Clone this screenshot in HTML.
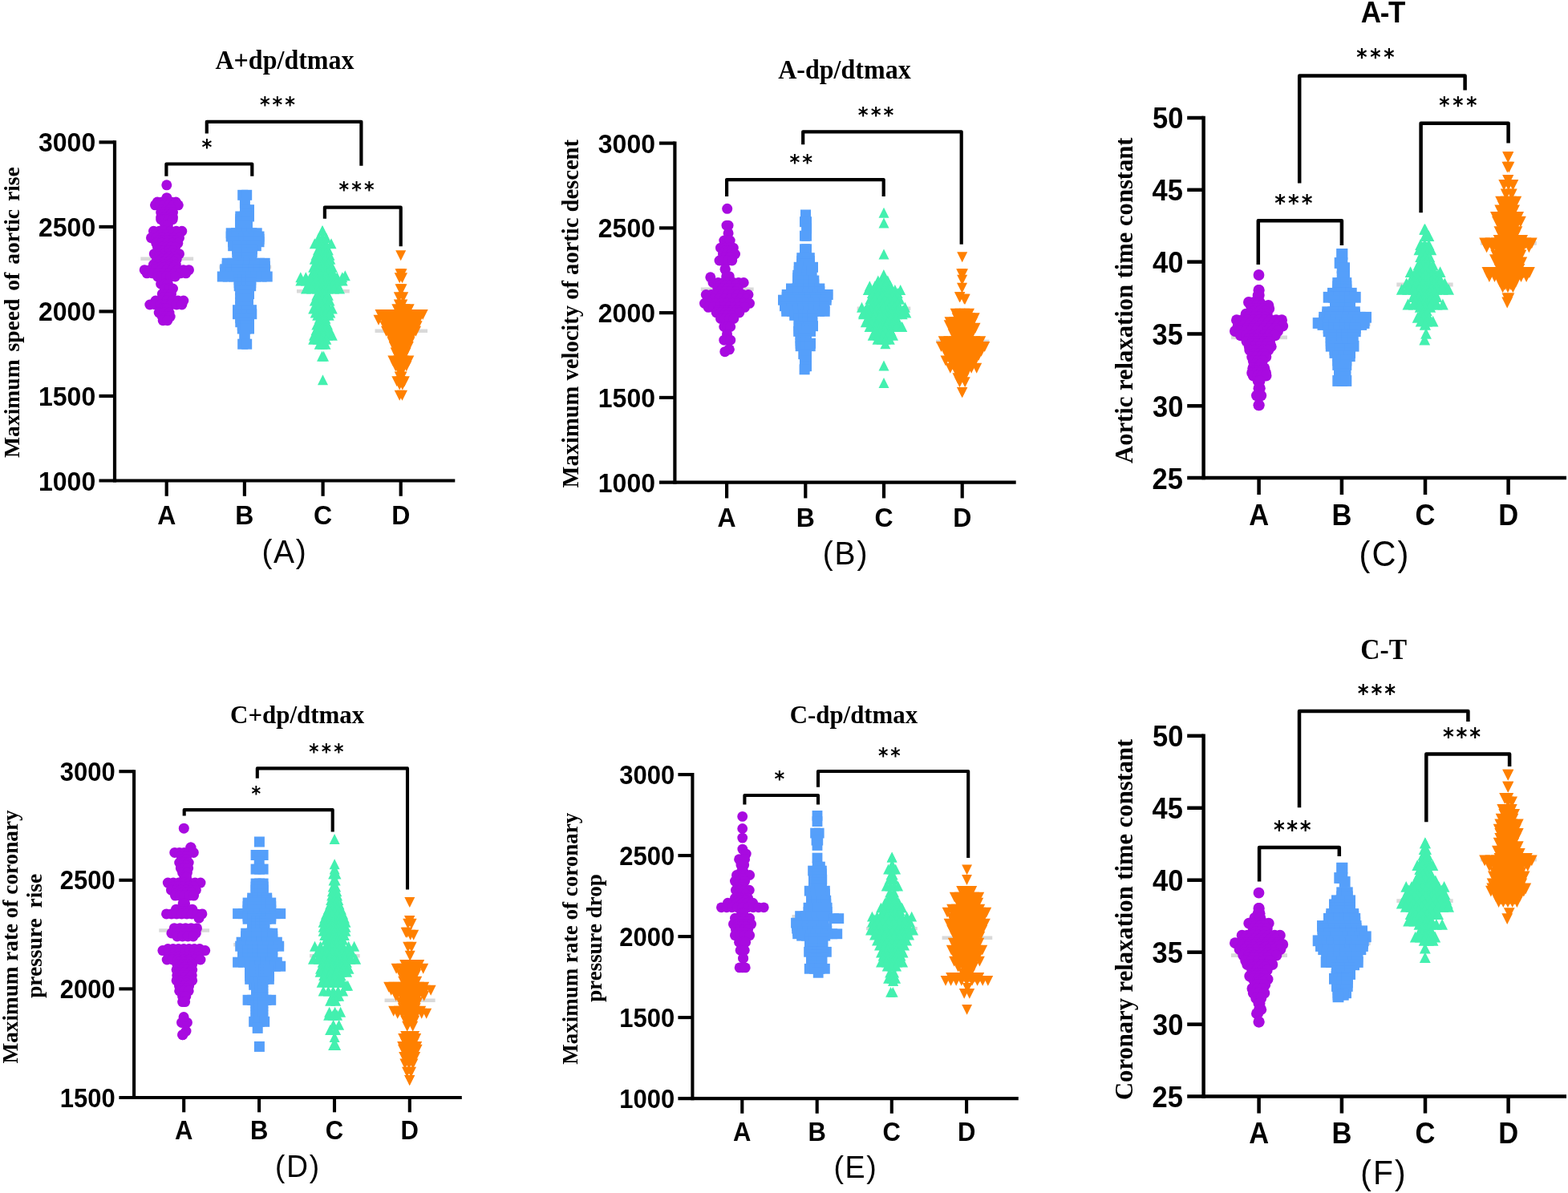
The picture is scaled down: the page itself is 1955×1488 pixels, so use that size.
<!DOCTYPE html>
<html lang="en"><head><meta charset="utf-8"><title>Figure</title>
<style>
html,body{margin:0;padding:0;background:#fff;}
body{width:1955px;height:1488px;overflow:hidden;}
svg{display:block;}
text{fill:#000;}
</style></head>
<body>
<svg width="1955" height="1488" viewBox="0 0 1955 1488">
<rect width="1955" height="1488" fill="#fff"/>
<!-- panel A -->
<line x1="175.33" y1="322.67" x2="241.17" y2="322.67" stroke="#D9D9D9" stroke-width="4.5" stroke-linecap="butt"/>
<g fill="#A80AE0"><circle cx="207.9" cy="246.7" r="6.50"/><circle cx="196.2" cy="252.0" r="6.50"/><circle cx="202.0" cy="252.0" r="6.50"/><circle cx="207.8" cy="252.0" r="6.50"/><circle cx="213.5" cy="252.0" r="6.50"/><circle cx="219.3" cy="252.0" r="6.50"/><circle cx="193.5" cy="255.8" r="6.50"/><circle cx="199.3" cy="255.8" r="6.50"/><circle cx="205.0" cy="255.8" r="6.50"/><circle cx="210.8" cy="255.8" r="6.50"/><circle cx="216.6" cy="255.8" r="6.50"/><circle cx="222.3" cy="255.8" r="6.50"/><circle cx="203.3" cy="260.4" r="6.50"/><circle cx="208.1" cy="260.4" r="6.50"/><circle cx="212.9" cy="260.4" r="6.50"/><circle cx="200.7" cy="265.0" r="6.50"/><circle cx="205.6" cy="265.0" r="6.50"/><circle cx="210.6" cy="265.0" r="6.50"/><circle cx="215.5" cy="265.0" r="6.50"/><circle cx="203.3" cy="267.9" r="6.50"/><circle cx="208.1" cy="267.9" r="6.50"/><circle cx="212.9" cy="267.9" r="6.50"/><circle cx="200.7" cy="270.8" r="6.50"/><circle cx="205.6" cy="270.8" r="6.50"/><circle cx="210.6" cy="270.8" r="6.50"/><circle cx="215.5" cy="270.8" r="6.50"/><circle cx="200.7" cy="273.7" r="6.50"/><circle cx="205.5" cy="273.7" r="6.50"/><circle cx="210.3" cy="273.7" r="6.50"/><circle cx="215.2" cy="273.7" r="6.50"/><circle cx="205.7" cy="280.8" r="6.50"/><circle cx="209.3" cy="280.8" r="6.50"/><circle cx="191.5" cy="288.3" r="6.50"/><circle cx="198.6" cy="288.3" r="6.50"/><circle cx="205.6" cy="288.3" r="6.50"/><circle cx="212.7" cy="288.3" r="6.50"/><circle cx="219.8" cy="288.3" r="6.50"/><circle cx="226.8" cy="288.3" r="6.50"/><circle cx="194.1" cy="292.5" r="6.50"/><circle cx="200.8" cy="292.5" r="6.50"/><circle cx="207.5" cy="292.5" r="6.50"/><circle cx="214.2" cy="292.5" r="6.50"/><circle cx="220.9" cy="292.5" r="6.50"/><circle cx="188.5" cy="296.7" r="6.50"/><circle cx="195.5" cy="296.7" r="6.50"/><circle cx="202.5" cy="296.7" r="6.50"/><circle cx="209.5" cy="296.7" r="6.50"/><circle cx="216.5" cy="296.7" r="6.50"/><circle cx="223.5" cy="296.7" r="6.50"/><circle cx="197.4" cy="300.0" r="6.50"/><circle cx="202.9" cy="300.0" r="6.50"/><circle cx="208.3" cy="300.0" r="6.50"/><circle cx="213.8" cy="300.0" r="6.50"/><circle cx="219.2" cy="300.0" r="6.50"/><circle cx="194.8" cy="303.3" r="6.50"/><circle cx="201.6" cy="303.3" r="6.50"/><circle cx="208.3" cy="303.3" r="6.50"/><circle cx="215.1" cy="303.3" r="6.50"/><circle cx="221.8" cy="303.3" r="6.50"/><circle cx="196.5" cy="308.3" r="6.50"/><circle cx="202.0" cy="308.3" r="6.50"/><circle cx="207.5" cy="308.3" r="6.50"/><circle cx="213.0" cy="308.3" r="6.50"/><circle cx="218.5" cy="308.3" r="6.50"/><circle cx="199.1" cy="312.5" r="6.50"/><circle cx="204.7" cy="312.5" r="6.50"/><circle cx="210.3" cy="312.5" r="6.50"/><circle cx="215.9" cy="312.5" r="6.50"/><circle cx="192.3" cy="316.7" r="6.50"/><circle cx="198.6" cy="316.7" r="6.50"/><circle cx="204.8" cy="316.7" r="6.50"/><circle cx="211.0" cy="316.7" r="6.50"/><circle cx="217.3" cy="316.7" r="6.50"/><circle cx="223.5" cy="316.7" r="6.50"/><circle cx="198.3" cy="320.0" r="6.50"/><circle cx="204.7" cy="320.0" r="6.50"/><circle cx="211.1" cy="320.0" r="6.50"/><circle cx="217.6" cy="320.0" r="6.50"/><circle cx="195.7" cy="323.3" r="6.50"/><circle cx="201.8" cy="323.3" r="6.50"/><circle cx="207.9" cy="323.3" r="6.50"/><circle cx="214.0" cy="323.3" r="6.50"/><circle cx="220.2" cy="323.3" r="6.50"/><circle cx="198.3" cy="326.7" r="6.50"/><circle cx="204.4" cy="326.7" r="6.50"/><circle cx="210.6" cy="326.7" r="6.50"/><circle cx="216.7" cy="326.7" r="6.50"/><circle cx="191.5" cy="330.0" r="6.50"/><circle cx="198.5" cy="330.0" r="6.50"/><circle cx="205.4" cy="330.0" r="6.50"/><circle cx="212.4" cy="330.0" r="6.50"/><circle cx="219.3" cy="330.0" r="6.50"/><circle cx="194.1" cy="333.3" r="6.50"/><circle cx="199.8" cy="333.3" r="6.50"/><circle cx="205.4" cy="333.3" r="6.50"/><circle cx="211.1" cy="333.3" r="6.50"/><circle cx="216.7" cy="333.3" r="6.50"/><circle cx="180.2" cy="336.7" r="6.50"/><circle cx="187.1" cy="336.7" r="6.50"/><circle cx="194.0" cy="336.7" r="6.50"/><circle cx="200.9" cy="336.7" r="6.50"/><circle cx="207.8" cy="336.7" r="6.50"/><circle cx="214.8" cy="336.7" r="6.50"/><circle cx="221.7" cy="336.7" r="6.50"/><circle cx="228.6" cy="336.7" r="6.50"/><circle cx="235.5" cy="336.7" r="6.50"/><circle cx="183.2" cy="340.8" r="6.50"/><circle cx="190.1" cy="340.8" r="6.50"/><circle cx="197.1" cy="340.8" r="6.50"/><circle cx="204.0" cy="340.8" r="6.50"/><circle cx="211.0" cy="340.8" r="6.50"/><circle cx="217.9" cy="340.8" r="6.50"/><circle cx="224.9" cy="340.8" r="6.50"/><circle cx="231.8" cy="340.8" r="6.50"/><circle cx="196.5" cy="345.0" r="6.50"/><circle cx="202.0" cy="345.0" r="6.50"/><circle cx="207.5" cy="345.0" r="6.50"/><circle cx="213.0" cy="345.0" r="6.50"/><circle cx="218.5" cy="345.0" r="6.50"/><circle cx="200.7" cy="354.2" r="6.50"/><circle cx="205.0" cy="354.2" r="6.50"/><circle cx="209.3" cy="354.2" r="6.50"/><circle cx="205.7" cy="360.0" r="6.50"/><circle cx="210.6" cy="360.0" r="6.50"/><circle cx="215.5" cy="360.0" r="6.50"/><circle cx="202.3" cy="366.7" r="6.50"/><circle cx="207.9" cy="366.7" r="6.50"/><circle cx="213.5" cy="366.7" r="6.50"/><circle cx="204.9" cy="370.8" r="6.50"/><circle cx="210.9" cy="370.8" r="6.50"/><circle cx="194.0" cy="375.0" r="6.50"/><circle cx="201.0" cy="375.0" r="6.50"/><circle cx="207.9" cy="375.0" r="6.50"/><circle cx="214.9" cy="375.0" r="6.50"/><circle cx="221.9" cy="375.0" r="6.50"/><circle cx="228.8" cy="375.0" r="6.50"/><circle cx="186.8" cy="380.0" r="6.50"/><circle cx="193.5" cy="380.0" r="6.50"/><circle cx="200.2" cy="380.0" r="6.50"/><circle cx="206.8" cy="380.0" r="6.50"/><circle cx="213.5" cy="380.0" r="6.50"/><circle cx="220.2" cy="380.0" r="6.50"/><circle cx="226.8" cy="380.0" r="6.50"/><circle cx="200.8" cy="385.0" r="6.50"/><circle cx="204.6" cy="385.0" r="6.50"/><circle cx="208.4" cy="385.0" r="6.50"/><circle cx="198.2" cy="390.0" r="6.50"/><circle cx="204.6" cy="390.0" r="6.50"/><circle cx="211.0" cy="390.0" r="6.50"/><circle cx="202.3" cy="395.0" r="6.50"/><circle cx="207.2" cy="395.0" r="6.50"/><circle cx="212.2" cy="395.0" r="6.50"/><circle cx="203.2" cy="399.7" r="6.50"/><circle cx="208.8" cy="399.7" r="6.50"/><circle cx="207.8" cy="230.8" r="6.50"/></g>
<line x1="273.33" y1="333.00" x2="338.33" y2="333.00" stroke="#D9D9D9" stroke-width="4.5" stroke-linecap="butt"/>
<g fill="#559FFA"><rect x="296.2" y="236.8" width="13.0" height="13.0"/><rect x="301.2" y="236.8" width="13.0" height="13.0"/><rect x="298.9" y="246.8" width="13.0" height="13.0"/><rect x="299.2" y="255.2" width="13.0" height="13.0"/><rect x="304.0" y="255.2" width="13.0" height="13.0"/><rect x="299.2" y="259.3" width="13.0" height="13.0"/><rect x="304.0" y="259.3" width="13.0" height="13.0"/><rect x="293.3" y="263.5" width="13.0" height="13.0"/><rect x="298.7" y="263.5" width="13.0" height="13.0"/><rect x="304.0" y="263.5" width="13.0" height="13.0"/><rect x="293.3" y="266.8" width="13.0" height="13.0"/><rect x="297.5" y="266.8" width="13.0" height="13.0"/><rect x="301.7" y="266.8" width="13.0" height="13.0"/><rect x="293.3" y="270.2" width="13.0" height="13.0"/><rect x="297.5" y="270.2" width="13.0" height="13.0"/><rect x="301.7" y="270.2" width="13.0" height="13.0"/><rect x="293.3" y="275.2" width="13.0" height="13.0"/><rect x="297.7" y="275.2" width="13.0" height="13.0"/><rect x="302.0" y="275.2" width="13.0" height="13.0"/><rect x="293.3" y="279.8" width="13.0" height="13.0"/><rect x="297.7" y="279.8" width="13.0" height="13.0"/><rect x="302.0" y="279.8" width="13.0" height="13.0"/><rect x="281.7" y="284.3" width="13.0" height="13.0"/><rect x="288.1" y="284.3" width="13.0" height="13.0"/><rect x="294.5" y="284.3" width="13.0" height="13.0"/><rect x="300.9" y="284.3" width="13.0" height="13.0"/><rect x="307.3" y="284.3" width="13.0" height="13.0"/><rect x="313.7" y="284.3" width="13.0" height="13.0"/><rect x="281.7" y="288.5" width="13.0" height="13.0"/><rect x="288.6" y="288.5" width="13.0" height="13.0"/><rect x="295.6" y="288.5" width="13.0" height="13.0"/><rect x="302.6" y="288.5" width="13.0" height="13.0"/><rect x="309.5" y="288.5" width="13.0" height="13.0"/><rect x="316.5" y="288.5" width="13.0" height="13.0"/><rect x="284.2" y="291.8" width="13.0" height="13.0"/><rect x="290.6" y="291.8" width="13.0" height="13.0"/><rect x="297.1" y="291.8" width="13.0" height="13.0"/><rect x="303.6" y="291.8" width="13.0" height="13.0"/><rect x="310.0" y="291.8" width="13.0" height="13.0"/><rect x="316.5" y="291.8" width="13.0" height="13.0"/><rect x="284.2" y="295.2" width="13.0" height="13.0"/><rect x="290.6" y="295.2" width="13.0" height="13.0"/><rect x="297.1" y="295.2" width="13.0" height="13.0"/><rect x="303.6" y="295.2" width="13.0" height="13.0"/><rect x="310.0" y="295.2" width="13.0" height="13.0"/><rect x="316.5" y="295.2" width="13.0" height="13.0"/><rect x="284.2" y="300.2" width="13.0" height="13.0"/><rect x="289.9" y="300.2" width="13.0" height="13.0"/><rect x="295.6" y="300.2" width="13.0" height="13.0"/><rect x="301.4" y="300.2" width="13.0" height="13.0"/><rect x="307.1" y="300.2" width="13.0" height="13.0"/><rect x="312.8" y="300.2" width="13.0" height="13.0"/><rect x="289.2" y="304.3" width="13.0" height="13.0"/><rect x="295.4" y="304.3" width="13.0" height="13.0"/><rect x="301.6" y="304.3" width="13.0" height="13.0"/><rect x="307.8" y="304.3" width="13.0" height="13.0"/><rect x="289.2" y="308.5" width="13.0" height="13.0"/><rect x="295.4" y="308.5" width="13.0" height="13.0"/><rect x="301.6" y="308.5" width="13.0" height="13.0"/><rect x="307.8" y="308.5" width="13.0" height="13.0"/><rect x="290.0" y="311.8" width="13.0" height="13.0"/><rect x="295.7" y="311.8" width="13.0" height="13.0"/><rect x="301.3" y="311.8" width="13.0" height="13.0"/><rect x="307.0" y="311.8" width="13.0" height="13.0"/><rect x="290.0" y="315.2" width="13.0" height="13.0"/><rect x="295.7" y="315.2" width="13.0" height="13.0"/><rect x="301.3" y="315.2" width="13.0" height="13.0"/><rect x="307.0" y="315.2" width="13.0" height="13.0"/><rect x="290.0" y="318.5" width="13.0" height="13.0"/><rect x="295.7" y="318.5" width="13.0" height="13.0"/><rect x="301.3" y="318.5" width="13.0" height="13.0"/><rect x="307.0" y="318.5" width="13.0" height="13.0"/><rect x="276.7" y="321.8" width="13.0" height="13.0"/><rect x="283.4" y="321.8" width="13.0" height="13.0"/><rect x="290.1" y="321.8" width="13.0" height="13.0"/><rect x="296.8" y="321.8" width="13.0" height="13.0"/><rect x="303.5" y="321.8" width="13.0" height="13.0"/><rect x="310.2" y="321.8" width="13.0" height="13.0"/><rect x="317.0" y="321.8" width="13.0" height="13.0"/><rect x="323.7" y="321.8" width="13.0" height="13.0"/><rect x="276.7" y="325.6" width="13.0" height="13.0"/><rect x="283.4" y="325.6" width="13.0" height="13.0"/><rect x="290.1" y="325.6" width="13.0" height="13.0"/><rect x="296.8" y="325.6" width="13.0" height="13.0"/><rect x="303.5" y="325.6" width="13.0" height="13.0"/><rect x="310.2" y="325.6" width="13.0" height="13.0"/><rect x="317.0" y="325.6" width="13.0" height="13.0"/><rect x="323.7" y="325.6" width="13.0" height="13.0"/><rect x="274.2" y="329.3" width="13.0" height="13.0"/><rect x="281.2" y="329.3" width="13.0" height="13.0"/><rect x="288.3" y="329.3" width="13.0" height="13.0"/><rect x="295.4" y="329.3" width="13.0" height="13.0"/><rect x="302.5" y="329.3" width="13.0" height="13.0"/><rect x="309.5" y="329.3" width="13.0" height="13.0"/><rect x="316.6" y="329.3" width="13.0" height="13.0"/><rect x="323.7" y="329.3" width="13.0" height="13.0"/><rect x="274.2" y="333.9" width="13.0" height="13.0"/><rect x="281.2" y="333.9" width="13.0" height="13.0"/><rect x="288.3" y="333.9" width="13.0" height="13.0"/><rect x="295.4" y="333.9" width="13.0" height="13.0"/><rect x="302.5" y="333.9" width="13.0" height="13.0"/><rect x="309.5" y="333.9" width="13.0" height="13.0"/><rect x="316.6" y="333.9" width="13.0" height="13.0"/><rect x="323.7" y="333.9" width="13.0" height="13.0"/><rect x="270.8" y="338.5" width="13.0" height="13.0"/><rect x="277.8" y="338.5" width="13.0" height="13.0"/><rect x="284.8" y="338.5" width="13.0" height="13.0"/><rect x="291.8" y="338.5" width="13.0" height="13.0"/><rect x="298.8" y="338.5" width="13.0" height="13.0"/><rect x="305.7" y="338.5" width="13.0" height="13.0"/><rect x="312.7" y="338.5" width="13.0" height="13.0"/><rect x="319.7" y="338.5" width="13.0" height="13.0"/><rect x="326.7" y="338.5" width="13.0" height="13.0"/><rect x="291.7" y="342.4" width="13.0" height="13.0"/><rect x="296.5" y="342.4" width="13.0" height="13.0"/><rect x="301.3" y="342.4" width="13.0" height="13.0"/><rect x="306.2" y="342.4" width="13.0" height="13.0"/><rect x="291.7" y="346.3" width="13.0" height="13.0"/><rect x="296.5" y="346.3" width="13.0" height="13.0"/><rect x="301.3" y="346.3" width="13.0" height="13.0"/><rect x="306.2" y="346.3" width="13.0" height="13.0"/><rect x="291.7" y="350.2" width="13.0" height="13.0"/><rect x="296.5" y="350.2" width="13.0" height="13.0"/><rect x="301.3" y="350.2" width="13.0" height="13.0"/><rect x="306.2" y="350.2" width="13.0" height="13.0"/><rect x="293.3" y="355.2" width="13.0" height="13.0"/><rect x="298.7" y="355.2" width="13.0" height="13.0"/><rect x="304.0" y="355.2" width="13.0" height="13.0"/><rect x="293.3" y="360.2" width="13.0" height="13.0"/><rect x="298.7" y="360.2" width="13.0" height="13.0"/><rect x="304.0" y="360.2" width="13.0" height="13.0"/><rect x="293.3" y="365.6" width="13.0" height="13.0"/><rect x="298.1" y="365.6" width="13.0" height="13.0"/><rect x="302.8" y="365.6" width="13.0" height="13.0"/><rect x="293.3" y="371.0" width="13.0" height="13.0"/><rect x="298.1" y="371.0" width="13.0" height="13.0"/><rect x="302.8" y="371.0" width="13.0" height="13.0"/><rect x="293.3" y="375.6" width="13.0" height="13.0"/><rect x="298.1" y="375.6" width="13.0" height="13.0"/><rect x="302.8" y="375.6" width="13.0" height="13.0"/><rect x="290.0" y="380.2" width="13.0" height="13.0"/><rect x="295.7" y="380.2" width="13.0" height="13.0"/><rect x="301.3" y="380.2" width="13.0" height="13.0"/><rect x="307.0" y="380.2" width="13.0" height="13.0"/><rect x="290.0" y="385.2" width="13.0" height="13.0"/><rect x="295.8" y="385.2" width="13.0" height="13.0"/><rect x="301.6" y="385.2" width="13.0" height="13.0"/><rect x="307.3" y="385.2" width="13.0" height="13.0"/><rect x="293.3" y="390.2" width="13.0" height="13.0"/><rect x="298.7" y="390.2" width="13.0" height="13.0"/><rect x="304.0" y="390.2" width="13.0" height="13.0"/><rect x="293.3" y="395.2" width="13.0" height="13.0"/><rect x="298.7" y="395.2" width="13.0" height="13.0"/><rect x="304.0" y="395.2" width="13.0" height="13.0"/><rect x="295.8" y="399.3" width="13.0" height="13.0"/><rect x="299.9" y="399.3" width="13.0" height="13.0"/><rect x="304.0" y="399.3" width="13.0" height="13.0"/><rect x="295.8" y="403.5" width="13.0" height="13.0"/><rect x="299.9" y="403.5" width="13.0" height="13.0"/><rect x="304.0" y="403.5" width="13.0" height="13.0"/><rect x="298.3" y="411.0" width="13.0" height="13.0"/><rect x="298.7" y="411.0" width="13.0" height="13.0"/><rect x="296.2" y="422.7" width="13.0" height="13.0"/><rect x="301.2" y="422.7" width="13.0" height="13.0"/></g>
<line x1="370.00" y1="363.33" x2="435.83" y2="363.33" stroke="#D9D9D9" stroke-width="4.5" stroke-linecap="butt"/>
<g fill="#43F0AF"><path d="M401.8,281.3l6.5,13.0h-13.0z"/><path d="M402.2,281.3l6.5,13.0h-13.0z"/><path d="M397.3,290.2l6.5,13.0h-13.0z"/><path d="M402.1,290.2l6.5,13.0h-13.0z"/><path d="M406.8,290.2l6.5,13.0h-13.0z"/><path d="M399.9,293.8l6.5,13.0h-13.0z"/><path d="M404.2,293.8l6.5,13.0h-13.0z"/><path d="M392.3,297.3l6.5,13.0h-13.0z"/><path d="M399.2,297.3l6.5,13.0h-13.0z"/><path d="M406.1,297.3l6.5,13.0h-13.0z"/><path d="M413.0,297.3l6.5,13.0h-13.0z"/><path d="M399.1,301.2l6.5,13.0h-13.0z"/><path d="M402.9,301.2l6.5,13.0h-13.0z"/><path d="M406.7,301.2l6.5,13.0h-13.0z"/><path d="M396.5,305.2l6.5,13.0h-13.0z"/><path d="M402.9,305.2l6.5,13.0h-13.0z"/><path d="M409.3,305.2l6.5,13.0h-13.0z"/><path d="M399.1,308.5l6.5,13.0h-13.0z"/><path d="M402.9,308.5l6.5,13.0h-13.0z"/><path d="M406.7,308.5l6.5,13.0h-13.0z"/><path d="M394.0,311.8l6.5,13.0h-13.0z"/><path d="M399.7,311.8l6.5,13.0h-13.0z"/><path d="M405.3,311.8l6.5,13.0h-13.0z"/><path d="M411.0,311.8l6.5,13.0h-13.0z"/><path d="M392.3,316.8l6.5,13.0h-13.0z"/><path d="M398.8,316.8l6.5,13.0h-13.0z"/><path d="M405.3,316.8l6.5,13.0h-13.0z"/><path d="M411.8,316.8l6.5,13.0h-13.0z"/><path d="M394.9,321.8l6.5,13.0h-13.0z"/><path d="M402.1,321.8l6.5,13.0h-13.0z"/><path d="M409.2,321.8l6.5,13.0h-13.0z"/><path d="M390.7,326.8l6.5,13.0h-13.0z"/><path d="M396.6,326.8l6.5,13.0h-13.0z"/><path d="M402.5,326.8l6.5,13.0h-13.0z"/><path d="M408.4,326.8l6.5,13.0h-13.0z"/><path d="M414.3,326.8l6.5,13.0h-13.0z"/><path d="M393.3,330.2l6.5,13.0h-13.0z"/><path d="M399.4,330.2l6.5,13.0h-13.0z"/><path d="M405.6,330.2l6.5,13.0h-13.0z"/><path d="M411.7,330.2l6.5,13.0h-13.0z"/><path d="M389.8,333.5l6.5,13.0h-13.0z"/><path d="M396.2,333.5l6.5,13.0h-13.0z"/><path d="M402.5,333.5l6.5,13.0h-13.0z"/><path d="M408.8,333.5l6.5,13.0h-13.0z"/><path d="M415.2,333.5l6.5,13.0h-13.0z"/><path d="M392.4,336.4l6.5,13.0h-13.0z"/><path d="M399.1,336.4l6.5,13.0h-13.0z"/><path d="M405.9,336.4l6.5,13.0h-13.0z"/><path d="M412.6,336.4l6.5,13.0h-13.0z"/><path d="M374.8,339.3l6.5,13.0h-13.0z"/><path d="M381.3,339.3l6.5,13.0h-13.0z"/><path d="M387.8,339.3l6.5,13.0h-13.0z"/><path d="M394.3,339.3l6.5,13.0h-13.0z"/><path d="M400.8,339.3l6.5,13.0h-13.0z"/><path d="M407.3,339.3l6.5,13.0h-13.0z"/><path d="M413.8,339.3l6.5,13.0h-13.0z"/><path d="M420.3,339.3l6.5,13.0h-13.0z"/><path d="M426.8,339.3l6.5,13.0h-13.0z"/><path d="M374.8,343.5l6.5,13.0h-13.0z"/><path d="M381.4,343.5l6.5,13.0h-13.0z"/><path d="M387.9,343.5l6.5,13.0h-13.0z"/><path d="M394.5,343.5l6.5,13.0h-13.0z"/><path d="M401.0,343.5l6.5,13.0h-13.0z"/><path d="M407.5,343.5l6.5,13.0h-13.0z"/><path d="M414.1,343.5l6.5,13.0h-13.0z"/><path d="M420.6,343.5l6.5,13.0h-13.0z"/><path d="M427.2,343.5l6.5,13.0h-13.0z"/><path d="M384.1,348.5l6.5,13.0h-13.0z"/><path d="M390.2,348.5l6.5,13.0h-13.0z"/><path d="M396.4,348.5l6.5,13.0h-13.0z"/><path d="M402.5,348.5l6.5,13.0h-13.0z"/><path d="M408.6,348.5l6.5,13.0h-13.0z"/><path d="M414.8,348.5l6.5,13.0h-13.0z"/><path d="M420.9,348.5l6.5,13.0h-13.0z"/><path d="M381.5,353.5l6.5,13.0h-13.0z"/><path d="M388.5,353.5l6.5,13.0h-13.0z"/><path d="M395.5,353.5l6.5,13.0h-13.0z"/><path d="M402.5,353.5l6.5,13.0h-13.0z"/><path d="M409.5,353.5l6.5,13.0h-13.0z"/><path d="M416.5,353.5l6.5,13.0h-13.0z"/><path d="M423.5,353.5l6.5,13.0h-13.0z"/><path d="M397.4,357.7l6.5,13.0h-13.0z"/><path d="M402.1,357.7l6.5,13.0h-13.0z"/><path d="M406.7,357.7l6.5,13.0h-13.0z"/><path d="M394.8,361.8l6.5,13.0h-13.0z"/><path d="M399.7,361.8l6.5,13.0h-13.0z"/><path d="M404.5,361.8l6.5,13.0h-13.0z"/><path d="M409.3,361.8l6.5,13.0h-13.0z"/><path d="M397.4,365.2l6.5,13.0h-13.0z"/><path d="M402.1,365.2l6.5,13.0h-13.0z"/><path d="M406.7,365.2l6.5,13.0h-13.0z"/><path d="M392.3,368.5l6.5,13.0h-13.0z"/><path d="M398.6,368.5l6.5,13.0h-13.0z"/><path d="M404.8,368.5l6.5,13.0h-13.0z"/><path d="M411.0,368.5l6.5,13.0h-13.0z"/><path d="M394.9,373.5l6.5,13.0h-13.0z"/><path d="M401.7,373.5l6.5,13.0h-13.0z"/><path d="M408.4,373.5l6.5,13.0h-13.0z"/><path d="M390.7,378.5l6.5,13.0h-13.0z"/><path d="M396.6,378.5l6.5,13.0h-13.0z"/><path d="M402.5,378.5l6.5,13.0h-13.0z"/><path d="M408.4,378.5l6.5,13.0h-13.0z"/><path d="M414.3,378.5l6.5,13.0h-13.0z"/><path d="M393.2,383.5l6.5,13.0h-13.0z"/><path d="M399.4,383.5l6.5,13.0h-13.0z"/><path d="M405.6,383.5l6.5,13.0h-13.0z"/><path d="M411.8,383.5l6.5,13.0h-13.0z"/><path d="M395.7,386.8l6.5,13.0h-13.0z"/><path d="M400.5,386.8l6.5,13.0h-13.0z"/><path d="M405.3,386.8l6.5,13.0h-13.0z"/><path d="M410.2,386.8l6.5,13.0h-13.0z"/><path d="M398.3,390.7l6.5,13.0h-13.0z"/><path d="M402.1,390.7l6.5,13.0h-13.0z"/><path d="M405.9,390.7l6.5,13.0h-13.0z"/><path d="M398.3,394.6l6.5,13.0h-13.0z"/><path d="M402.1,394.6l6.5,13.0h-13.0z"/><path d="M405.9,394.6l6.5,13.0h-13.0z"/><path d="M394.8,398.5l6.5,13.0h-13.0z"/><path d="M401.7,398.5l6.5,13.0h-13.0z"/><path d="M408.5,398.5l6.5,13.0h-13.0z"/><path d="M397.4,401.8l6.5,13.0h-13.0z"/><path d="M401.7,401.8l6.5,13.0h-13.0z"/><path d="M405.9,401.8l6.5,13.0h-13.0z"/><path d="M394.0,405.2l6.5,13.0h-13.0z"/><path d="M399.7,405.2l6.5,13.0h-13.0z"/><path d="M405.3,405.2l6.5,13.0h-13.0z"/><path d="M411.0,405.2l6.5,13.0h-13.0z"/><path d="M396.6,408.5l6.5,13.0h-13.0z"/><path d="M402.5,408.5l6.5,13.0h-13.0z"/><path d="M408.4,408.5l6.5,13.0h-13.0z"/><path d="M391.5,411.8l6.5,13.0h-13.0z"/><path d="M397.2,411.8l6.5,13.0h-13.0z"/><path d="M402.9,411.8l6.5,13.0h-13.0z"/><path d="M408.6,411.8l6.5,13.0h-13.0z"/><path d="M414.3,411.8l6.5,13.0h-13.0z"/><path d="M390.7,416.8l6.5,13.0h-13.0z"/><path d="M396.1,416.8l6.5,13.0h-13.0z"/><path d="M401.4,416.8l6.5,13.0h-13.0z"/><path d="M406.8,416.8l6.5,13.0h-13.0z"/><path d="M398.2,422.7l6.5,13.0h-13.0z"/><path d="M402.1,422.7l6.5,13.0h-13.0z"/><path d="M406.0,422.7l6.5,13.0h-13.0z"/><path d="M401.5,437.7l6.5,13.0h-13.0z"/><path d="M403.5,437.7l6.5,13.0h-13.0z"/><path d="M402.5,467.2l6.5,13.0h-13.0z"/><path d="M430.3,337.2l6.5,13.0h-13.0z"/></g>
<line x1="467.50" y1="412.67" x2="533.00" y2="412.67" stroke="#D9D9D9" stroke-width="4.5" stroke-linecap="butt"/>
<g fill="#FF8000"><path d="M499.0,348.2l6.5,-13.0h-13.0z"/><path d="M501.0,348.2l6.5,-13.0h-13.0z"/><path d="M498.2,353.2l6.5,-13.0h-13.0z"/><path d="M501.5,353.2l6.5,-13.0h-13.0z"/><path d="M499.0,367.3l6.5,-13.0h-13.0z"/><path d="M501.0,367.3l6.5,-13.0h-13.0z"/><path d="M497.3,377.3l6.5,-13.0h-13.0z"/><path d="M502.7,377.3l6.5,-13.0h-13.0z"/><path d="M497.3,386.5l6.5,-13.0h-13.0z"/><path d="M501.8,386.5l6.5,-13.0h-13.0z"/><path d="M494.8,392.3l6.5,-13.0h-13.0z"/><path d="M499.9,392.3l6.5,-13.0h-13.0z"/><path d="M505.1,392.3l6.5,-13.0h-13.0z"/><path d="M510.2,392.3l6.5,-13.0h-13.0z"/><path d="M497.4,395.7l6.5,-13.0h-13.0z"/><path d="M502.5,395.7l6.5,-13.0h-13.0z"/><path d="M507.6,395.7l6.5,-13.0h-13.0z"/><path d="M474.0,399.0l6.5,-13.0h-13.0z"/><path d="M480.6,399.0l6.5,-13.0h-13.0z"/><path d="M487.3,399.0l6.5,-13.0h-13.0z"/><path d="M493.9,399.0l6.5,-13.0h-13.0z"/><path d="M500.6,399.0l6.5,-13.0h-13.0z"/><path d="M507.2,399.0l6.5,-13.0h-13.0z"/><path d="M513.9,399.0l6.5,-13.0h-13.0z"/><path d="M520.5,399.0l6.5,-13.0h-13.0z"/><path d="M527.2,399.0l6.5,-13.0h-13.0z"/><path d="M476.6,402.3l6.5,-13.0h-13.0z"/><path d="M483.7,402.3l6.5,-13.0h-13.0z"/><path d="M490.8,402.3l6.5,-13.0h-13.0z"/><path d="M497.9,402.3l6.5,-13.0h-13.0z"/><path d="M505.0,402.3l6.5,-13.0h-13.0z"/><path d="M512.1,402.3l6.5,-13.0h-13.0z"/><path d="M519.2,402.3l6.5,-13.0h-13.0z"/><path d="M472.0,405.7l6.5,-13.0h-13.0z"/><path d="M479.1,405.7l6.5,-13.0h-13.0z"/><path d="M486.2,405.7l6.5,-13.0h-13.0z"/><path d="M493.4,405.7l6.5,-13.0h-13.0z"/><path d="M500.5,405.7l6.5,-13.0h-13.0z"/><path d="M507.6,405.7l6.5,-13.0h-13.0z"/><path d="M514.7,405.7l6.5,-13.0h-13.0z"/><path d="M521.8,405.7l6.5,-13.0h-13.0z"/><path d="M482.4,409.4l6.5,-13.0h-13.0z"/><path d="M489.5,409.4l6.5,-13.0h-13.0z"/><path d="M496.5,409.4l6.5,-13.0h-13.0z"/><path d="M503.5,409.4l6.5,-13.0h-13.0z"/><path d="M510.5,409.4l6.5,-13.0h-13.0z"/><path d="M517.6,409.4l6.5,-13.0h-13.0z"/><path d="M479.8,413.2l6.5,-13.0h-13.0z"/><path d="M486.6,413.2l6.5,-13.0h-13.0z"/><path d="M493.3,413.2l6.5,-13.0h-13.0z"/><path d="M500.0,413.2l6.5,-13.0h-13.0z"/><path d="M506.7,413.2l6.5,-13.0h-13.0z"/><path d="M513.4,413.2l6.5,-13.0h-13.0z"/><path d="M520.2,413.2l6.5,-13.0h-13.0z"/><path d="M484.1,416.5l6.5,-13.0h-13.0z"/><path d="M490.5,416.5l6.5,-13.0h-13.0z"/><path d="M496.8,416.5l6.5,-13.0h-13.0z"/><path d="M503.2,416.5l6.5,-13.0h-13.0z"/><path d="M509.5,416.5l6.5,-13.0h-13.0z"/><path d="M515.9,416.5l6.5,-13.0h-13.0z"/><path d="M481.5,419.8l6.5,-13.0h-13.0z"/><path d="M487.7,419.8l6.5,-13.0h-13.0z"/><path d="M493.8,419.8l6.5,-13.0h-13.0z"/><path d="M500.0,419.8l6.5,-13.0h-13.0z"/><path d="M506.2,419.8l6.5,-13.0h-13.0z"/><path d="M512.3,419.8l6.5,-13.0h-13.0z"/><path d="M518.5,419.8l6.5,-13.0h-13.0z"/><path d="M489.1,423.2l6.5,-13.0h-13.0z"/><path d="M494.6,423.2l6.5,-13.0h-13.0z"/><path d="M500.0,423.2l6.5,-13.0h-13.0z"/><path d="M505.4,423.2l6.5,-13.0h-13.0z"/><path d="M510.9,423.2l6.5,-13.0h-13.0z"/><path d="M486.5,426.5l6.5,-13.0h-13.0z"/><path d="M493.2,426.5l6.5,-13.0h-13.0z"/><path d="M500.0,426.5l6.5,-13.0h-13.0z"/><path d="M506.8,426.5l6.5,-13.0h-13.0z"/><path d="M513.5,426.5l6.5,-13.0h-13.0z"/><path d="M491.6,429.8l6.5,-13.0h-13.0z"/><path d="M497.2,429.8l6.5,-13.0h-13.0z"/><path d="M502.8,429.8l6.5,-13.0h-13.0z"/><path d="M508.4,429.8l6.5,-13.0h-13.0z"/><path d="M489.0,433.2l6.5,-13.0h-13.0z"/><path d="M494.5,433.2l6.5,-13.0h-13.0z"/><path d="M500.0,433.2l6.5,-13.0h-13.0z"/><path d="M505.5,433.2l6.5,-13.0h-13.0z"/><path d="M511.0,433.2l6.5,-13.0h-13.0z"/><path d="M493.8,436.1l6.5,-13.0h-13.0z"/><path d="M500.2,436.1l6.5,-13.0h-13.0z"/><path d="M506.7,436.1l6.5,-13.0h-13.0z"/><path d="M491.2,439.0l6.5,-13.0h-13.0z"/><path d="M497.2,439.0l6.5,-13.0h-13.0z"/><path d="M503.3,439.0l6.5,-13.0h-13.0z"/><path d="M509.3,439.0l6.5,-13.0h-13.0z"/><path d="M495.8,442.8l6.5,-13.0h-13.0z"/><path d="M499.6,442.8l6.5,-13.0h-13.0z"/><path d="M503.4,442.8l6.5,-13.0h-13.0z"/><path d="M493.2,446.5l6.5,-13.0h-13.0z"/><path d="M499.6,446.5l6.5,-13.0h-13.0z"/><path d="M506.0,446.5l6.5,-13.0h-13.0z"/><path d="M495.8,451.5l6.5,-13.0h-13.0z"/><path d="M499.6,451.5l6.5,-13.0h-13.0z"/><path d="M503.4,451.5l6.5,-13.0h-13.0z"/><path d="M489.8,456.5l6.5,-13.0h-13.0z"/><path d="M496.5,456.5l6.5,-13.0h-13.0z"/><path d="M503.2,456.5l6.5,-13.0h-13.0z"/><path d="M509.8,456.5l6.5,-13.0h-13.0z"/><path d="M495.8,459.8l6.5,-13.0h-13.0z"/><path d="M500.0,459.8l6.5,-13.0h-13.0z"/><path d="M504.2,459.8l6.5,-13.0h-13.0z"/><path d="M493.2,463.2l6.5,-13.0h-13.0z"/><path d="M500.0,463.2l6.5,-13.0h-13.0z"/><path d="M506.8,463.2l6.5,-13.0h-13.0z"/><path d="M498.2,469.8l6.5,-13.0h-13.0z"/><path d="M501.0,469.8l6.5,-13.0h-13.0z"/><path d="M498.2,476.5l6.5,-13.0h-13.0z"/><path d="M501.0,476.5l6.5,-13.0h-13.0z"/><path d="M494.8,482.3l6.5,-13.0h-13.0z"/><path d="M499.6,482.3l6.5,-13.0h-13.0z"/><path d="M504.3,482.3l6.5,-13.0h-13.0z"/><path d="M498.2,486.5l6.5,-13.0h-13.0z"/><path d="M501.8,486.5l6.5,-13.0h-13.0z"/><path d="M498.2,499.8l6.5,-13.0h-13.0z"/><path d="M501.5,499.8l6.5,-13.0h-13.0z"/><path d="M499.7,325.3l6.5,-13.0h-13.0z"/></g>
<line x1="143.00" y1="175.30" x2="143.00" y2="601.60" stroke="#000" stroke-width="4.2" stroke-linecap="butt"/>
<line x1="123.50" y1="599.50" x2="567.30" y2="599.50" stroke="#000" stroke-width="4.2" stroke-linecap="butt"/>
<line x1="123.50" y1="177.40" x2="143.00" y2="177.40" stroke="#000" stroke-width="4.2" stroke-linecap="butt"/>
<line x1="123.50" y1="282.93" x2="143.00" y2="282.93" stroke="#000" stroke-width="4.2" stroke-linecap="butt"/>
<line x1="123.50" y1="388.45" x2="143.00" y2="388.45" stroke="#000" stroke-width="4.2" stroke-linecap="butt"/>
<line x1="123.50" y1="493.98" x2="143.00" y2="493.98" stroke="#000" stroke-width="4.2" stroke-linecap="butt"/>
<line x1="207.70" y1="599.50" x2="207.70" y2="618.80" stroke="#000" stroke-width="4.2" stroke-linecap="butt"/>
<line x1="304.90" y1="599.50" x2="304.90" y2="618.80" stroke="#000" stroke-width="4.2" stroke-linecap="butt"/>
<line x1="402.60" y1="599.50" x2="402.60" y2="618.80" stroke="#000" stroke-width="4.2" stroke-linecap="butt"/>
<line x1="499.70" y1="599.50" x2="499.70" y2="618.80" stroke="#000" stroke-width="4.2" stroke-linecap="butt"/>
<text transform="translate(48.03,189.40) scale(1,1.0450)" font-family='"Liberation Sans", Arial, sans-serif' font-weight="bold" font-size="32.00">3000</text>
<text transform="translate(48.03,294.93) scale(1,1.0450)" font-family='"Liberation Sans", Arial, sans-serif' font-weight="bold" font-size="32.00">2500</text>
<text transform="translate(48.03,400.45) scale(1,1.0450)" font-family='"Liberation Sans", Arial, sans-serif' font-weight="bold" font-size="32.00">2000</text>
<text transform="translate(48.03,505.98) scale(1,1.0450)" font-family='"Liberation Sans", Arial, sans-serif' font-weight="bold" font-size="32.00">1500</text>
<text transform="translate(48.03,611.50) scale(1,1.0450)" font-family='"Liberation Sans", Arial, sans-serif' font-weight="bold" font-size="32.00">1000</text>
<text transform="translate(196.14,653.60) scale(1,1.0600)" font-family='"Liberation Sans", Arial, sans-serif' font-weight="bold" font-size="32.00">A</text>
<text transform="translate(293.34,653.60) scale(1,1.0600)" font-family='"Liberation Sans", Arial, sans-serif' font-weight="bold" font-size="32.00">B</text>
<text transform="translate(391.05,653.60) scale(1,1.0600)" font-family='"Liberation Sans", Arial, sans-serif' font-weight="bold" font-size="32.00">C</text>
<text transform="translate(488.14,653.60) scale(1,1.0600)" font-family='"Liberation Sans", Arial, sans-serif' font-weight="bold" font-size="32.00">D</text>
<text transform="translate(326.43,702.00) scale(1,1.0500)" font-family='"Liberation Sans", Arial, sans-serif' font-weight="normal" font-size="39.00" letter-spacing="1.67">(A)</text>
<text transform="translate(268.48,85.50) scale(1,1.0300)" font-family='"Liberation Serif", "Times New Roman", serif' font-weight="bold" font-size="32.04">A+dp/dtmax</text>
<text transform="translate(23.90,570.50) rotate(-90)" x="-0.46" y="0" font-family='"Liberation Serif", "Times New Roman", serif' font-weight="bold" font-size="27.60" word-spacing="2.956">Maximum speed of aortic rise</text>
<path d="M257.80,166.60 V151.80 H450.40 V206.80" fill="none" stroke="#000" stroke-width="4.2" stroke-linejoin="round" stroke-linecap="butt"/>
<path d="M207.40,219.80 V204.50 H314.30 V219.80" fill="none" stroke="#000" stroke-width="4.2" stroke-linejoin="round" stroke-linecap="butt"/>
<path d="M404.90,272.70 V258.70 H499.70 V307.30" fill="none" stroke="#000" stroke-width="4.2" stroke-linejoin="round" stroke-linecap="butt"/>
<text transform="translate(323.91,139.55) scale(0.9011,1)" font-family='"DejaVu Sans", "Liberation Sans", sans-serif' font-weight="bold" font-size="26.98" letter-spacing="3.23">***</text>
<text transform="translate(251.51,192.81) scale(0.9054,1)" font-family='"DejaVu Sans", "Liberation Sans", sans-serif' font-weight="bold" font-size="27.19" letter-spacing="-0.00">*</text>
<text transform="translate(422.42,246.19) scale(0.9011,1)" font-family='"DejaVu Sans", "Liberation Sans", sans-serif' font-weight="bold" font-size="26.76" letter-spacing="3.56">***</text>
<!-- panel B -->
<line x1="873.83" y1="360.67" x2="939.67" y2="360.67" stroke="#D9D9D9" stroke-width="4.5" stroke-linecap="butt"/>
<g fill="#A80AE0"><circle cx="906.0" cy="281.2" r="6.50"/><circle cx="908.0" cy="281.2" r="6.50"/><circle cx="908.1" cy="290.8" r="6.50"/><circle cx="902.8" cy="300.0" r="6.50"/><circle cx="906.5" cy="300.0" r="6.50"/><circle cx="910.2" cy="300.0" r="6.50"/><circle cx="898.5" cy="309.2" r="6.50"/><circle cx="903.8" cy="309.2" r="6.50"/><circle cx="909.1" cy="309.2" r="6.50"/><circle cx="914.3" cy="309.2" r="6.50"/><circle cx="904.1" cy="313.1" r="6.50"/><circle cx="907.9" cy="313.1" r="6.50"/><circle cx="911.7" cy="313.1" r="6.50"/><circle cx="901.5" cy="317.0" r="6.50"/><circle cx="906.5" cy="317.0" r="6.50"/><circle cx="911.5" cy="317.0" r="6.50"/><circle cx="916.5" cy="317.0" r="6.50"/><circle cx="904.1" cy="321.0" r="6.50"/><circle cx="910.1" cy="321.0" r="6.50"/><circle cx="897.0" cy="325.0" r="6.50"/><circle cx="902.2" cy="325.0" r="6.50"/><circle cx="907.4" cy="325.0" r="6.50"/><circle cx="912.7" cy="325.0" r="6.50"/><circle cx="904.0" cy="335.8" r="6.50"/><circle cx="904.3" cy="335.8" r="6.50"/><circle cx="905.7" cy="344.7" r="6.50"/><circle cx="909.3" cy="344.7" r="6.50"/><circle cx="889.0" cy="352.5" r="6.50"/><circle cx="895.4" cy="352.5" r="6.50"/><circle cx="901.7" cy="352.5" r="6.50"/><circle cx="908.1" cy="352.5" r="6.50"/><circle cx="914.4" cy="352.5" r="6.50"/><circle cx="920.8" cy="352.5" r="6.50"/><circle cx="927.2" cy="352.5" r="6.50"/><circle cx="897.4" cy="356.2" r="6.50"/><circle cx="904.1" cy="356.2" r="6.50"/><circle cx="910.9" cy="356.2" r="6.50"/><circle cx="917.6" cy="356.2" r="6.50"/><circle cx="894.8" cy="360.0" r="6.50"/><circle cx="901.2" cy="360.0" r="6.50"/><circle cx="907.5" cy="360.0" r="6.50"/><circle cx="913.8" cy="360.0" r="6.50"/><circle cx="920.2" cy="360.0" r="6.50"/><circle cx="897.4" cy="363.8" r="6.50"/><circle cx="904.1" cy="363.8" r="6.50"/><circle cx="910.9" cy="363.8" r="6.50"/><circle cx="917.6" cy="363.8" r="6.50"/><circle cx="880.3" cy="367.5" r="6.50"/><circle cx="886.9" cy="367.5" r="6.50"/><circle cx="893.5" cy="367.5" r="6.50"/><circle cx="900.1" cy="367.5" r="6.50"/><circle cx="906.7" cy="367.5" r="6.50"/><circle cx="913.2" cy="367.5" r="6.50"/><circle cx="919.8" cy="367.5" r="6.50"/><circle cx="926.4" cy="367.5" r="6.50"/><circle cx="933.0" cy="367.5" r="6.50"/><circle cx="882.9" cy="372.9" r="6.50"/><circle cx="889.7" cy="372.9" r="6.50"/><circle cx="896.5" cy="372.9" r="6.50"/><circle cx="903.3" cy="372.9" r="6.50"/><circle cx="910.1" cy="372.9" r="6.50"/><circle cx="916.8" cy="372.9" r="6.50"/><circle cx="923.6" cy="372.9" r="6.50"/><circle cx="930.4" cy="372.9" r="6.50"/><circle cx="878.5" cy="378.3" r="6.50"/><circle cx="885.5" cy="378.3" r="6.50"/><circle cx="892.5" cy="378.3" r="6.50"/><circle cx="899.5" cy="378.3" r="6.50"/><circle cx="906.5" cy="378.3" r="6.50"/><circle cx="913.5" cy="378.3" r="6.50"/><circle cx="920.5" cy="378.3" r="6.50"/><circle cx="927.5" cy="378.3" r="6.50"/><circle cx="934.5" cy="378.3" r="6.50"/><circle cx="883.2" cy="383.3" r="6.50"/><circle cx="889.6" cy="383.3" r="6.50"/><circle cx="896.1" cy="383.3" r="6.50"/><circle cx="902.6" cy="383.3" r="6.50"/><circle cx="909.1" cy="383.3" r="6.50"/><circle cx="915.5" cy="383.3" r="6.50"/><circle cx="922.0" cy="383.3" r="6.50"/><circle cx="928.5" cy="383.3" r="6.50"/><circle cx="895.8" cy="386.7" r="6.50"/><circle cx="901.6" cy="386.7" r="6.50"/><circle cx="907.5" cy="386.7" r="6.50"/><circle cx="913.4" cy="386.7" r="6.50"/><circle cx="919.2" cy="386.7" r="6.50"/><circle cx="893.2" cy="390.0" r="6.50"/><circle cx="898.9" cy="390.0" r="6.50"/><circle cx="904.6" cy="390.0" r="6.50"/><circle cx="910.4" cy="390.0" r="6.50"/><circle cx="916.1" cy="390.0" r="6.50"/><circle cx="921.8" cy="390.0" r="6.50"/><circle cx="901.1" cy="393.8" r="6.50"/><circle cx="906.7" cy="393.8" r="6.50"/><circle cx="912.2" cy="393.8" r="6.50"/><circle cx="898.5" cy="397.5" r="6.50"/><circle cx="903.9" cy="397.5" r="6.50"/><circle cx="909.4" cy="397.5" r="6.50"/><circle cx="914.8" cy="397.5" r="6.50"/><circle cx="902.8" cy="407.5" r="6.50"/><circle cx="906.8" cy="407.5" r="6.50"/><circle cx="910.7" cy="407.5" r="6.50"/><circle cx="906.5" cy="416.7" r="6.50"/><circle cx="902.8" cy="424.2" r="6.50"/><circle cx="906.8" cy="424.2" r="6.50"/><circle cx="910.7" cy="424.2" r="6.50"/><circle cx="909.0" cy="435.8" r="6.50"/><circle cx="909.3" cy="435.8" r="6.50"/><circle cx="903.8" cy="438.7" r="6.50"/><circle cx="906.7" cy="260.3" r="6.50"/><circle cx="885.8" cy="345.8" r="6.50"/></g>
<line x1="975.00" y1="366.67" x2="1038.33" y2="366.67" stroke="#D9D9D9" stroke-width="4.5" stroke-linecap="butt"/>
<g fill="#559FFA"><rect x="998.0" y="261.5" width="13.0" height="13.0"/><rect x="997.0" y="270.2" width="13.0" height="13.0"/><rect x="999.0" y="270.2" width="13.0" height="13.0"/><rect x="999.1" y="278.5" width="13.0" height="13.0"/><rect x="997.0" y="287.7" width="13.0" height="13.0"/><rect x="999.0" y="287.7" width="13.0" height="13.0"/><rect x="997.0" y="304.3" width="13.0" height="13.0"/><rect x="999.0" y="304.3" width="13.0" height="13.0"/><rect x="993.3" y="315.2" width="13.0" height="13.0"/><rect x="998.1" y="315.2" width="13.0" height="13.0"/><rect x="1002.8" y="315.2" width="13.0" height="13.0"/><rect x="993.3" y="319.1" width="13.0" height="13.0"/><rect x="998.1" y="319.1" width="13.0" height="13.0"/><rect x="1002.8" y="319.1" width="13.0" height="13.0"/><rect x="993.3" y="322.9" width="13.0" height="13.0"/><rect x="998.1" y="322.9" width="13.0" height="13.0"/><rect x="1002.8" y="322.9" width="13.0" height="13.0"/><rect x="989.7" y="326.8" width="13.0" height="13.0"/><rect x="995.4" y="326.8" width="13.0" height="13.0"/><rect x="1001.2" y="326.8" width="13.0" height="13.0"/><rect x="1007.0" y="326.8" width="13.0" height="13.0"/><rect x="989.7" y="331.8" width="13.0" height="13.0"/><rect x="994.9" y="331.8" width="13.0" height="13.0"/><rect x="1000.1" y="331.8" width="13.0" height="13.0"/><rect x="1005.3" y="331.8" width="13.0" height="13.0"/><rect x="988.3" y="336.8" width="13.0" height="13.0"/><rect x="994.0" y="336.8" width="13.0" height="13.0"/><rect x="999.7" y="336.8" width="13.0" height="13.0"/><rect x="1005.3" y="336.8" width="13.0" height="13.0"/><rect x="988.3" y="340.2" width="13.0" height="13.0"/><rect x="994.0" y="340.2" width="13.0" height="13.0"/><rect x="999.7" y="340.2" width="13.0" height="13.0"/><rect x="1005.3" y="340.2" width="13.0" height="13.0"/><rect x="988.3" y="343.5" width="13.0" height="13.0"/><rect x="995.0" y="343.5" width="13.0" height="13.0"/><rect x="1001.7" y="343.5" width="13.0" height="13.0"/><rect x="1008.3" y="343.5" width="13.0" height="13.0"/><rect x="988.3" y="348.5" width="13.0" height="13.0"/><rect x="995.0" y="348.5" width="13.0" height="13.0"/><rect x="1001.7" y="348.5" width="13.0" height="13.0"/><rect x="1008.3" y="348.5" width="13.0" height="13.0"/><rect x="980.0" y="353.5" width="13.0" height="13.0"/><rect x="987.1" y="353.5" width="13.0" height="13.0"/><rect x="994.1" y="353.5" width="13.0" height="13.0"/><rect x="1001.2" y="353.5" width="13.0" height="13.0"/><rect x="1008.3" y="353.5" width="13.0" height="13.0"/><rect x="1015.3" y="353.5" width="13.0" height="13.0"/><rect x="980.0" y="357.2" width="13.0" height="13.0"/><rect x="987.1" y="357.2" width="13.0" height="13.0"/><rect x="994.1" y="357.2" width="13.0" height="13.0"/><rect x="1001.2" y="357.2" width="13.0" height="13.0"/><rect x="1008.3" y="357.2" width="13.0" height="13.0"/><rect x="1015.3" y="357.2" width="13.0" height="13.0"/><rect x="974.7" y="361.0" width="13.0" height="13.0"/><rect x="981.0" y="361.0" width="13.0" height="13.0"/><rect x="987.4" y="361.0" width="13.0" height="13.0"/><rect x="993.8" y="361.0" width="13.0" height="13.0"/><rect x="1000.2" y="361.0" width="13.0" height="13.0"/><rect x="1006.5" y="361.0" width="13.0" height="13.0"/><rect x="1012.9" y="361.0" width="13.0" height="13.0"/><rect x="1019.3" y="361.0" width="13.0" height="13.0"/><rect x="1025.7" y="361.0" width="13.0" height="13.0"/><rect x="974.7" y="364.3" width="13.0" height="13.0"/><rect x="981.7" y="364.3" width="13.0" height="13.0"/><rect x="988.7" y="364.3" width="13.0" height="13.0"/><rect x="995.7" y="364.3" width="13.0" height="13.0"/><rect x="1002.7" y="364.3" width="13.0" height="13.0"/><rect x="1009.7" y="364.3" width="13.0" height="13.0"/><rect x="1016.7" y="364.3" width="13.0" height="13.0"/><rect x="1023.7" y="364.3" width="13.0" height="13.0"/><rect x="970.0" y="367.7" width="13.0" height="13.0"/><rect x="976.7" y="367.7" width="13.0" height="13.0"/><rect x="983.4" y="367.7" width="13.0" height="13.0"/><rect x="990.1" y="367.7" width="13.0" height="13.0"/><rect x="996.8" y="367.7" width="13.0" height="13.0"/><rect x="1003.5" y="367.7" width="13.0" height="13.0"/><rect x="1010.2" y="367.7" width="13.0" height="13.0"/><rect x="1017.0" y="367.7" width="13.0" height="13.0"/><rect x="1023.7" y="367.7" width="13.0" height="13.0"/><rect x="972.0" y="371.4" width="13.0" height="13.0"/><rect x="979.0" y="371.4" width="13.0" height="13.0"/><rect x="986.0" y="371.4" width="13.0" height="13.0"/><rect x="993.1" y="371.4" width="13.0" height="13.0"/><rect x="1000.1" y="371.4" width="13.0" height="13.0"/><rect x="1007.1" y="371.4" width="13.0" height="13.0"/><rect x="1014.1" y="371.4" width="13.0" height="13.0"/><rect x="1021.2" y="371.4" width="13.0" height="13.0"/><rect x="972.0" y="375.2" width="13.0" height="13.0"/><rect x="979.0" y="375.2" width="13.0" height="13.0"/><rect x="986.0" y="375.2" width="13.0" height="13.0"/><rect x="993.1" y="375.2" width="13.0" height="13.0"/><rect x="1000.1" y="375.2" width="13.0" height="13.0"/><rect x="1007.1" y="375.2" width="13.0" height="13.0"/><rect x="1014.1" y="375.2" width="13.0" height="13.0"/><rect x="1021.2" y="375.2" width="13.0" height="13.0"/><rect x="974.2" y="378.5" width="13.0" height="13.0"/><rect x="980.9" y="378.5" width="13.0" height="13.0"/><rect x="987.6" y="378.5" width="13.0" height="13.0"/><rect x="994.3" y="378.5" width="13.0" height="13.0"/><rect x="1001.0" y="378.5" width="13.0" height="13.0"/><rect x="1007.7" y="378.5" width="13.0" height="13.0"/><rect x="1014.5" y="378.5" width="13.0" height="13.0"/><rect x="1021.2" y="378.5" width="13.0" height="13.0"/><rect x="974.2" y="381.8" width="13.0" height="13.0"/><rect x="981.0" y="381.8" width="13.0" height="13.0"/><rect x="987.7" y="381.8" width="13.0" height="13.0"/><rect x="994.5" y="381.8" width="13.0" height="13.0"/><rect x="1001.3" y="381.8" width="13.0" height="13.0"/><rect x="1008.1" y="381.8" width="13.0" height="13.0"/><rect x="1014.9" y="381.8" width="13.0" height="13.0"/><rect x="1021.7" y="381.8" width="13.0" height="13.0"/><rect x="984.2" y="386.8" width="13.0" height="13.0"/><rect x="989.7" y="386.8" width="13.0" height="13.0"/><rect x="995.2" y="386.8" width="13.0" height="13.0"/><rect x="1000.7" y="386.8" width="13.0" height="13.0"/><rect x="1006.2" y="386.8" width="13.0" height="13.0"/><rect x="989.7" y="391.3" width="13.0" height="13.0"/><rect x="995.2" y="391.3" width="13.0" height="13.0"/><rect x="1000.7" y="391.3" width="13.0" height="13.0"/><rect x="1006.2" y="391.3" width="13.0" height="13.0"/><rect x="989.7" y="395.7" width="13.0" height="13.0"/><rect x="995.2" y="395.7" width="13.0" height="13.0"/><rect x="1000.7" y="395.7" width="13.0" height="13.0"/><rect x="1006.2" y="395.7" width="13.0" height="13.0"/><rect x="989.7" y="400.2" width="13.0" height="13.0"/><rect x="995.4" y="400.2" width="13.0" height="13.0"/><rect x="1001.2" y="400.2" width="13.0" height="13.0"/><rect x="1007.0" y="400.2" width="13.0" height="13.0"/><rect x="989.7" y="403.5" width="13.0" height="13.0"/><rect x="994.4" y="403.5" width="13.0" height="13.0"/><rect x="999.2" y="403.5" width="13.0" height="13.0"/><rect x="1004.0" y="403.5" width="13.0" height="13.0"/><rect x="989.2" y="406.8" width="13.0" height="13.0"/><rect x="994.1" y="406.8" width="13.0" height="13.0"/><rect x="999.1" y="406.8" width="13.0" height="13.0"/><rect x="1004.0" y="406.8" width="13.0" height="13.0"/><rect x="991.7" y="411.0" width="13.0" height="13.0"/><rect x="995.3" y="411.0" width="13.0" height="13.0"/><rect x="999.0" y="411.0" width="13.0" height="13.0"/><rect x="991.7" y="415.2" width="13.0" height="13.0"/><rect x="995.3" y="415.2" width="13.0" height="13.0"/><rect x="999.0" y="415.2" width="13.0" height="13.0"/><rect x="991.7" y="418.5" width="13.0" height="13.0"/><rect x="995.3" y="418.5" width="13.0" height="13.0"/><rect x="999.0" y="418.5" width="13.0" height="13.0"/><rect x="991.7" y="421.8" width="13.0" height="13.0"/><rect x="997.8" y="421.8" width="13.0" height="13.0"/><rect x="1004.0" y="421.8" width="13.0" height="13.0"/><rect x="991.7" y="425.2" width="13.0" height="13.0"/><rect x="997.7" y="425.2" width="13.0" height="13.0"/><rect x="1003.7" y="425.2" width="13.0" height="13.0"/><rect x="995.3" y="435.2" width="13.0" height="13.0"/><rect x="999.0" y="435.2" width="13.0" height="13.0"/><rect x="997.0" y="443.5" width="13.0" height="13.0"/><rect x="999.0" y="443.5" width="13.0" height="13.0"/><rect x="997.0" y="450.2" width="13.0" height="13.0"/><rect x="999.0" y="450.2" width="13.0" height="13.0"/><rect x="996.6" y="454.3" width="13.0" height="13.0"/></g>
<line x1="1068.67" y1="384.67" x2="1135.33" y2="384.67" stroke="#D9D9D9" stroke-width="4.5" stroke-linecap="butt"/>
<g fill="#43F0AF"><path d="M1101.9,336.0l6.5,13.0h-13.0z"/><path d="M1094.8,343.5l6.5,13.0h-13.0z"/><path d="M1100.8,343.5l6.5,13.0h-13.0z"/><path d="M1106.8,343.5l6.5,13.0h-13.0z"/><path d="M1097.4,346.8l6.5,13.0h-13.0z"/><path d="M1104.2,346.8l6.5,13.0h-13.0z"/><path d="M1084.3,350.2l6.5,13.0h-13.0z"/><path d="M1090.8,350.2l6.5,13.0h-13.0z"/><path d="M1097.2,350.2l6.5,13.0h-13.0z"/><path d="M1103.7,350.2l6.5,13.0h-13.0z"/><path d="M1110.2,350.2l6.5,13.0h-13.0z"/><path d="M1082.3,355.0l6.5,13.0h-13.0z"/><path d="M1089.1,355.0l6.5,13.0h-13.0z"/><path d="M1095.8,355.0l6.5,13.0h-13.0z"/><path d="M1102.5,355.0l6.5,13.0h-13.0z"/><path d="M1109.2,355.0l6.5,13.0h-13.0z"/><path d="M1115.9,355.0l6.5,13.0h-13.0z"/><path d="M1122.7,355.0l6.5,13.0h-13.0z"/><path d="M1087.4,358.9l6.5,13.0h-13.0z"/><path d="M1093.8,358.9l6.5,13.0h-13.0z"/><path d="M1100.2,358.9l6.5,13.0h-13.0z"/><path d="M1106.5,358.9l6.5,13.0h-13.0z"/><path d="M1112.9,358.9l6.5,13.0h-13.0z"/><path d="M1119.2,358.9l6.5,13.0h-13.0z"/><path d="M1087.4,362.9l6.5,13.0h-13.0z"/><path d="M1093.8,362.9l6.5,13.0h-13.0z"/><path d="M1100.2,362.9l6.5,13.0h-13.0z"/><path d="M1106.5,362.9l6.5,13.0h-13.0z"/><path d="M1112.9,362.9l6.5,13.0h-13.0z"/><path d="M1119.2,362.9l6.5,13.0h-13.0z"/><path d="M1084.8,366.8l6.5,13.0h-13.0z"/><path d="M1091.0,366.8l6.5,13.0h-13.0z"/><path d="M1097.2,366.8l6.5,13.0h-13.0z"/><path d="M1103.3,366.8l6.5,13.0h-13.0z"/><path d="M1109.5,366.8l6.5,13.0h-13.0z"/><path d="M1115.7,366.8l6.5,13.0h-13.0z"/><path d="M1121.8,366.8l6.5,13.0h-13.0z"/><path d="M1087.4,371.8l6.5,13.0h-13.0z"/><path d="M1093.8,371.8l6.5,13.0h-13.0z"/><path d="M1100.2,371.8l6.5,13.0h-13.0z"/><path d="M1106.5,371.8l6.5,13.0h-13.0z"/><path d="M1112.9,371.8l6.5,13.0h-13.0z"/><path d="M1119.2,371.8l6.5,13.0h-13.0z"/><path d="M1074.5,376.8l6.5,13.0h-13.0z"/><path d="M1081.2,376.8l6.5,13.0h-13.0z"/><path d="M1088.0,376.8l6.5,13.0h-13.0z"/><path d="M1094.8,376.8l6.5,13.0h-13.0z"/><path d="M1101.5,376.8l6.5,13.0h-13.0z"/><path d="M1108.2,376.8l6.5,13.0h-13.0z"/><path d="M1115.0,376.8l6.5,13.0h-13.0z"/><path d="M1121.8,376.8l6.5,13.0h-13.0z"/><path d="M1128.5,376.8l6.5,13.0h-13.0z"/><path d="M1079.1,380.2l6.5,13.0h-13.0z"/><path d="M1085.8,380.2l6.5,13.0h-13.0z"/><path d="M1092.5,380.2l6.5,13.0h-13.0z"/><path d="M1099.2,380.2l6.5,13.0h-13.0z"/><path d="M1105.8,380.2l6.5,13.0h-13.0z"/><path d="M1112.5,380.2l6.5,13.0h-13.0z"/><path d="M1119.2,380.2l6.5,13.0h-13.0z"/><path d="M1125.9,380.2l6.5,13.0h-13.0z"/><path d="M1076.5,383.5l6.5,13.0h-13.0z"/><path d="M1083.2,383.5l6.5,13.0h-13.0z"/><path d="M1089.8,383.5l6.5,13.0h-13.0z"/><path d="M1096.5,383.5l6.5,13.0h-13.0z"/><path d="M1103.2,383.5l6.5,13.0h-13.0z"/><path d="M1109.8,383.5l6.5,13.0h-13.0z"/><path d="M1116.5,383.5l6.5,13.0h-13.0z"/><path d="M1123.2,383.5l6.5,13.0h-13.0z"/><path d="M1129.8,383.5l6.5,13.0h-13.0z"/><path d="M1076.5,385.2l6.5,13.0h-13.0z"/><path d="M1083.5,385.2l6.5,13.0h-13.0z"/><path d="M1090.4,385.2l6.5,13.0h-13.0z"/><path d="M1097.4,385.2l6.5,13.0h-13.0z"/><path d="M1104.3,385.2l6.5,13.0h-13.0z"/><path d="M1111.3,385.2l6.5,13.0h-13.0z"/><path d="M1118.2,385.2l6.5,13.0h-13.0z"/><path d="M1125.2,385.2l6.5,13.0h-13.0z"/><path d="M1081.9,390.2l6.5,13.0h-13.0z"/><path d="M1089.1,390.2l6.5,13.0h-13.0z"/><path d="M1096.2,390.2l6.5,13.0h-13.0z"/><path d="M1103.3,390.2l6.5,13.0h-13.0z"/><path d="M1110.4,390.2l6.5,13.0h-13.0z"/><path d="M1117.6,390.2l6.5,13.0h-13.0z"/><path d="M1079.3,395.2l6.5,13.0h-13.0z"/><path d="M1086.1,395.2l6.5,13.0h-13.0z"/><path d="M1092.9,395.2l6.5,13.0h-13.0z"/><path d="M1099.8,395.2l6.5,13.0h-13.0z"/><path d="M1106.6,395.2l6.5,13.0h-13.0z"/><path d="M1113.4,395.2l6.5,13.0h-13.0z"/><path d="M1120.2,395.2l6.5,13.0h-13.0z"/><path d="M1086.6,398.1l6.5,13.0h-13.0z"/><path d="M1092.8,398.1l6.5,13.0h-13.0z"/><path d="M1099.0,398.1l6.5,13.0h-13.0z"/><path d="M1105.2,398.1l6.5,13.0h-13.0z"/><path d="M1111.4,398.1l6.5,13.0h-13.0z"/><path d="M1117.6,398.1l6.5,13.0h-13.0z"/><path d="M1084.0,401.0l6.5,13.0h-13.0z"/><path d="M1090.8,401.0l6.5,13.0h-13.0z"/><path d="M1097.6,401.0l6.5,13.0h-13.0z"/><path d="M1104.4,401.0l6.5,13.0h-13.0z"/><path d="M1111.2,401.0l6.5,13.0h-13.0z"/><path d="M1118.0,401.0l6.5,13.0h-13.0z"/><path d="M1124.8,401.0l6.5,13.0h-13.0z"/><path d="M1090.8,406.4l6.5,13.0h-13.0z"/><path d="M1097.5,406.4l6.5,13.0h-13.0z"/><path d="M1104.2,406.4l6.5,13.0h-13.0z"/><path d="M1110.9,406.4l6.5,13.0h-13.0z"/><path d="M1088.2,411.8l6.5,13.0h-13.0z"/><path d="M1094.5,411.8l6.5,13.0h-13.0z"/><path d="M1100.8,411.8l6.5,13.0h-13.0z"/><path d="M1107.2,411.8l6.5,13.0h-13.0z"/><path d="M1113.5,411.8l6.5,13.0h-13.0z"/><path d="M1094.0,416.8l6.5,13.0h-13.0z"/><path d="M1099.1,416.8l6.5,13.0h-13.0z"/><path d="M1104.2,416.8l6.5,13.0h-13.0z"/><path d="M1109.3,416.8l6.5,13.0h-13.0z"/><path d="M1103.9,422.2l6.5,13.0h-13.0z"/><path d="M1102.0,258.8l6.5,13.0h-13.0z"/><path d="M1102.0,271.5l6.5,13.0h-13.0z"/><path d="M1102.0,310.5l6.5,13.0h-13.0z"/><path d="M1102.0,449.5l6.5,13.0h-13.0z"/><path d="M1102.0,471.0l6.5,13.0h-13.0z"/></g>
<line x1="1167.00" y1="426.00" x2="1233.33" y2="426.00" stroke="#D9D9D9" stroke-width="4.5" stroke-linecap="butt"/>
<g fill="#FF8000"><path d="M1198.7,348.2l6.5,-13.0h-13.0z"/><path d="M1200.5,348.2l6.5,-13.0h-13.0z"/><path d="M1199.6,355.7l6.5,-13.0h-13.0z"/><path d="M1199.5,365.7l6.5,-13.0h-13.0z"/><path d="M1196.5,377.3l6.5,-13.0h-13.0z"/><path d="M1196.8,377.3l6.5,-13.0h-13.0z"/><path d="M1202.3,379.8l6.5,-13.0h-13.0z"/><path d="M1203.2,379.8l6.5,-13.0h-13.0z"/><path d="M1191.2,397.8l6.5,-13.0h-13.0z"/><path d="M1196.9,397.8l6.5,-13.0h-13.0z"/><path d="M1202.7,397.8l6.5,-13.0h-13.0z"/><path d="M1208.5,397.8l6.5,-13.0h-13.0z"/><path d="M1193.2,403.2l6.5,-13.0h-13.0z"/><path d="M1198.7,403.2l6.5,-13.0h-13.0z"/><path d="M1204.2,403.2l6.5,-13.0h-13.0z"/><path d="M1209.7,403.2l6.5,-13.0h-13.0z"/><path d="M1215.2,403.2l6.5,-13.0h-13.0z"/><path d="M1184.0,408.2l6.5,-13.0h-13.0z"/><path d="M1189.7,408.2l6.5,-13.0h-13.0z"/><path d="M1195.5,408.2l6.5,-13.0h-13.0z"/><path d="M1201.2,408.2l6.5,-13.0h-13.0z"/><path d="M1206.9,408.2l6.5,-13.0h-13.0z"/><path d="M1212.7,408.2l6.5,-13.0h-13.0z"/><path d="M1183.2,412.3l6.5,-13.0h-13.0z"/><path d="M1189.9,412.3l6.5,-13.0h-13.0z"/><path d="M1196.7,412.3l6.5,-13.0h-13.0z"/><path d="M1203.4,412.3l6.5,-13.0h-13.0z"/><path d="M1210.2,412.3l6.5,-13.0h-13.0z"/><path d="M1185.7,415.7l6.5,-13.0h-13.0z"/><path d="M1191.7,415.7l6.5,-13.0h-13.0z"/><path d="M1197.8,415.7l6.5,-13.0h-13.0z"/><path d="M1203.9,415.7l6.5,-13.0h-13.0z"/><path d="M1209.9,415.7l6.5,-13.0h-13.0z"/><path d="M1216.0,415.7l6.5,-13.0h-13.0z"/><path d="M1190.8,419.4l6.5,-13.0h-13.0z"/><path d="M1196.9,419.4l6.5,-13.0h-13.0z"/><path d="M1203.1,419.4l6.5,-13.0h-13.0z"/><path d="M1209.2,419.4l6.5,-13.0h-13.0z"/><path d="M1188.2,423.2l6.5,-13.0h-13.0z"/><path d="M1194.1,423.2l6.5,-13.0h-13.0z"/><path d="M1200.0,423.2l6.5,-13.0h-13.0z"/><path d="M1205.9,423.2l6.5,-13.0h-13.0z"/><path d="M1211.8,423.2l6.5,-13.0h-13.0z"/><path d="M1190.8,427.8l6.5,-13.0h-13.0z"/><path d="M1196.9,427.8l6.5,-13.0h-13.0z"/><path d="M1203.1,427.8l6.5,-13.0h-13.0z"/><path d="M1209.2,427.8l6.5,-13.0h-13.0z"/><path d="M1176.2,432.3l6.5,-13.0h-13.0z"/><path d="M1182.8,432.3l6.5,-13.0h-13.0z"/><path d="M1189.5,432.3l6.5,-13.0h-13.0z"/><path d="M1196.1,432.3l6.5,-13.0h-13.0z"/><path d="M1202.7,432.3l6.5,-13.0h-13.0z"/><path d="M1209.4,432.3l6.5,-13.0h-13.0z"/><path d="M1216.0,432.3l6.5,-13.0h-13.0z"/><path d="M1222.7,432.3l6.5,-13.0h-13.0z"/><path d="M1178.8,435.7l6.5,-13.0h-13.0z"/><path d="M1185.7,435.7l6.5,-13.0h-13.0z"/><path d="M1192.5,435.7l6.5,-13.0h-13.0z"/><path d="M1199.4,435.7l6.5,-13.0h-13.0z"/><path d="M1206.3,435.7l6.5,-13.0h-13.0z"/><path d="M1213.2,435.7l6.5,-13.0h-13.0z"/><path d="M1220.1,435.7l6.5,-13.0h-13.0z"/><path d="M1173.5,439.0l6.5,-13.0h-13.0z"/><path d="M1180.3,439.0l6.5,-13.0h-13.0z"/><path d="M1187.0,439.0l6.5,-13.0h-13.0z"/><path d="M1193.8,439.0l6.5,-13.0h-13.0z"/><path d="M1200.6,439.0l6.5,-13.0h-13.0z"/><path d="M1207.4,439.0l6.5,-13.0h-13.0z"/><path d="M1214.1,439.0l6.5,-13.0h-13.0z"/><path d="M1220.9,439.0l6.5,-13.0h-13.0z"/><path d="M1227.7,439.0l6.5,-13.0h-13.0z"/><path d="M1180.8,441.9l6.5,-13.0h-13.0z"/><path d="M1187.5,441.9l6.5,-13.0h-13.0z"/><path d="M1194.1,441.9l6.5,-13.0h-13.0z"/><path d="M1200.8,441.9l6.5,-13.0h-13.0z"/><path d="M1207.5,441.9l6.5,-13.0h-13.0z"/><path d="M1214.2,441.9l6.5,-13.0h-13.0z"/><path d="M1220.9,441.9l6.5,-13.0h-13.0z"/><path d="M1178.2,444.8l6.5,-13.0h-13.0z"/><path d="M1184.6,444.8l6.5,-13.0h-13.0z"/><path d="M1191.1,444.8l6.5,-13.0h-13.0z"/><path d="M1197.6,444.8l6.5,-13.0h-13.0z"/><path d="M1204.1,444.8l6.5,-13.0h-13.0z"/><path d="M1210.5,444.8l6.5,-13.0h-13.0z"/><path d="M1217.0,444.8l6.5,-13.0h-13.0z"/><path d="M1223.5,444.8l6.5,-13.0h-13.0z"/><path d="M1181.5,449.8l6.5,-13.0h-13.0z"/><path d="M1187.9,449.8l6.5,-13.0h-13.0z"/><path d="M1194.4,449.8l6.5,-13.0h-13.0z"/><path d="M1200.8,449.8l6.5,-13.0h-13.0z"/><path d="M1207.3,449.8l6.5,-13.0h-13.0z"/><path d="M1213.7,449.8l6.5,-13.0h-13.0z"/><path d="M1220.2,449.8l6.5,-13.0h-13.0z"/><path d="M1184.1,453.2l6.5,-13.0h-13.0z"/><path d="M1190.0,453.2l6.5,-13.0h-13.0z"/><path d="M1195.8,453.2l6.5,-13.0h-13.0z"/><path d="M1201.7,453.2l6.5,-13.0h-13.0z"/><path d="M1207.5,453.2l6.5,-13.0h-13.0z"/><path d="M1213.4,453.2l6.5,-13.0h-13.0z"/><path d="M1179.0,456.5l6.5,-13.0h-13.0z"/><path d="M1185.2,456.5l6.5,-13.0h-13.0z"/><path d="M1191.3,456.5l6.5,-13.0h-13.0z"/><path d="M1197.5,456.5l6.5,-13.0h-13.0z"/><path d="M1203.7,456.5l6.5,-13.0h-13.0z"/><path d="M1209.8,456.5l6.5,-13.0h-13.0z"/><path d="M1216.0,456.5l6.5,-13.0h-13.0z"/><path d="M1187.4,461.1l6.5,-13.0h-13.0z"/><path d="M1193.9,461.1l6.5,-13.0h-13.0z"/><path d="M1200.4,461.1l6.5,-13.0h-13.0z"/><path d="M1206.9,461.1l6.5,-13.0h-13.0z"/><path d="M1213.4,461.1l6.5,-13.0h-13.0z"/><path d="M1184.8,465.7l6.5,-13.0h-13.0z"/><path d="M1191.4,465.7l6.5,-13.0h-13.0z"/><path d="M1198.0,465.7l6.5,-13.0h-13.0z"/><path d="M1204.5,465.7l6.5,-13.0h-13.0z"/><path d="M1211.1,465.7l6.5,-13.0h-13.0z"/><path d="M1217.7,465.7l6.5,-13.0h-13.0z"/><path d="M1195.8,468.6l6.5,-13.0h-13.0z"/><path d="M1202.6,468.6l6.5,-13.0h-13.0z"/><path d="M1193.2,471.5l6.5,-13.0h-13.0z"/><path d="M1199.2,471.5l6.5,-13.0h-13.0z"/><path d="M1205.2,471.5l6.5,-13.0h-13.0z"/><path d="M1194.0,478.2l6.5,-13.0h-13.0z"/><path d="M1197.9,478.2l6.5,-13.0h-13.0z"/><path d="M1201.8,478.2l6.5,-13.0h-13.0z"/><path d="M1196.5,483.2l6.5,-13.0h-13.0z"/><path d="M1203.2,483.2l6.5,-13.0h-13.0z"/><path d="M1199.5,496.0l6.5,-13.0h-13.0z"/><path d="M1199.8,496.0l6.5,-13.0h-13.0z"/><path d="M1199.7,327.2l6.5,-13.0h-13.0z"/></g>
<line x1="841.40" y1="176.50" x2="841.40" y2="603.80" stroke="#000" stroke-width="4.2" stroke-linecap="butt"/>
<line x1="822.00" y1="601.70" x2="1266.70" y2="601.70" stroke="#000" stroke-width="4.2" stroke-linecap="butt"/>
<line x1="822.00" y1="178.60" x2="841.40" y2="178.60" stroke="#000" stroke-width="4.2" stroke-linecap="butt"/>
<line x1="822.00" y1="284.38" x2="841.40" y2="284.38" stroke="#000" stroke-width="4.2" stroke-linecap="butt"/>
<line x1="822.00" y1="390.15" x2="841.40" y2="390.15" stroke="#000" stroke-width="4.2" stroke-linecap="butt"/>
<line x1="822.00" y1="495.93" x2="841.40" y2="495.93" stroke="#000" stroke-width="4.2" stroke-linecap="butt"/>
<line x1="906.10" y1="601.70" x2="906.10" y2="621.40" stroke="#000" stroke-width="4.2" stroke-linecap="butt"/>
<line x1="1004.30" y1="601.70" x2="1004.30" y2="621.40" stroke="#000" stroke-width="4.2" stroke-linecap="butt"/>
<line x1="1102.00" y1="601.70" x2="1102.00" y2="621.40" stroke="#000" stroke-width="4.2" stroke-linecap="butt"/>
<line x1="1199.70" y1="601.70" x2="1199.70" y2="621.40" stroke="#000" stroke-width="4.2" stroke-linecap="butt"/>
<text transform="translate(745.83,190.60) scale(1,1.0450)" font-family='"Liberation Sans", Arial, sans-serif' font-weight="bold" font-size="32.00">3000</text>
<text transform="translate(745.83,296.38) scale(1,1.0450)" font-family='"Liberation Sans", Arial, sans-serif' font-weight="bold" font-size="32.00">2500</text>
<text transform="translate(745.83,402.15) scale(1,1.0450)" font-family='"Liberation Sans", Arial, sans-serif' font-weight="bold" font-size="32.00">2000</text>
<text transform="translate(745.83,507.93) scale(1,1.0450)" font-family='"Liberation Sans", Arial, sans-serif' font-weight="bold" font-size="32.00">1500</text>
<text transform="translate(745.83,613.70) scale(1,1.0450)" font-family='"Liberation Sans", Arial, sans-serif' font-weight="bold" font-size="32.00">1000</text>
<text transform="translate(894.55,656.70) scale(1,1.0600)" font-family='"Liberation Sans", Arial, sans-serif' font-weight="bold" font-size="32.00">A</text>
<text transform="translate(992.75,656.70) scale(1,1.0600)" font-family='"Liberation Sans", Arial, sans-serif' font-weight="bold" font-size="32.00">B</text>
<text transform="translate(1090.44,656.70) scale(1,1.0600)" font-family='"Liberation Sans", Arial, sans-serif' font-weight="bold" font-size="32.00">C</text>
<text transform="translate(1188.14,656.70) scale(1,1.0600)" font-family='"Liberation Sans", Arial, sans-serif' font-weight="bold" font-size="32.00">D</text>
<text transform="translate(1025.84,703.70) scale(1,1.0500)" font-family='"Liberation Sans", Arial, sans-serif' font-weight="normal" font-size="38.90" letter-spacing="1.83">(B)</text>
<text transform="translate(970.18,97.50) scale(1,1.0300)" font-family='"Liberation Serif", "Times New Roman", serif' font-weight="bold" font-size="32.04">A-dp/dtmax</text>
<text transform="translate(720.90,608.00) rotate(-90)" x="-0.48" y="0" font-family='"Liberation Serif", "Times New Roman", serif' font-weight="bold" font-size="28.55">Maximum velocity of aortic descent</text>
<path d="M1001.20,180.20 V164.30 H1198.70 V304.70" fill="none" stroke="#000" stroke-width="4.2" stroke-linejoin="round" stroke-linecap="butt"/>
<path d="M906.10,245.10 V224.10 H1101.70 V245.10" fill="none" stroke="#000" stroke-width="4.2" stroke-linejoin="round" stroke-linecap="butt"/>
<text transform="translate(1069.81,152.81) scale(0.9011,1)" font-family='"DejaVu Sans", "Liberation Sans", sans-serif' font-weight="bold" font-size="27.19" letter-spacing="3.34">***</text>
<text transform="translate(984.61,212.41) scale(0.9011,1)" font-family='"DejaVu Sans", "Liberation Sans", sans-serif' font-weight="bold" font-size="27.19" letter-spacing="3.26">**</text>
<!-- panel C -->
<line x1="1535.00" y1="420.83" x2="1605.00" y2="420.83" stroke="#D9D9D9" stroke-width="4.8" stroke-linecap="butt"/>
<g fill="#A80AE0"><circle cx="1569.4" cy="362.0" r="6.90"/><circle cx="1569.8" cy="362.0" r="6.90"/><circle cx="1568.6" cy="368.3" r="6.90"/><circle cx="1569.8" cy="368.3" r="6.90"/><circle cx="1556.9" cy="377.0" r="6.90"/><circle cx="1563.8" cy="377.0" r="6.90"/><circle cx="1570.6" cy="377.0" r="6.90"/><circle cx="1559.4" cy="380.8" r="6.90"/><circle cx="1566.7" cy="380.8" r="6.90"/><circle cx="1574.1" cy="380.8" r="6.90"/><circle cx="1581.4" cy="380.8" r="6.90"/><circle cx="1561.1" cy="385.0" r="6.90"/><circle cx="1568.1" cy="385.0" r="6.90"/><circle cx="1575.2" cy="385.0" r="6.90"/><circle cx="1582.3" cy="385.0" r="6.90"/><circle cx="1563.8" cy="388.3" r="6.90"/><circle cx="1570.4" cy="388.3" r="6.90"/><circle cx="1577.0" cy="388.3" r="6.90"/><circle cx="1553.6" cy="391.7" r="6.90"/><circle cx="1560.1" cy="391.7" r="6.90"/><circle cx="1566.7" cy="391.7" r="6.90"/><circle cx="1573.2" cy="391.7" r="6.90"/><circle cx="1579.8" cy="391.7" r="6.90"/><circle cx="1556.3" cy="395.4" r="6.90"/><circle cx="1563.2" cy="395.4" r="6.90"/><circle cx="1570.1" cy="395.4" r="6.90"/><circle cx="1577.0" cy="395.4" r="6.90"/><circle cx="1541.9" cy="399.2" r="6.90"/><circle cx="1548.9" cy="399.2" r="6.90"/><circle cx="1556.0" cy="399.2" r="6.90"/><circle cx="1563.0" cy="399.2" r="6.90"/><circle cx="1570.0" cy="399.2" r="6.90"/><circle cx="1577.0" cy="399.2" r="6.90"/><circle cx="1584.0" cy="399.2" r="6.90"/><circle cx="1591.1" cy="399.2" r="6.90"/><circle cx="1598.1" cy="399.2" r="6.90"/><circle cx="1546.3" cy="402.9" r="6.90"/><circle cx="1553.3" cy="402.9" r="6.90"/><circle cx="1560.3" cy="402.9" r="6.90"/><circle cx="1567.3" cy="402.9" r="6.90"/><circle cx="1574.3" cy="402.9" r="6.90"/><circle cx="1581.3" cy="402.9" r="6.90"/><circle cx="1588.3" cy="402.9" r="6.90"/><circle cx="1595.3" cy="402.9" r="6.90"/><circle cx="1543.6" cy="406.7" r="6.90"/><circle cx="1550.5" cy="406.7" r="6.90"/><circle cx="1557.5" cy="406.7" r="6.90"/><circle cx="1564.5" cy="406.7" r="6.90"/><circle cx="1571.4" cy="406.7" r="6.90"/><circle cx="1578.4" cy="406.7" r="6.90"/><circle cx="1585.3" cy="406.7" r="6.90"/><circle cx="1592.3" cy="406.7" r="6.90"/><circle cx="1599.3" cy="406.7" r="6.90"/><circle cx="1546.3" cy="409.8" r="6.90"/><circle cx="1553.7" cy="409.8" r="6.90"/><circle cx="1561.0" cy="409.8" r="6.90"/><circle cx="1568.3" cy="409.8" r="6.90"/><circle cx="1575.7" cy="409.8" r="6.90"/><circle cx="1583.0" cy="409.8" r="6.90"/><circle cx="1590.3" cy="409.8" r="6.90"/><circle cx="1539.9" cy="413.0" r="6.90"/><circle cx="1546.6" cy="413.0" r="6.90"/><circle cx="1553.2" cy="413.0" r="6.90"/><circle cx="1559.8" cy="413.0" r="6.90"/><circle cx="1566.5" cy="413.0" r="6.90"/><circle cx="1573.2" cy="413.0" r="6.90"/><circle cx="1579.8" cy="413.0" r="6.90"/><circle cx="1586.4" cy="413.0" r="6.90"/><circle cx="1593.1" cy="413.0" r="6.90"/><circle cx="1546.9" cy="418.3" r="6.90"/><circle cx="1554.0" cy="418.3" r="6.90"/><circle cx="1561.2" cy="418.3" r="6.90"/><circle cx="1568.3" cy="418.3" r="6.90"/><circle cx="1575.5" cy="418.3" r="6.90"/><circle cx="1582.6" cy="418.3" r="6.90"/><circle cx="1589.8" cy="418.3" r="6.90"/><circle cx="1557.2" cy="422.1" r="6.90"/><circle cx="1563.0" cy="422.1" r="6.90"/><circle cx="1568.8" cy="422.1" r="6.90"/><circle cx="1574.5" cy="422.1" r="6.90"/><circle cx="1580.3" cy="422.1" r="6.90"/><circle cx="1554.4" cy="425.8" r="6.90"/><circle cx="1561.6" cy="425.8" r="6.90"/><circle cx="1568.8" cy="425.8" r="6.90"/><circle cx="1575.9" cy="425.8" r="6.90"/><circle cx="1583.1" cy="425.8" r="6.90"/><circle cx="1560.5" cy="429.0" r="6.90"/><circle cx="1567.1" cy="429.0" r="6.90"/><circle cx="1573.7" cy="429.0" r="6.90"/><circle cx="1580.3" cy="429.0" r="6.90"/><circle cx="1557.7" cy="432.2" r="6.90"/><circle cx="1564.5" cy="432.2" r="6.90"/><circle cx="1571.2" cy="432.2" r="6.90"/><circle cx="1578.0" cy="432.2" r="6.90"/><circle cx="1584.8" cy="432.2" r="6.90"/><circle cx="1558.2" cy="436.7" r="6.90"/><circle cx="1564.0" cy="436.7" r="6.90"/><circle cx="1569.8" cy="436.7" r="6.90"/><circle cx="1575.6" cy="436.7" r="6.90"/><circle cx="1581.4" cy="436.7" r="6.90"/><circle cx="1563.8" cy="440.8" r="6.90"/><circle cx="1569.8" cy="440.8" r="6.90"/><circle cx="1575.7" cy="440.8" r="6.90"/><circle cx="1561.1" cy="445.0" r="6.90"/><circle cx="1566.9" cy="445.0" r="6.90"/><circle cx="1572.6" cy="445.0" r="6.90"/><circle cx="1578.4" cy="445.0" r="6.90"/><circle cx="1562.7" cy="450.0" r="6.90"/><circle cx="1568.3" cy="450.0" r="6.90"/><circle cx="1573.9" cy="450.0" r="6.90"/><circle cx="1565.5" cy="454.6" r="6.90"/><circle cx="1571.2" cy="454.6" r="6.90"/><circle cx="1562.2" cy="459.2" r="6.90"/><circle cx="1569.3" cy="459.2" r="6.90"/><circle cx="1576.4" cy="459.2" r="6.90"/><circle cx="1565.0" cy="462.1" r="6.90"/><circle cx="1569.3" cy="462.1" r="6.90"/><circle cx="1573.7" cy="462.1" r="6.90"/><circle cx="1561.1" cy="465.0" r="6.90"/><circle cx="1566.7" cy="465.0" r="6.90"/><circle cx="1572.4" cy="465.0" r="6.90"/><circle cx="1578.1" cy="465.0" r="6.90"/><circle cx="1562.7" cy="468.7" r="6.90"/><circle cx="1568.0" cy="468.7" r="6.90"/><circle cx="1573.3" cy="468.7" r="6.90"/><circle cx="1578.6" cy="468.7" r="6.90"/><circle cx="1568.6" cy="475.0" r="6.90"/><circle cx="1570.6" cy="475.0" r="6.90"/><circle cx="1569.4" cy="484.2" r="6.90"/><circle cx="1570.9" cy="484.2" r="6.90"/><circle cx="1566.9" cy="493.3" r="6.90"/><circle cx="1572.3" cy="493.3" r="6.90"/><circle cx="1569.4" cy="505.3" r="6.90"/><circle cx="1569.8" cy="505.3" r="6.90"/><circle cx="1569.5" cy="343.0" r="6.90"/></g>
<line x1="1638.33" y1="404.67" x2="1708.67" y2="404.67" stroke="#D9D9D9" stroke-width="4.8" stroke-linecap="butt"/>
<g fill="#559FFA"><rect x="1666.3" y="310.1" width="13.8" height="13.8"/><rect x="1666.5" y="310.1" width="13.8" height="13.8"/><rect x="1663.7" y="321.1" width="13.8" height="13.8"/><rect x="1666.5" y="321.1" width="13.8" height="13.8"/><rect x="1666.7" y="327.3" width="13.8" height="13.8"/><rect x="1669.2" y="327.3" width="13.8" height="13.8"/><rect x="1666.7" y="338.1" width="13.8" height="13.8"/><rect x="1669.2" y="338.1" width="13.8" height="13.8"/><rect x="1661.3" y="346.1" width="13.8" height="13.8"/><rect x="1666.4" y="346.1" width="13.8" height="13.8"/><rect x="1671.5" y="346.1" width="13.8" height="13.8"/><rect x="1661.3" y="350.4" width="13.8" height="13.8"/><rect x="1666.4" y="350.4" width="13.8" height="13.8"/><rect x="1671.5" y="350.4" width="13.8" height="13.8"/><rect x="1661.3" y="354.7" width="13.8" height="13.8"/><rect x="1666.4" y="354.7" width="13.8" height="13.8"/><rect x="1671.5" y="354.7" width="13.8" height="13.8"/><rect x="1655.0" y="358.9" width="13.8" height="13.8"/><rect x="1660.7" y="358.9" width="13.8" height="13.8"/><rect x="1666.4" y="358.9" width="13.8" height="13.8"/><rect x="1672.1" y="358.9" width="13.8" height="13.8"/><rect x="1677.9" y="358.9" width="13.8" height="13.8"/><rect x="1649.7" y="363.9" width="13.8" height="13.8"/><rect x="1656.3" y="363.9" width="13.8" height="13.8"/><rect x="1662.9" y="363.9" width="13.8" height="13.8"/><rect x="1669.6" y="363.9" width="13.8" height="13.8"/><rect x="1676.2" y="363.9" width="13.8" height="13.8"/><rect x="1682.9" y="363.9" width="13.8" height="13.8"/><rect x="1658.0" y="368.5" width="13.8" height="13.8"/><rect x="1664.1" y="368.5" width="13.8" height="13.8"/><rect x="1670.1" y="368.5" width="13.8" height="13.8"/><rect x="1676.2" y="368.5" width="13.8" height="13.8"/><rect x="1658.0" y="373.1" width="13.8" height="13.8"/><rect x="1664.1" y="373.1" width="13.8" height="13.8"/><rect x="1670.1" y="373.1" width="13.8" height="13.8"/><rect x="1676.2" y="373.1" width="13.8" height="13.8"/><rect x="1658.0" y="377.7" width="13.8" height="13.8"/><rect x="1664.1" y="377.7" width="13.8" height="13.8"/><rect x="1670.1" y="377.7" width="13.8" height="13.8"/><rect x="1676.2" y="377.7" width="13.8" height="13.8"/><rect x="1648.3" y="382.3" width="13.8" height="13.8"/><rect x="1655.1" y="382.3" width="13.8" height="13.8"/><rect x="1661.8" y="382.3" width="13.8" height="13.8"/><rect x="1668.6" y="382.3" width="13.8" height="13.8"/><rect x="1675.3" y="382.3" width="13.8" height="13.8"/><rect x="1682.0" y="382.3" width="13.8" height="13.8"/><rect x="1648.3" y="385.6" width="13.8" height="13.8"/><rect x="1655.1" y="385.6" width="13.8" height="13.8"/><rect x="1661.8" y="385.6" width="13.8" height="13.8"/><rect x="1668.6" y="385.6" width="13.8" height="13.8"/><rect x="1675.3" y="385.6" width="13.8" height="13.8"/><rect x="1682.0" y="385.6" width="13.8" height="13.8"/><rect x="1644.2" y="388.9" width="13.8" height="13.8"/><rect x="1651.6" y="388.9" width="13.8" height="13.8"/><rect x="1659.0" y="388.9" width="13.8" height="13.8"/><rect x="1666.5" y="388.9" width="13.8" height="13.8"/><rect x="1673.9" y="388.9" width="13.8" height="13.8"/><rect x="1681.3" y="388.9" width="13.8" height="13.8"/><rect x="1688.8" y="388.9" width="13.8" height="13.8"/><rect x="1696.2" y="388.9" width="13.8" height="13.8"/><rect x="1644.2" y="392.5" width="13.8" height="13.8"/><rect x="1651.2" y="392.5" width="13.8" height="13.8"/><rect x="1658.3" y="392.5" width="13.8" height="13.8"/><rect x="1665.4" y="392.5" width="13.8" height="13.8"/><rect x="1672.5" y="392.5" width="13.8" height="13.8"/><rect x="1679.5" y="392.5" width="13.8" height="13.8"/><rect x="1686.6" y="392.5" width="13.8" height="13.8"/><rect x="1693.7" y="392.5" width="13.8" height="13.8"/><rect x="1636.7" y="396.1" width="13.8" height="13.8"/><rect x="1643.8" y="396.1" width="13.8" height="13.8"/><rect x="1650.9" y="396.1" width="13.8" height="13.8"/><rect x="1658.1" y="396.1" width="13.8" height="13.8"/><rect x="1665.2" y="396.1" width="13.8" height="13.8"/><rect x="1672.3" y="396.1" width="13.8" height="13.8"/><rect x="1679.4" y="396.1" width="13.8" height="13.8"/><rect x="1686.6" y="396.1" width="13.8" height="13.8"/><rect x="1693.7" y="396.1" width="13.8" height="13.8"/><rect x="1642.5" y="398.1" width="13.8" height="13.8"/><rect x="1649.3" y="398.1" width="13.8" height="13.8"/><rect x="1656.2" y="398.1" width="13.8" height="13.8"/><rect x="1663.0" y="398.1" width="13.8" height="13.8"/><rect x="1669.9" y="398.1" width="13.8" height="13.8"/><rect x="1676.7" y="398.1" width="13.8" height="13.8"/><rect x="1683.5" y="398.1" width="13.8" height="13.8"/><rect x="1690.4" y="398.1" width="13.8" height="13.8"/><rect x="1649.7" y="402.3" width="13.8" height="13.8"/><rect x="1656.3" y="402.3" width="13.8" height="13.8"/><rect x="1662.9" y="402.3" width="13.8" height="13.8"/><rect x="1669.6" y="402.3" width="13.8" height="13.8"/><rect x="1676.2" y="402.3" width="13.8" height="13.8"/><rect x="1682.9" y="402.3" width="13.8" height="13.8"/><rect x="1649.7" y="406.4" width="13.8" height="13.8"/><rect x="1656.3" y="406.4" width="13.8" height="13.8"/><rect x="1662.9" y="406.4" width="13.8" height="13.8"/><rect x="1669.6" y="406.4" width="13.8" height="13.8"/><rect x="1676.2" y="406.4" width="13.8" height="13.8"/><rect x="1682.9" y="406.4" width="13.8" height="13.8"/><rect x="1652.8" y="410.3" width="13.8" height="13.8"/><rect x="1659.5" y="410.3" width="13.8" height="13.8"/><rect x="1666.2" y="410.3" width="13.8" height="13.8"/><rect x="1672.9" y="410.3" width="13.8" height="13.8"/><rect x="1679.5" y="410.3" width="13.8" height="13.8"/><rect x="1652.8" y="414.2" width="13.8" height="13.8"/><rect x="1659.5" y="414.2" width="13.8" height="13.8"/><rect x="1666.2" y="414.2" width="13.8" height="13.8"/><rect x="1672.9" y="414.2" width="13.8" height="13.8"/><rect x="1679.5" y="414.2" width="13.8" height="13.8"/><rect x="1652.8" y="418.1" width="13.8" height="13.8"/><rect x="1659.5" y="418.1" width="13.8" height="13.8"/><rect x="1666.2" y="418.1" width="13.8" height="13.8"/><rect x="1672.9" y="418.1" width="13.8" height="13.8"/><rect x="1679.5" y="418.1" width="13.8" height="13.8"/><rect x="1652.8" y="421.4" width="13.8" height="13.8"/><rect x="1659.5" y="421.4" width="13.8" height="13.8"/><rect x="1666.2" y="421.4" width="13.8" height="13.8"/><rect x="1672.9" y="421.4" width="13.8" height="13.8"/><rect x="1679.5" y="421.4" width="13.8" height="13.8"/><rect x="1652.8" y="424.8" width="13.8" height="13.8"/><rect x="1659.8" y="424.8" width="13.8" height="13.8"/><rect x="1666.8" y="424.8" width="13.8" height="13.8"/><rect x="1673.7" y="424.8" width="13.8" height="13.8"/><rect x="1680.7" y="424.8" width="13.8" height="13.8"/><rect x="1657.5" y="428.9" width="13.8" height="13.8"/><rect x="1663.7" y="428.9" width="13.8" height="13.8"/><rect x="1670.0" y="428.9" width="13.8" height="13.8"/><rect x="1676.2" y="428.9" width="13.8" height="13.8"/><rect x="1657.5" y="433.1" width="13.8" height="13.8"/><rect x="1663.7" y="433.1" width="13.8" height="13.8"/><rect x="1670.0" y="433.1" width="13.8" height="13.8"/><rect x="1676.2" y="433.1" width="13.8" height="13.8"/><rect x="1661.3" y="437.3" width="13.8" height="13.8"/><rect x="1668.6" y="437.3" width="13.8" height="13.8"/><rect x="1675.9" y="437.3" width="13.8" height="13.8"/><rect x="1661.3" y="442.7" width="13.8" height="13.8"/><rect x="1666.4" y="442.7" width="13.8" height="13.8"/><rect x="1671.5" y="442.7" width="13.8" height="13.8"/><rect x="1661.3" y="448.1" width="13.8" height="13.8"/><rect x="1666.4" y="448.1" width="13.8" height="13.8"/><rect x="1671.5" y="448.1" width="13.8" height="13.8"/><rect x="1663.0" y="451.4" width="13.8" height="13.8"/><rect x="1670.4" y="451.4" width="13.8" height="13.8"/><rect x="1663.0" y="454.8" width="13.8" height="13.8"/><rect x="1670.4" y="454.8" width="13.8" height="13.8"/><rect x="1663.0" y="459.2" width="13.8" height="13.8"/><rect x="1670.4" y="459.2" width="13.8" height="13.8"/><rect x="1663.0" y="463.7" width="13.8" height="13.8"/><rect x="1670.4" y="463.7" width="13.8" height="13.8"/><rect x="1661.3" y="468.1" width="13.8" height="13.8"/><rect x="1666.4" y="468.1" width="13.8" height="13.8"/><rect x="1671.5" y="468.1" width="13.8" height="13.8"/></g>
<line x1="1741.33" y1="355.00" x2="1811.67" y2="355.00" stroke="#D9D9D9" stroke-width="4.8" stroke-linecap="butt"/>
<g fill="#43F0AF"><path d="M1776.1,278.9l6.9,13.8h-13.8z"/><path d="M1776.8,278.9l6.9,13.8h-13.8z"/><path d="M1776.9,287.3l6.9,13.8h-13.8z"/><path d="M1781.4,287.3l6.9,13.8h-13.8z"/><path d="M1771.1,298.1l6.9,13.8h-13.8z"/><path d="M1776.2,298.1l6.9,13.8h-13.8z"/><path d="M1781.4,298.1l6.9,13.8h-13.8z"/><path d="M1773.8,301.3l6.9,13.8h-13.8z"/><path d="M1778.7,301.3l6.9,13.8h-13.8z"/><path d="M1769.4,304.4l6.9,13.8h-13.8z"/><path d="M1776.8,304.4l6.9,13.8h-13.8z"/><path d="M1784.3,304.4l6.9,13.8h-13.8z"/><path d="M1773.8,308.8l6.9,13.8h-13.8z"/><path d="M1779.5,308.8l6.9,13.8h-13.8z"/><path d="M1771.1,313.1l6.9,13.8h-13.8z"/><path d="M1776.7,313.1l6.9,13.8h-13.8z"/><path d="M1782.3,313.1l6.9,13.8h-13.8z"/><path d="M1773.8,318.1l6.9,13.8h-13.8z"/><path d="M1779.5,318.1l6.9,13.8h-13.8z"/><path d="M1768.6,323.1l6.9,13.8h-13.8z"/><path d="M1774.5,323.1l6.9,13.8h-13.8z"/><path d="M1780.5,323.1l6.9,13.8h-13.8z"/><path d="M1786.4,323.1l6.9,13.8h-13.8z"/><path d="M1771.3,327.7l6.9,13.8h-13.8z"/><path d="M1777.5,327.7l6.9,13.8h-13.8z"/><path d="M1783.7,327.7l6.9,13.8h-13.8z"/><path d="M1758.6,332.3l6.9,13.8h-13.8z"/><path d="M1766.0,332.3l6.9,13.8h-13.8z"/><path d="M1773.4,332.3l6.9,13.8h-13.8z"/><path d="M1780.8,332.3l6.9,13.8h-13.8z"/><path d="M1788.2,332.3l6.9,13.8h-13.8z"/><path d="M1795.6,332.3l6.9,13.8h-13.8z"/><path d="M1763.0,336.0l6.9,13.8h-13.8z"/><path d="M1770.2,336.0l6.9,13.8h-13.8z"/><path d="M1777.5,336.0l6.9,13.8h-13.8z"/><path d="M1784.8,336.0l6.9,13.8h-13.8z"/><path d="M1792.0,336.0l6.9,13.8h-13.8z"/><path d="M1760.2,339.8l6.9,13.8h-13.8z"/><path d="M1767.1,339.8l6.9,13.8h-13.8z"/><path d="M1774.0,339.8l6.9,13.8h-13.8z"/><path d="M1781.0,339.8l6.9,13.8h-13.8z"/><path d="M1787.9,339.8l6.9,13.8h-13.8z"/><path d="M1794.8,339.8l6.9,13.8h-13.8z"/><path d="M1763.0,343.1l6.9,13.8h-13.8z"/><path d="M1770.2,343.1l6.9,13.8h-13.8z"/><path d="M1777.5,343.1l6.9,13.8h-13.8z"/><path d="M1784.8,343.1l6.9,13.8h-13.8z"/><path d="M1792.0,343.1l6.9,13.8h-13.8z"/><path d="M1753.6,346.4l6.9,13.8h-13.8z"/><path d="M1760.4,346.4l6.9,13.8h-13.8z"/><path d="M1767.2,346.4l6.9,13.8h-13.8z"/><path d="M1774.1,346.4l6.9,13.8h-13.8z"/><path d="M1780.9,346.4l6.9,13.8h-13.8z"/><path d="M1787.8,346.4l6.9,13.8h-13.8z"/><path d="M1794.6,346.4l6.9,13.8h-13.8z"/><path d="M1801.4,346.4l6.9,13.8h-13.8z"/><path d="M1756.3,350.2l6.9,13.8h-13.8z"/><path d="M1763.4,350.2l6.9,13.8h-13.8z"/><path d="M1770.4,350.2l6.9,13.8h-13.8z"/><path d="M1777.5,350.2l6.9,13.8h-13.8z"/><path d="M1784.6,350.2l6.9,13.8h-13.8z"/><path d="M1791.6,350.2l6.9,13.8h-13.8z"/><path d="M1798.7,350.2l6.9,13.8h-13.8z"/><path d="M1747.7,353.9l6.9,13.8h-13.8z"/><path d="M1755.0,353.9l6.9,13.8h-13.8z"/><path d="M1762.3,353.9l6.9,13.8h-13.8z"/><path d="M1769.6,353.9l6.9,13.8h-13.8z"/><path d="M1776.9,353.9l6.9,13.8h-13.8z"/><path d="M1784.2,353.9l6.9,13.8h-13.8z"/><path d="M1791.5,353.9l6.9,13.8h-13.8z"/><path d="M1798.8,353.9l6.9,13.8h-13.8z"/><path d="M1806.1,353.9l6.9,13.8h-13.8z"/><path d="M1764.7,358.5l6.9,13.8h-13.8z"/><path d="M1770.7,358.5l6.9,13.8h-13.8z"/><path d="M1776.7,358.5l6.9,13.8h-13.8z"/><path d="M1782.7,358.5l6.9,13.8h-13.8z"/><path d="M1788.7,358.5l6.9,13.8h-13.8z"/><path d="M1761.9,363.1l6.9,13.8h-13.8z"/><path d="M1769.3,363.1l6.9,13.8h-13.8z"/><path d="M1776.7,363.1l6.9,13.8h-13.8z"/><path d="M1784.0,363.1l6.9,13.8h-13.8z"/><path d="M1791.4,363.1l6.9,13.8h-13.8z"/><path d="M1764.7,367.9l6.9,13.8h-13.8z"/><path d="M1770.7,367.9l6.9,13.8h-13.8z"/><path d="M1776.7,367.9l6.9,13.8h-13.8z"/><path d="M1782.7,367.9l6.9,13.8h-13.8z"/><path d="M1788.7,367.9l6.9,13.8h-13.8z"/><path d="M1755.4,372.6l6.9,13.8h-13.8z"/><path d="M1762.7,372.6l6.9,13.8h-13.8z"/><path d="M1769.9,372.6l6.9,13.8h-13.8z"/><path d="M1777.2,372.6l6.9,13.8h-13.8z"/><path d="M1784.4,372.6l6.9,13.8h-13.8z"/><path d="M1791.7,372.6l6.9,13.8h-13.8z"/><path d="M1798.9,372.6l6.9,13.8h-13.8z"/><path d="M1770.6,375.9l6.9,13.8h-13.8z"/><path d="M1776.9,375.9l6.9,13.8h-13.8z"/><path d="M1783.3,375.9l6.9,13.8h-13.8z"/><path d="M1773.3,380.3l6.9,13.8h-13.8z"/><path d="M1778.8,380.3l6.9,13.8h-13.8z"/><path d="M1773.3,384.6l6.9,13.8h-13.8z"/><path d="M1778.8,384.6l6.9,13.8h-13.8z"/><path d="M1767.6,388.9l6.9,13.8h-13.8z"/><path d="M1774.6,388.9l6.9,13.8h-13.8z"/><path d="M1781.6,388.9l6.9,13.8h-13.8z"/><path d="M1771.6,393.8l6.9,13.8h-13.8z"/><path d="M1779.1,393.8l6.9,13.8h-13.8z"/><path d="M1786.6,393.8l6.9,13.8h-13.8z"/><path d="M1776.9,397.8l6.9,13.8h-13.8z"/><path d="M1776.9,397.8l6.9,13.8h-13.8z"/><path d="M1778.0,408.9l6.9,13.8h-13.8z"/><path d="M1776.2,416.6l6.9,13.8h-13.8z"/></g>
<line x1="1845.83" y1="303.33" x2="1915.83" y2="303.33" stroke="#D9D9D9" stroke-width="4.8" stroke-linecap="butt"/>
<g fill="#FF8000"><path d="M1880.2,203.1l6.9,-13.8h-13.8z"/><path d="M1880.3,203.1l6.9,-13.8h-13.8z"/><path d="M1879.4,215.6l6.9,-13.8h-13.8z"/><path d="M1881.4,215.6l6.9,-13.8h-13.8z"/><path d="M1880.2,231.9l6.9,-13.8h-13.8z"/><path d="M1880.3,231.9l6.9,-13.8h-13.8z"/><path d="M1875.2,237.7l6.9,-13.8h-13.8z"/><path d="M1880.8,237.7l6.9,-13.8h-13.8z"/><path d="M1886.4,237.7l6.9,-13.8h-13.8z"/><path d="M1877.7,249.4l6.9,-13.8h-13.8z"/><path d="M1884.8,249.4l6.9,-13.8h-13.8z"/><path d="M1871.1,258.6l6.9,-13.8h-13.8z"/><path d="M1877.5,258.6l6.9,-13.8h-13.8z"/><path d="M1883.9,258.6l6.9,-13.8h-13.8z"/><path d="M1890.3,258.6l6.9,-13.8h-13.8z"/><path d="M1873.8,264.0l6.9,-13.8h-13.8z"/><path d="M1879.6,264.0l6.9,-13.8h-13.8z"/><path d="M1885.3,264.0l6.9,-13.8h-13.8z"/><path d="M1870.2,269.4l6.9,-13.8h-13.8z"/><path d="M1876.2,269.4l6.9,-13.8h-13.8z"/><path d="M1882.1,269.4l6.9,-13.8h-13.8z"/><path d="M1888.1,269.4l6.9,-13.8h-13.8z"/><path d="M1873.0,273.6l6.9,-13.8h-13.8z"/><path d="M1879.2,273.6l6.9,-13.8h-13.8z"/><path d="M1885.3,273.6l6.9,-13.8h-13.8z"/><path d="M1864.9,277.7l6.9,-13.8h-13.8z"/><path d="M1872.0,277.7l6.9,-13.8h-13.8z"/><path d="M1879.0,277.7l6.9,-13.8h-13.8z"/><path d="M1886.0,277.7l6.9,-13.8h-13.8z"/><path d="M1893.1,277.7l6.9,-13.8h-13.8z"/><path d="M1869.7,280.6l6.9,-13.8h-13.8z"/><path d="M1876.6,280.6l6.9,-13.8h-13.8z"/><path d="M1883.4,280.6l6.9,-13.8h-13.8z"/><path d="M1890.3,280.6l6.9,-13.8h-13.8z"/><path d="M1866.9,283.6l6.9,-13.8h-13.8z"/><path d="M1874.2,283.6l6.9,-13.8h-13.8z"/><path d="M1881.4,283.6l6.9,-13.8h-13.8z"/><path d="M1888.7,283.6l6.9,-13.8h-13.8z"/><path d="M1895.9,283.6l6.9,-13.8h-13.8z"/><path d="M1872.2,287.7l6.9,-13.8h-13.8z"/><path d="M1877.7,287.7l6.9,-13.8h-13.8z"/><path d="M1883.2,287.7l6.9,-13.8h-13.8z"/><path d="M1888.7,287.7l6.9,-13.8h-13.8z"/><path d="M1872.2,291.9l6.9,-13.8h-13.8z"/><path d="M1877.7,291.9l6.9,-13.8h-13.8z"/><path d="M1883.2,291.9l6.9,-13.8h-13.8z"/><path d="M1888.7,291.9l6.9,-13.8h-13.8z"/><path d="M1869.4,296.1l6.9,-13.8h-13.8z"/><path d="M1876.7,296.1l6.9,-13.8h-13.8z"/><path d="M1884.1,296.1l6.9,-13.8h-13.8z"/><path d="M1891.4,296.1l6.9,-13.8h-13.8z"/><path d="M1872.2,301.5l6.9,-13.8h-13.8z"/><path d="M1877.7,301.5l6.9,-13.8h-13.8z"/><path d="M1883.2,301.5l6.9,-13.8h-13.8z"/><path d="M1888.7,301.5l6.9,-13.8h-13.8z"/><path d="M1868.6,306.9l6.9,-13.8h-13.8z"/><path d="M1876.0,306.9l6.9,-13.8h-13.8z"/><path d="M1883.3,306.9l6.9,-13.8h-13.8z"/><path d="M1890.7,306.9l6.9,-13.8h-13.8z"/><path d="M1898.1,306.9l6.9,-13.8h-13.8z"/><path d="M1851.1,310.2l6.9,-13.8h-13.8z"/><path d="M1858.4,310.2l6.9,-13.8h-13.8z"/><path d="M1865.7,310.2l6.9,-13.8h-13.8z"/><path d="M1873.1,310.2l6.9,-13.8h-13.8z"/><path d="M1880.4,310.2l6.9,-13.8h-13.8z"/><path d="M1887.8,310.2l6.9,-13.8h-13.8z"/><path d="M1895.1,310.2l6.9,-13.8h-13.8z"/><path d="M1902.4,310.2l6.9,-13.8h-13.8z"/><path d="M1909.8,310.2l6.9,-13.8h-13.8z"/><path d="M1853.6,315.2l6.9,-13.8h-13.8z"/><path d="M1861.1,315.2l6.9,-13.8h-13.8z"/><path d="M1868.7,315.2l6.9,-13.8h-13.8z"/><path d="M1876.2,315.2l6.9,-13.8h-13.8z"/><path d="M1883.8,315.2l6.9,-13.8h-13.8z"/><path d="M1891.3,315.2l6.9,-13.8h-13.8z"/><path d="M1898.9,315.2l6.9,-13.8h-13.8z"/><path d="M1906.4,315.2l6.9,-13.8h-13.8z"/><path d="M1868.0,320.2l6.9,-13.8h-13.8z"/><path d="M1874.4,320.2l6.9,-13.8h-13.8z"/><path d="M1880.8,320.2l6.9,-13.8h-13.8z"/><path d="M1887.3,320.2l6.9,-13.8h-13.8z"/><path d="M1893.7,320.2l6.9,-13.8h-13.8z"/><path d="M1865.2,325.2l6.9,-13.8h-13.8z"/><path d="M1871.5,325.2l6.9,-13.8h-13.8z"/><path d="M1877.7,325.2l6.9,-13.8h-13.8z"/><path d="M1884.0,325.2l6.9,-13.8h-13.8z"/><path d="M1890.2,325.2l6.9,-13.8h-13.8z"/><path d="M1896.4,325.2l6.9,-13.8h-13.8z"/><path d="M1868.0,328.1l6.9,-13.8h-13.8z"/><path d="M1875.4,328.1l6.9,-13.8h-13.8z"/><path d="M1882.9,328.1l6.9,-13.8h-13.8z"/><path d="M1890.3,328.1l6.9,-13.8h-13.8z"/><path d="M1863.9,331.1l6.9,-13.8h-13.8z"/><path d="M1871.2,331.1l6.9,-13.8h-13.8z"/><path d="M1878.5,331.1l6.9,-13.8h-13.8z"/><path d="M1885.8,331.1l6.9,-13.8h-13.8z"/><path d="M1893.1,331.1l6.9,-13.8h-13.8z"/><path d="M1866.9,334.4l6.9,-13.8h-13.8z"/><path d="M1873.0,334.4l6.9,-13.8h-13.8z"/><path d="M1879.0,334.4l6.9,-13.8h-13.8z"/><path d="M1885.1,334.4l6.9,-13.8h-13.8z"/><path d="M1891.2,334.4l6.9,-13.8h-13.8z"/><path d="M1897.3,334.4l6.9,-13.8h-13.8z"/><path d="M1869.7,338.6l6.9,-13.8h-13.8z"/><path d="M1875.9,338.6l6.9,-13.8h-13.8z"/><path d="M1882.1,338.6l6.9,-13.8h-13.8z"/><path d="M1888.3,338.6l6.9,-13.8h-13.8z"/><path d="M1894.5,338.6l6.9,-13.8h-13.8z"/><path d="M1869.7,342.7l6.9,-13.8h-13.8z"/><path d="M1875.9,342.7l6.9,-13.8h-13.8z"/><path d="M1882.1,342.7l6.9,-13.8h-13.8z"/><path d="M1888.3,342.7l6.9,-13.8h-13.8z"/><path d="M1894.5,342.7l6.9,-13.8h-13.8z"/><path d="M1854.4,346.9l6.9,-13.8h-13.8z"/><path d="M1861.9,346.9l6.9,-13.8h-13.8z"/><path d="M1869.4,346.9l6.9,-13.8h-13.8z"/><path d="M1876.9,346.9l6.9,-13.8h-13.8z"/><path d="M1884.4,346.9l6.9,-13.8h-13.8z"/><path d="M1891.9,346.9l6.9,-13.8h-13.8z"/><path d="M1899.4,346.9l6.9,-13.8h-13.8z"/><path d="M1906.9,346.9l6.9,-13.8h-13.8z"/><path d="M1856.9,351.9l6.9,-13.8h-13.8z"/><path d="M1863.5,351.9l6.9,-13.8h-13.8z"/><path d="M1870.1,351.9l6.9,-13.8h-13.8z"/><path d="M1876.7,351.9l6.9,-13.8h-13.8z"/><path d="M1883.3,351.9l6.9,-13.8h-13.8z"/><path d="M1889.9,351.9l6.9,-13.8h-13.8z"/><path d="M1896.5,351.9l6.9,-13.8h-13.8z"/><path d="M1903.1,351.9l6.9,-13.8h-13.8z"/><path d="M1873.0,355.2l6.9,-13.8h-13.8z"/><path d="M1880.0,355.2l6.9,-13.8h-13.8z"/><path d="M1887.0,355.2l6.9,-13.8h-13.8z"/><path d="M1870.2,358.6l6.9,-13.8h-13.8z"/><path d="M1876.7,358.6l6.9,-13.8h-13.8z"/><path d="M1883.3,358.6l6.9,-13.8h-13.8z"/><path d="M1889.8,358.6l6.9,-13.8h-13.8z"/><path d="M1876.3,361.9l6.9,-13.8h-13.8z"/><path d="M1883.7,361.9l6.9,-13.8h-13.8z"/><path d="M1873.6,365.2l6.9,-13.8h-13.8z"/><path d="M1880.0,365.2l6.9,-13.8h-13.8z"/><path d="M1886.4,365.2l6.9,-13.8h-13.8z"/><path d="M1879.4,379.4l6.9,-13.8h-13.8z"/><path d="M1881.4,379.4l6.9,-13.8h-13.8z"/><path d="M1879.2,384.4l6.9,-13.8h-13.8z"/></g>
<line x1="1500.60" y1="144.75" x2="1500.60" y2="598.35" stroke="#000" stroke-width="4.5" stroke-linecap="butt"/>
<line x1="1480.20" y1="596.10" x2="1953.00" y2="596.10" stroke="#000" stroke-width="4.5" stroke-linecap="butt"/>
<line x1="1480.20" y1="147.00" x2="1500.60" y2="147.00" stroke="#000" stroke-width="4.5" stroke-linecap="butt"/>
<line x1="1480.20" y1="236.82" x2="1500.60" y2="236.82" stroke="#000" stroke-width="4.5" stroke-linecap="butt"/>
<line x1="1480.20" y1="326.64" x2="1500.60" y2="326.64" stroke="#000" stroke-width="4.5" stroke-linecap="butt"/>
<line x1="1480.20" y1="416.46" x2="1500.60" y2="416.46" stroke="#000" stroke-width="4.5" stroke-linecap="butt"/>
<line x1="1480.20" y1="506.28" x2="1500.60" y2="506.28" stroke="#000" stroke-width="4.5" stroke-linecap="butt"/>
<line x1="1569.60" y1="596.10" x2="1569.60" y2="617.00" stroke="#000" stroke-width="4.5" stroke-linecap="butt"/>
<line x1="1672.90" y1="596.10" x2="1672.90" y2="617.00" stroke="#000" stroke-width="4.5" stroke-linecap="butt"/>
<line x1="1777.00" y1="596.10" x2="1777.00" y2="617.00" stroke="#000" stroke-width="4.5" stroke-linecap="butt"/>
<line x1="1880.60" y1="596.10" x2="1880.60" y2="617.00" stroke="#000" stroke-width="4.5" stroke-linecap="butt"/>
<text transform="translate(1436.97,160.40) scale(1,1.0450)" font-family='"Liberation Sans", Arial, sans-serif' font-weight="bold" font-size="34.50">50</text>
<text transform="translate(1436.62,250.22) scale(1,1.0450)" font-family='"Liberation Sans", Arial, sans-serif' font-weight="bold" font-size="34.50">45</text>
<text transform="translate(1436.97,340.04) scale(1,1.0450)" font-family='"Liberation Sans", Arial, sans-serif' font-weight="bold" font-size="34.50">40</text>
<text transform="translate(1436.62,429.86) scale(1,1.0450)" font-family='"Liberation Sans", Arial, sans-serif' font-weight="bold" font-size="34.50">35</text>
<text transform="translate(1436.97,519.68) scale(1,1.0450)" font-family='"Liberation Sans", Arial, sans-serif' font-weight="bold" font-size="34.50">30</text>
<text transform="translate(1436.62,609.50) scale(1,1.0450)" font-family='"Liberation Sans", Arial, sans-serif' font-weight="bold" font-size="34.50">25</text>
<text transform="translate(1557.14,654.60) scale(1,1.0600)" font-family='"Liberation Sans", Arial, sans-serif' font-weight="bold" font-size="34.50">A</text>
<text transform="translate(1660.44,654.60) scale(1,1.0600)" font-family='"Liberation Sans", Arial, sans-serif' font-weight="bold" font-size="34.50">B</text>
<text transform="translate(1764.54,654.60) scale(1,1.0600)" font-family='"Liberation Sans", Arial, sans-serif' font-weight="bold" font-size="34.50">C</text>
<text transform="translate(1868.14,654.60) scale(1,1.0600)" font-family='"Liberation Sans", Arial, sans-serif' font-weight="bold" font-size="34.50">D</text>
<text transform="translate(1694.57,705.50) scale(1,1.0500)" font-family='"Liberation Sans", Arial, sans-serif' font-weight="normal" font-size="41.50" letter-spacing="2.04">(C)</text>
<text transform="translate(1696.67,27.90) scale(1,1.0500)" font-family='"Liberation Sans", Arial, sans-serif' font-weight="bold" font-size="35.00" letter-spacing="-1.28">A-T</text>
<text transform="translate(1412.10,577.60) rotate(-90)" x="-0.31" y="0" font-family='"Liberation Serif", "Times New Roman", serif' font-weight="bold" font-size="30.60">Aortic relaxation time constant</text>
<path d="M1620.20,228.40 V94.60 H1826.60 V112.50" fill="none" stroke="#000" stroke-width="4.5" stroke-linejoin="round" stroke-linecap="butt"/>
<path d="M1771.60,265.20 V153.70 H1880.60 V178.50" fill="none" stroke="#000" stroke-width="4.5" stroke-linejoin="round" stroke-linecap="butt"/>
<path d="M1568.80,330.00 V275.20 H1672.90 V305.90" fill="none" stroke="#000" stroke-width="4.5" stroke-linejoin="round" stroke-linecap="butt"/>
<text transform="translate(1691.19,81.22) scale(0.9011,1)" font-family='"DejaVu Sans", "Liberation Sans", sans-serif' font-weight="bold" font-size="28.27" letter-spacing="4.07">***</text>
<text transform="translate(1794.29,141.16) scale(0.9011,1)" font-family='"DejaVu Sans", "Liberation Sans", sans-serif' font-weight="bold" font-size="28.06" letter-spacing="4.13">***</text>
<text transform="translate(1589.27,262.66) scale(0.9011,1)" font-family='"DejaVu Sans", "Liberation Sans", sans-serif' font-weight="bold" font-size="29.14" letter-spacing="3.36">***</text>
<!-- panel D -->
<line x1="198.28" y1="1160.49" x2="261.10" y2="1160.49" stroke="#D9D9D9" stroke-width="4.4" stroke-linecap="butt"/>
<g fill="#A80AE0"><circle cx="237.9" cy="1057.0" r="6.50"/><circle cx="237.9" cy="1057.0" r="6.50"/><circle cx="217.8" cy="1063.4" r="6.50"/><circle cx="223.7" cy="1063.4" r="6.50"/><circle cx="229.6" cy="1063.4" r="6.50"/><circle cx="235.5" cy="1063.4" r="6.50"/><circle cx="241.3" cy="1063.4" r="6.50"/><circle cx="226.3" cy="1067.6" r="6.50"/><circle cx="232.6" cy="1067.6" r="6.50"/><circle cx="226.3" cy="1071.8" r="6.50"/><circle cx="232.6" cy="1071.8" r="6.50"/><circle cx="223.7" cy="1076.0" r="6.50"/><circle cx="229.5" cy="1076.0" r="6.50"/><circle cx="235.2" cy="1076.0" r="6.50"/><circle cx="227.9" cy="1079.4" r="6.50"/><circle cx="232.1" cy="1079.4" r="6.50"/><circle cx="225.3" cy="1082.8" r="6.50"/><circle cx="230.0" cy="1082.8" r="6.50"/><circle cx="234.7" cy="1082.8" r="6.50"/><circle cx="227.6" cy="1088.5" r="6.50"/><circle cx="233.4" cy="1088.5" r="6.50"/><circle cx="229.9" cy="1094.2" r="6.50"/><circle cx="232.4" cy="1094.2" r="6.50"/><circle cx="209.3" cy="1101.1" r="6.50"/><circle cx="216.1" cy="1101.1" r="6.50"/><circle cx="222.9" cy="1101.1" r="6.50"/><circle cx="229.7" cy="1101.1" r="6.50"/><circle cx="236.5" cy="1101.1" r="6.50"/><circle cx="243.2" cy="1101.1" r="6.50"/><circle cx="250.0" cy="1101.1" r="6.50"/><circle cx="216.1" cy="1105.7" r="6.50"/><circle cx="222.5" cy="1105.7" r="6.50"/><circle cx="228.9" cy="1105.7" r="6.50"/><circle cx="235.3" cy="1105.7" r="6.50"/><circle cx="241.7" cy="1105.7" r="6.50"/><circle cx="213.5" cy="1110.2" r="6.50"/><circle cx="219.6" cy="1110.2" r="6.50"/><circle cx="225.8" cy="1110.2" r="6.50"/><circle cx="232.0" cy="1110.2" r="6.50"/><circle cx="238.1" cy="1110.2" r="6.50"/><circle cx="244.3" cy="1110.2" r="6.50"/><circle cx="221.1" cy="1113.7" r="6.50"/><circle cx="227.0" cy="1113.7" r="6.50"/><circle cx="233.0" cy="1113.7" r="6.50"/><circle cx="239.0" cy="1113.7" r="6.50"/><circle cx="218.5" cy="1117.1" r="6.50"/><circle cx="224.3" cy="1117.1" r="6.50"/><circle cx="230.0" cy="1117.1" r="6.50"/><circle cx="235.8" cy="1117.1" r="6.50"/><circle cx="241.6" cy="1117.1" r="6.50"/><circle cx="228.1" cy="1126.9" r="6.50"/><circle cx="230.6" cy="1126.9" r="6.50"/><circle cx="219.6" cy="1134.2" r="6.50"/><circle cx="226.3" cy="1134.2" r="6.50"/><circle cx="233.0" cy="1134.2" r="6.50"/><circle cx="239.7" cy="1134.2" r="6.50"/><circle cx="222.2" cy="1137.1" r="6.50"/><circle cx="227.2" cy="1137.1" r="6.50"/><circle cx="232.2" cy="1137.1" r="6.50"/><circle cx="237.1" cy="1137.1" r="6.50"/><circle cx="207.5" cy="1139.9" r="6.50"/><circle cx="213.9" cy="1139.9" r="6.50"/><circle cx="220.2" cy="1139.9" r="6.50"/><circle cx="226.5" cy="1139.9" r="6.50"/><circle cx="232.9" cy="1139.9" r="6.50"/><circle cx="239.2" cy="1139.9" r="6.50"/><circle cx="245.5" cy="1139.9" r="6.50"/><circle cx="251.9" cy="1139.9" r="6.50"/><circle cx="248.0" cy="1145.2" r="6.50"/><circle cx="217.3" cy="1157.7" r="6.50"/><circle cx="224.4" cy="1157.7" r="6.50"/><circle cx="231.4" cy="1157.7" r="6.50"/><circle cx="238.4" cy="1157.7" r="6.50"/><circle cx="245.5" cy="1157.7" r="6.50"/><circle cx="219.9" cy="1160.8" r="6.50"/><circle cx="225.4" cy="1160.8" r="6.50"/><circle cx="230.8" cy="1160.8" r="6.50"/><circle cx="236.3" cy="1160.8" r="6.50"/><circle cx="241.7" cy="1160.8" r="6.50"/><circle cx="213.9" cy="1163.9" r="6.50"/><circle cx="220.0" cy="1163.9" r="6.50"/><circle cx="226.1" cy="1163.9" r="6.50"/><circle cx="232.2" cy="1163.9" r="6.50"/><circle cx="238.2" cy="1163.9" r="6.50"/><circle cx="244.3" cy="1163.9" r="6.50"/><circle cx="220.8" cy="1168.0" r="6.50"/><circle cx="227.5" cy="1168.0" r="6.50"/><circle cx="234.2" cy="1168.0" r="6.50"/><circle cx="240.9" cy="1168.0" r="6.50"/><circle cx="209.3" cy="1183.6" r="6.50"/><circle cx="215.9" cy="1183.6" r="6.50"/><circle cx="222.5" cy="1183.6" r="6.50"/><circle cx="229.1" cy="1183.6" r="6.50"/><circle cx="235.7" cy="1183.6" r="6.50"/><circle cx="242.3" cy="1183.6" r="6.50"/><circle cx="248.9" cy="1183.6" r="6.50"/><circle cx="202.9" cy="1185.6" r="6.50"/><circle cx="209.5" cy="1185.6" r="6.50"/><circle cx="216.1" cy="1185.6" r="6.50"/><circle cx="222.7" cy="1185.6" r="6.50"/><circle cx="229.3" cy="1185.6" r="6.50"/><circle cx="235.9" cy="1185.6" r="6.50"/><circle cx="242.5" cy="1185.6" r="6.50"/><circle cx="249.1" cy="1185.6" r="6.50"/><circle cx="255.7" cy="1185.6" r="6.50"/><circle cx="210.8" cy="1189.4" r="6.50"/><circle cx="216.9" cy="1189.4" r="6.50"/><circle cx="223.0" cy="1189.4" r="6.50"/><circle cx="229.1" cy="1189.4" r="6.50"/><circle cx="235.2" cy="1189.4" r="6.50"/><circle cx="241.3" cy="1189.4" r="6.50"/><circle cx="247.4" cy="1189.4" r="6.50"/><circle cx="210.8" cy="1193.2" r="6.50"/><circle cx="216.9" cy="1193.2" r="6.50"/><circle cx="223.0" cy="1193.2" r="6.50"/><circle cx="229.1" cy="1193.2" r="6.50"/><circle cx="235.2" cy="1193.2" r="6.50"/><circle cx="241.3" cy="1193.2" r="6.50"/><circle cx="247.4" cy="1193.2" r="6.50"/><circle cx="208.2" cy="1197.0" r="6.50"/><circle cx="215.2" cy="1197.0" r="6.50"/><circle cx="222.1" cy="1197.0" r="6.50"/><circle cx="229.1" cy="1197.0" r="6.50"/><circle cx="236.1" cy="1197.0" r="6.50"/><circle cx="243.1" cy="1197.0" r="6.50"/><circle cx="250.0" cy="1197.0" r="6.50"/><circle cx="223.4" cy="1199.9" r="6.50"/><circle cx="230.3" cy="1199.9" r="6.50"/><circle cx="237.1" cy="1199.9" r="6.50"/><circle cx="220.8" cy="1202.8" r="6.50"/><circle cx="227.1" cy="1202.8" r="6.50"/><circle cx="233.4" cy="1202.8" r="6.50"/><circle cx="239.7" cy="1202.8" r="6.50"/><circle cx="223.4" cy="1206.2" r="6.50"/><circle cx="230.3" cy="1206.2" r="6.50"/><circle cx="237.1" cy="1206.2" r="6.50"/><circle cx="220.1" cy="1209.6" r="6.50"/><circle cx="226.6" cy="1209.6" r="6.50"/><circle cx="233.2" cy="1209.6" r="6.50"/><circle cx="239.7" cy="1209.6" r="6.50"/><circle cx="223.4" cy="1213.0" r="6.50"/><circle cx="230.0" cy="1213.0" r="6.50"/><circle cx="236.7" cy="1213.0" r="6.50"/><circle cx="220.8" cy="1216.5" r="6.50"/><circle cx="226.9" cy="1216.5" r="6.50"/><circle cx="233.1" cy="1216.5" r="6.50"/><circle cx="239.3" cy="1216.5" r="6.50"/><circle cx="223.4" cy="1219.7" r="6.50"/><circle cx="230.0" cy="1219.7" r="6.50"/><circle cx="236.7" cy="1219.7" r="6.50"/><circle cx="220.1" cy="1222.9" r="6.50"/><circle cx="226.6" cy="1222.9" r="6.50"/><circle cx="233.2" cy="1222.9" r="6.50"/><circle cx="239.7" cy="1222.9" r="6.50"/><circle cx="226.1" cy="1226.3" r="6.50"/><circle cx="233.0" cy="1226.3" r="6.50"/><circle cx="223.5" cy="1229.7" r="6.50"/><circle cx="229.6" cy="1229.7" r="6.50"/><circle cx="235.6" cy="1229.7" r="6.50"/><circle cx="226.3" cy="1232.8" r="6.50"/><circle cx="232.6" cy="1232.8" r="6.50"/><circle cx="223.7" cy="1235.9" r="6.50"/><circle cx="229.5" cy="1235.9" r="6.50"/><circle cx="235.2" cy="1235.9" r="6.50"/><circle cx="227.6" cy="1242.7" r="6.50"/><circle cx="231.8" cy="1242.7" r="6.50"/><circle cx="227.6" cy="1249.6" r="6.50"/><circle cx="230.6" cy="1249.6" r="6.50"/><circle cx="226.5" cy="1275.4" r="6.50"/><circle cx="233.4" cy="1275.4" r="6.50"/><circle cx="232.0" cy="1286.1" r="6.50"/><circle cx="227.6" cy="1290.7" r="6.50"/><circle cx="227.9" cy="1290.7" r="6.50"/><circle cx="229.3" cy="1033.2" r="6.50"/><circle cx="229.1" cy="1268.5" r="6.50"/></g>
<line x1="291.15" y1="1178.21" x2="354.23" y2="1178.21" stroke="#D9D9D9" stroke-width="4.4" stroke-linecap="butt"/>
<g fill="#559FFA"><rect x="312.6" y="1060.0" width="13.0" height="13.0"/><rect x="317.1" y="1060.0" width="13.0" height="13.0"/><rect x="321.6" y="1060.0" width="13.0" height="13.0"/><rect x="316.7" y="1068.6" width="13.0" height="13.0"/><rect x="312.6" y="1077.6" width="13.0" height="13.0"/><rect x="317.1" y="1077.6" width="13.0" height="13.0"/><rect x="321.6" y="1077.6" width="13.0" height="13.0"/><rect x="312.6" y="1095.6" width="13.0" height="13.0"/><rect x="317.1" y="1095.6" width="13.0" height="13.0"/><rect x="321.6" y="1095.6" width="13.0" height="13.0"/><rect x="312.6" y="1099.6" width="13.0" height="13.0"/><rect x="317.1" y="1099.6" width="13.0" height="13.0"/><rect x="321.6" y="1099.6" width="13.0" height="13.0"/><rect x="312.6" y="1103.6" width="13.0" height="13.0"/><rect x="317.1" y="1103.6" width="13.0" height="13.0"/><rect x="321.6" y="1103.6" width="13.0" height="13.0"/><rect x="312.6" y="1108.6" width="13.0" height="13.0"/><rect x="317.1" y="1108.6" width="13.0" height="13.0"/><rect x="321.6" y="1108.6" width="13.0" height="13.0"/><rect x="308.2" y="1113.6" width="13.0" height="13.0"/><rect x="314.2" y="1113.6" width="13.0" height="13.0"/><rect x="320.2" y="1113.6" width="13.0" height="13.0"/><rect x="326.2" y="1113.6" width="13.0" height="13.0"/><rect x="308.2" y="1116.6" width="13.0" height="13.0"/><rect x="314.2" y="1116.6" width="13.0" height="13.0"/><rect x="320.2" y="1116.6" width="13.0" height="13.0"/><rect x="326.2" y="1116.6" width="13.0" height="13.0"/><rect x="302.6" y="1119.6" width="13.0" height="13.0"/><rect x="308.3" y="1119.6" width="13.0" height="13.0"/><rect x="314.0" y="1119.6" width="13.0" height="13.0"/><rect x="319.8" y="1119.6" width="13.0" height="13.0"/><rect x="325.5" y="1119.6" width="13.0" height="13.0"/><rect x="331.2" y="1119.6" width="13.0" height="13.0"/><rect x="302.6" y="1124.1" width="13.0" height="13.0"/><rect x="308.3" y="1124.1" width="13.0" height="13.0"/><rect x="314.0" y="1124.1" width="13.0" height="13.0"/><rect x="319.8" y="1124.1" width="13.0" height="13.0"/><rect x="325.5" y="1124.1" width="13.0" height="13.0"/><rect x="331.2" y="1124.1" width="13.0" height="13.0"/><rect x="302.6" y="1128.6" width="13.0" height="13.0"/><rect x="308.3" y="1128.6" width="13.0" height="13.0"/><rect x="314.0" y="1128.6" width="13.0" height="13.0"/><rect x="319.8" y="1128.6" width="13.0" height="13.0"/><rect x="325.5" y="1128.6" width="13.0" height="13.0"/><rect x="331.2" y="1128.6" width="13.0" height="13.0"/><rect x="290.1" y="1133.1" width="13.0" height="13.0"/><rect x="296.8" y="1133.1" width="13.0" height="13.0"/><rect x="303.4" y="1133.1" width="13.0" height="13.0"/><rect x="310.1" y="1133.1" width="13.0" height="13.0"/><rect x="316.7" y="1133.1" width="13.0" height="13.0"/><rect x="323.3" y="1133.1" width="13.0" height="13.0"/><rect x="330.0" y="1133.1" width="13.0" height="13.0"/><rect x="336.6" y="1133.1" width="13.0" height="13.0"/><rect x="343.2" y="1133.1" width="13.0" height="13.0"/><rect x="302.6" y="1136.4" width="13.0" height="13.0"/><rect x="308.3" y="1136.4" width="13.0" height="13.0"/><rect x="314.0" y="1136.4" width="13.0" height="13.0"/><rect x="319.8" y="1136.4" width="13.0" height="13.0"/><rect x="325.5" y="1136.4" width="13.0" height="13.0"/><rect x="331.2" y="1136.4" width="13.0" height="13.0"/><rect x="302.6" y="1139.7" width="13.0" height="13.0"/><rect x="308.3" y="1139.7" width="13.0" height="13.0"/><rect x="314.0" y="1139.7" width="13.0" height="13.0"/><rect x="319.8" y="1139.7" width="13.0" height="13.0"/><rect x="325.5" y="1139.7" width="13.0" height="13.0"/><rect x="331.2" y="1139.7" width="13.0" height="13.0"/><rect x="308.2" y="1142.7" width="13.0" height="13.0"/><rect x="313.2" y="1142.7" width="13.0" height="13.0"/><rect x="318.2" y="1142.7" width="13.0" height="13.0"/><rect x="323.2" y="1142.7" width="13.0" height="13.0"/><rect x="308.2" y="1145.7" width="13.0" height="13.0"/><rect x="313.2" y="1145.7" width="13.0" height="13.0"/><rect x="318.2" y="1145.7" width="13.0" height="13.0"/><rect x="323.2" y="1145.7" width="13.0" height="13.0"/><rect x="308.2" y="1149.7" width="13.0" height="13.0"/><rect x="313.2" y="1149.7" width="13.0" height="13.0"/><rect x="318.2" y="1149.7" width="13.0" height="13.0"/><rect x="323.2" y="1149.7" width="13.0" height="13.0"/><rect x="308.2" y="1153.7" width="13.0" height="13.0"/><rect x="313.2" y="1153.7" width="13.0" height="13.0"/><rect x="318.2" y="1153.7" width="13.0" height="13.0"/><rect x="323.2" y="1153.7" width="13.0" height="13.0"/><rect x="300.2" y="1157.7" width="13.0" height="13.0"/><rect x="306.8" y="1157.7" width="13.0" height="13.0"/><rect x="313.4" y="1157.7" width="13.0" height="13.0"/><rect x="320.0" y="1157.7" width="13.0" height="13.0"/><rect x="326.6" y="1157.7" width="13.0" height="13.0"/><rect x="333.2" y="1157.7" width="13.0" height="13.0"/><rect x="300.2" y="1161.4" width="13.0" height="13.0"/><rect x="306.8" y="1161.4" width="13.0" height="13.0"/><rect x="313.4" y="1161.4" width="13.0" height="13.0"/><rect x="320.0" y="1161.4" width="13.0" height="13.0"/><rect x="326.6" y="1161.4" width="13.0" height="13.0"/><rect x="333.2" y="1161.4" width="13.0" height="13.0"/><rect x="300.2" y="1165.0" width="13.0" height="13.0"/><rect x="306.8" y="1165.0" width="13.0" height="13.0"/><rect x="313.4" y="1165.0" width="13.0" height="13.0"/><rect x="320.0" y="1165.0" width="13.0" height="13.0"/><rect x="326.6" y="1165.0" width="13.0" height="13.0"/><rect x="333.2" y="1165.0" width="13.0" height="13.0"/><rect x="294.6" y="1168.7" width="13.0" height="13.0"/><rect x="300.9" y="1168.7" width="13.0" height="13.0"/><rect x="307.2" y="1168.7" width="13.0" height="13.0"/><rect x="313.5" y="1168.7" width="13.0" height="13.0"/><rect x="319.9" y="1168.7" width="13.0" height="13.0"/><rect x="326.2" y="1168.7" width="13.0" height="13.0"/><rect x="332.5" y="1168.7" width="13.0" height="13.0"/><rect x="338.8" y="1168.7" width="13.0" height="13.0"/><rect x="293.2" y="1173.7" width="13.0" height="13.0"/><rect x="300.0" y="1173.7" width="13.0" height="13.0"/><rect x="306.9" y="1173.7" width="13.0" height="13.0"/><rect x="313.8" y="1173.7" width="13.0" height="13.0"/><rect x="320.6" y="1173.7" width="13.0" height="13.0"/><rect x="327.5" y="1173.7" width="13.0" height="13.0"/><rect x="334.4" y="1173.7" width="13.0" height="13.0"/><rect x="341.2" y="1173.7" width="13.0" height="13.0"/><rect x="296.2" y="1178.7" width="13.0" height="13.0"/><rect x="302.3" y="1178.7" width="13.0" height="13.0"/><rect x="308.5" y="1178.7" width="13.0" height="13.0"/><rect x="314.7" y="1178.7" width="13.0" height="13.0"/><rect x="320.9" y="1178.7" width="13.0" height="13.0"/><rect x="327.0" y="1178.7" width="13.0" height="13.0"/><rect x="333.2" y="1178.7" width="13.0" height="13.0"/><rect x="296.2" y="1183.7" width="13.0" height="13.0"/><rect x="302.3" y="1183.7" width="13.0" height="13.0"/><rect x="308.5" y="1183.7" width="13.0" height="13.0"/><rect x="314.7" y="1183.7" width="13.0" height="13.0"/><rect x="320.9" y="1183.7" width="13.0" height="13.0"/><rect x="327.0" y="1183.7" width="13.0" height="13.0"/><rect x="333.2" y="1183.7" width="13.0" height="13.0"/><rect x="296.2" y="1188.7" width="13.0" height="13.0"/><rect x="302.3" y="1188.7" width="13.0" height="13.0"/><rect x="308.5" y="1188.7" width="13.0" height="13.0"/><rect x="314.7" y="1188.7" width="13.0" height="13.0"/><rect x="320.9" y="1188.7" width="13.0" height="13.0"/><rect x="327.0" y="1188.7" width="13.0" height="13.0"/><rect x="333.2" y="1188.7" width="13.0" height="13.0"/><rect x="290.1" y="1193.7" width="13.0" height="13.0"/><rect x="297.1" y="1193.7" width="13.0" height="13.0"/><rect x="304.1" y="1193.7" width="13.0" height="13.0"/><rect x="311.0" y="1193.7" width="13.0" height="13.0"/><rect x="318.0" y="1193.7" width="13.0" height="13.0"/><rect x="324.9" y="1193.7" width="13.0" height="13.0"/><rect x="331.9" y="1193.7" width="13.0" height="13.0"/><rect x="338.8" y="1193.7" width="13.0" height="13.0"/><rect x="305.2" y="1198.7" width="13.0" height="13.0"/><rect x="311.5" y="1198.7" width="13.0" height="13.0"/><rect x="317.9" y="1198.7" width="13.0" height="13.0"/><rect x="324.2" y="1198.7" width="13.0" height="13.0"/><rect x="330.5" y="1198.7" width="13.0" height="13.0"/><rect x="336.9" y="1198.7" width="13.0" height="13.0"/><rect x="343.2" y="1198.7" width="13.0" height="13.0"/><rect x="305.2" y="1202.8" width="13.0" height="13.0"/><rect x="311.1" y="1202.8" width="13.0" height="13.0"/><rect x="317.0" y="1202.8" width="13.0" height="13.0"/><rect x="322.9" y="1202.8" width="13.0" height="13.0"/><rect x="328.8" y="1202.8" width="13.0" height="13.0"/><rect x="305.2" y="1206.8" width="13.0" height="13.0"/><rect x="311.1" y="1206.8" width="13.0" height="13.0"/><rect x="317.0" y="1206.8" width="13.0" height="13.0"/><rect x="322.9" y="1206.8" width="13.0" height="13.0"/><rect x="328.8" y="1206.8" width="13.0" height="13.0"/><rect x="305.2" y="1210.8" width="13.0" height="13.0"/><rect x="311.1" y="1210.8" width="13.0" height="13.0"/><rect x="317.0" y="1210.8" width="13.0" height="13.0"/><rect x="322.9" y="1210.8" width="13.0" height="13.0"/><rect x="328.8" y="1210.8" width="13.0" height="13.0"/><rect x="305.2" y="1214.8" width="13.0" height="13.0"/><rect x="311.1" y="1214.8" width="13.0" height="13.0"/><rect x="317.0" y="1214.8" width="13.0" height="13.0"/><rect x="322.9" y="1214.8" width="13.0" height="13.0"/><rect x="328.8" y="1214.8" width="13.0" height="13.0"/><rect x="310.2" y="1218.3" width="13.0" height="13.0"/><rect x="315.7" y="1218.3" width="13.0" height="13.0"/><rect x="321.2" y="1218.3" width="13.0" height="13.0"/><rect x="310.2" y="1221.8" width="13.0" height="13.0"/><rect x="315.7" y="1221.8" width="13.0" height="13.0"/><rect x="321.2" y="1221.8" width="13.0" height="13.0"/><rect x="313.2" y="1225.8" width="13.0" height="13.0"/><rect x="317.2" y="1225.8" width="13.0" height="13.0"/><rect x="321.2" y="1225.8" width="13.0" height="13.0"/><rect x="313.2" y="1229.8" width="13.0" height="13.0"/><rect x="317.2" y="1229.8" width="13.0" height="13.0"/><rect x="321.2" y="1229.8" width="13.0" height="13.0"/><rect x="313.2" y="1233.8" width="13.0" height="13.0"/><rect x="317.2" y="1233.8" width="13.0" height="13.0"/><rect x="321.2" y="1233.8" width="13.0" height="13.0"/><rect x="313.2" y="1237.3" width="13.0" height="13.0"/><rect x="317.2" y="1237.3" width="13.0" height="13.0"/><rect x="321.2" y="1237.3" width="13.0" height="13.0"/><rect x="302.6" y="1240.8" width="13.0" height="13.0"/><rect x="308.3" y="1240.8" width="13.0" height="13.0"/><rect x="314.0" y="1240.8" width="13.0" height="13.0"/><rect x="319.8" y="1240.8" width="13.0" height="13.0"/><rect x="325.5" y="1240.8" width="13.0" height="13.0"/><rect x="331.2" y="1240.8" width="13.0" height="13.0"/><rect x="312.6" y="1244.5" width="13.0" height="13.0"/><rect x="316.9" y="1244.5" width="13.0" height="13.0"/><rect x="321.2" y="1244.5" width="13.0" height="13.0"/><rect x="312.6" y="1248.1" width="13.0" height="13.0"/><rect x="316.9" y="1248.1" width="13.0" height="13.0"/><rect x="321.2" y="1248.1" width="13.0" height="13.0"/><rect x="312.6" y="1251.8" width="13.0" height="13.0"/><rect x="316.9" y="1251.8" width="13.0" height="13.0"/><rect x="321.2" y="1251.8" width="13.0" height="13.0"/><rect x="312.6" y="1255.8" width="13.0" height="13.0"/><rect x="316.9" y="1255.8" width="13.0" height="13.0"/><rect x="321.2" y="1255.8" width="13.0" height="13.0"/><rect x="312.6" y="1259.8" width="13.0" height="13.0"/><rect x="316.9" y="1259.8" width="13.0" height="13.0"/><rect x="321.2" y="1259.8" width="13.0" height="13.0"/><rect x="312.6" y="1263.8" width="13.0" height="13.0"/><rect x="316.9" y="1263.8" width="13.0" height="13.0"/><rect x="321.2" y="1263.8" width="13.0" height="13.0"/><rect x="310.2" y="1267.8" width="13.0" height="13.0"/><rect x="316.7" y="1267.8" width="13.0" height="13.0"/><rect x="323.2" y="1267.8" width="13.0" height="13.0"/><rect x="314.7" y="1275.9" width="13.0" height="13.0"/><rect x="316.9" y="1043.5" width="13.0" height="13.0"/><rect x="316.9" y="1298.9" width="13.0" height="13.0"/></g>
<line x1="386.03" y1="1192.23" x2="448.71" y2="1192.23" stroke="#D9D9D9" stroke-width="4.4" stroke-linecap="butt"/>
<g fill="#43F0AF"><path d="M417.1,1071.2l6.5,13.0h-13.0z"/><path d="M417.1,1077.6l6.5,13.0h-13.0z"/><path d="M415.6,1083.6l6.5,13.0h-13.0z"/><path d="M419.0,1083.6l6.5,13.0h-13.0z"/><path d="M416.0,1091.6l6.5,13.0h-13.0z"/><path d="M418.2,1091.6l6.5,13.0h-13.0z"/><path d="M415.2,1099.6l6.5,13.0h-13.0z"/><path d="M418.6,1099.6l6.5,13.0h-13.0z"/><path d="M414.4,1105.2l6.5,13.0h-13.0z"/><path d="M419.8,1105.2l6.5,13.0h-13.0z"/><path d="M413.6,1110.6l6.5,13.0h-13.0z"/><path d="M420.6,1110.6l6.5,13.0h-13.0z"/><path d="M412.6,1116.0l6.5,13.0h-13.0z"/><path d="M417.2,1116.0l6.5,13.0h-13.0z"/><path d="M421.8,1116.0l6.5,13.0h-13.0z"/><path d="M415.2,1118.8l6.5,13.0h-13.0z"/><path d="M419.2,1118.8l6.5,13.0h-13.0z"/><path d="M411.6,1121.6l6.5,13.0h-13.0z"/><path d="M417.3,1121.6l6.5,13.0h-13.0z"/><path d="M423.0,1121.6l6.5,13.0h-13.0z"/><path d="M414.2,1124.6l6.5,13.0h-13.0z"/><path d="M420.4,1124.6l6.5,13.0h-13.0z"/><path d="M409.2,1127.7l6.5,13.0h-13.0z"/><path d="M414.6,1127.7l6.5,13.0h-13.0z"/><path d="M420.0,1127.7l6.5,13.0h-13.0z"/><path d="M425.4,1127.7l6.5,13.0h-13.0z"/><path d="M411.8,1130.7l6.5,13.0h-13.0z"/><path d="M417.3,1130.7l6.5,13.0h-13.0z"/><path d="M422.8,1130.7l6.5,13.0h-13.0z"/><path d="M406.5,1133.7l6.5,13.0h-13.0z"/><path d="M413.6,1133.7l6.5,13.0h-13.0z"/><path d="M420.6,1133.7l6.5,13.0h-13.0z"/><path d="M427.6,1133.7l6.5,13.0h-13.0z"/><path d="M404.7,1138.7l6.5,13.0h-13.0z"/><path d="M410.9,1138.7l6.5,13.0h-13.0z"/><path d="M417.1,1138.7l6.5,13.0h-13.0z"/><path d="M423.2,1138.7l6.5,13.0h-13.0z"/><path d="M429.4,1138.7l6.5,13.0h-13.0z"/><path d="M403.1,1143.7l6.5,13.0h-13.0z"/><path d="M410.1,1143.7l6.5,13.0h-13.0z"/><path d="M417.1,1143.7l6.5,13.0h-13.0z"/><path d="M424.0,1143.7l6.5,13.0h-13.0z"/><path d="M431.0,1143.7l6.5,13.0h-13.0z"/><path d="M405.7,1146.7l6.5,13.0h-13.0z"/><path d="M411.4,1146.7l6.5,13.0h-13.0z"/><path d="M417.1,1146.7l6.5,13.0h-13.0z"/><path d="M422.7,1146.7l6.5,13.0h-13.0z"/><path d="M428.4,1146.7l6.5,13.0h-13.0z"/><path d="M403.1,1149.7l6.5,13.0h-13.0z"/><path d="M410.1,1149.7l6.5,13.0h-13.0z"/><path d="M417.1,1149.7l6.5,13.0h-13.0z"/><path d="M424.0,1149.7l6.5,13.0h-13.0z"/><path d="M431.0,1149.7l6.5,13.0h-13.0z"/><path d="M403.1,1154.7l6.5,13.0h-13.0z"/><path d="M410.1,1154.7l6.5,13.0h-13.0z"/><path d="M417.1,1154.7l6.5,13.0h-13.0z"/><path d="M424.0,1154.7l6.5,13.0h-13.0z"/><path d="M431.0,1154.7l6.5,13.0h-13.0z"/><path d="M404.7,1160.1l6.5,13.0h-13.0z"/><path d="M410.9,1160.1l6.5,13.0h-13.0z"/><path d="M417.1,1160.1l6.5,13.0h-13.0z"/><path d="M423.2,1160.1l6.5,13.0h-13.0z"/><path d="M429.4,1160.1l6.5,13.0h-13.0z"/><path d="M409.1,1162.9l6.5,13.0h-13.0z"/><path d="M414.4,1162.9l6.5,13.0h-13.0z"/><path d="M419.7,1162.9l6.5,13.0h-13.0z"/><path d="M425.0,1162.9l6.5,13.0h-13.0z"/><path d="M406.5,1165.7l6.5,13.0h-13.0z"/><path d="M413.6,1165.7l6.5,13.0h-13.0z"/><path d="M420.6,1165.7l6.5,13.0h-13.0z"/><path d="M427.6,1165.7l6.5,13.0h-13.0z"/><path d="M409.1,1169.7l6.5,13.0h-13.0z"/><path d="M414.4,1169.7l6.5,13.0h-13.0z"/><path d="M419.7,1169.7l6.5,13.0h-13.0z"/><path d="M425.0,1169.7l6.5,13.0h-13.0z"/><path d="M392.5,1173.7l6.5,13.0h-13.0z"/><path d="M399.5,1173.7l6.5,13.0h-13.0z"/><path d="M406.6,1173.7l6.5,13.0h-13.0z"/><path d="M413.6,1173.7l6.5,13.0h-13.0z"/><path d="M420.6,1173.7l6.5,13.0h-13.0z"/><path d="M427.6,1173.7l6.5,13.0h-13.0z"/><path d="M434.6,1173.7l6.5,13.0h-13.0z"/><path d="M441.6,1173.7l6.5,13.0h-13.0z"/><path d="M398.1,1177.7l6.5,13.0h-13.0z"/><path d="M404.4,1177.7l6.5,13.0h-13.0z"/><path d="M410.8,1177.7l6.5,13.0h-13.0z"/><path d="M417.1,1177.7l6.5,13.0h-13.0z"/><path d="M423.4,1177.7l6.5,13.0h-13.0z"/><path d="M429.7,1177.7l6.5,13.0h-13.0z"/><path d="M436.0,1177.7l6.5,13.0h-13.0z"/><path d="M395.5,1181.7l6.5,13.0h-13.0z"/><path d="M401.7,1181.7l6.5,13.0h-13.0z"/><path d="M407.8,1181.7l6.5,13.0h-13.0z"/><path d="M414.0,1181.7l6.5,13.0h-13.0z"/><path d="M420.1,1181.7l6.5,13.0h-13.0z"/><path d="M426.3,1181.7l6.5,13.0h-13.0z"/><path d="M432.5,1181.7l6.5,13.0h-13.0z"/><path d="M438.6,1181.7l6.5,13.0h-13.0z"/><path d="M398.1,1185.7l6.5,13.0h-13.0z"/><path d="M404.4,1185.7l6.5,13.0h-13.0z"/><path d="M410.8,1185.7l6.5,13.0h-13.0z"/><path d="M417.1,1185.7l6.5,13.0h-13.0z"/><path d="M423.4,1185.7l6.5,13.0h-13.0z"/><path d="M429.7,1185.7l6.5,13.0h-13.0z"/><path d="M436.0,1185.7l6.5,13.0h-13.0z"/><path d="M390.5,1189.7l6.5,13.0h-13.0z"/><path d="M397.2,1189.7l6.5,13.0h-13.0z"/><path d="M403.8,1189.7l6.5,13.0h-13.0z"/><path d="M410.4,1189.7l6.5,13.0h-13.0z"/><path d="M417.1,1189.7l6.5,13.0h-13.0z"/><path d="M423.7,1189.7l6.5,13.0h-13.0z"/><path d="M430.3,1189.7l6.5,13.0h-13.0z"/><path d="M437.0,1189.7l6.5,13.0h-13.0z"/><path d="M443.6,1189.7l6.5,13.0h-13.0z"/><path d="M402.1,1193.7l6.5,13.0h-13.0z"/><path d="M408.2,1193.7l6.5,13.0h-13.0z"/><path d="M414.2,1193.7l6.5,13.0h-13.0z"/><path d="M420.3,1193.7l6.5,13.0h-13.0z"/><path d="M426.3,1193.7l6.5,13.0h-13.0z"/><path d="M432.4,1193.7l6.5,13.0h-13.0z"/><path d="M402.1,1197.7l6.5,13.0h-13.0z"/><path d="M408.2,1197.7l6.5,13.0h-13.0z"/><path d="M414.2,1197.7l6.5,13.0h-13.0z"/><path d="M420.3,1197.7l6.5,13.0h-13.0z"/><path d="M426.3,1197.7l6.5,13.0h-13.0z"/><path d="M432.4,1197.7l6.5,13.0h-13.0z"/><path d="M399.5,1201.8l6.5,13.0h-13.0z"/><path d="M406.6,1201.8l6.5,13.0h-13.0z"/><path d="M413.7,1201.8l6.5,13.0h-13.0z"/><path d="M420.8,1201.8l6.5,13.0h-13.0z"/><path d="M427.9,1201.8l6.5,13.0h-13.0z"/><path d="M435.0,1201.8l6.5,13.0h-13.0z"/><path d="M399.1,1205.8l6.5,13.0h-13.0z"/><path d="M405.8,1205.8l6.5,13.0h-13.0z"/><path d="M412.5,1205.8l6.5,13.0h-13.0z"/><path d="M419.2,1205.8l6.5,13.0h-13.0z"/><path d="M425.9,1205.8l6.5,13.0h-13.0z"/><path d="M432.6,1205.8l6.5,13.0h-13.0z"/><path d="M403.7,1210.1l6.5,13.0h-13.0z"/><path d="M410.8,1210.1l6.5,13.0h-13.0z"/><path d="M417.9,1210.1l6.5,13.0h-13.0z"/><path d="M425.0,1210.1l6.5,13.0h-13.0z"/><path d="M403.7,1214.4l6.5,13.0h-13.0z"/><path d="M410.8,1214.4l6.5,13.0h-13.0z"/><path d="M417.9,1214.4l6.5,13.0h-13.0z"/><path d="M425.0,1214.4l6.5,13.0h-13.0z"/><path d="M401.1,1218.8l6.5,13.0h-13.0z"/><path d="M407.8,1218.8l6.5,13.0h-13.0z"/><path d="M414.4,1218.8l6.5,13.0h-13.0z"/><path d="M421.0,1218.8l6.5,13.0h-13.0z"/><path d="M427.6,1218.8l6.5,13.0h-13.0z"/><path d="M431.6,1222.8l6.5,13.0h-13.0z"/><path d="M433.6,1222.8l6.5,13.0h-13.0z"/><path d="M403.1,1229.4l6.5,13.0h-13.0z"/><path d="M409.3,1229.4l6.5,13.0h-13.0z"/><path d="M415.4,1229.4l6.5,13.0h-13.0z"/><path d="M421.5,1229.4l6.5,13.0h-13.0z"/><path d="M427.6,1229.4l6.5,13.0h-13.0z"/><path d="M414.6,1235.8l6.5,13.0h-13.0z"/><path d="M418.6,1235.8l6.5,13.0h-13.0z"/><path d="M422.6,1235.8l6.5,13.0h-13.0z"/><path d="M411.6,1241.8l6.5,13.0h-13.0z"/><path d="M418.6,1241.8l6.5,13.0h-13.0z"/><path d="M410.6,1255.8l6.5,13.0h-13.0z"/><path d="M417.6,1255.8l6.5,13.0h-13.0z"/><path d="M424.6,1255.8l6.5,13.0h-13.0z"/><path d="M409.6,1259.8l6.5,13.0h-13.0z"/><path d="M415.1,1259.8l6.5,13.0h-13.0z"/><path d="M420.6,1259.8l6.5,13.0h-13.0z"/><path d="M415.6,1271.8l6.5,13.0h-13.0z"/><path d="M422.6,1271.8l6.5,13.0h-13.0z"/><path d="M411.6,1277.9l6.5,13.0h-13.0z"/><path d="M418.6,1277.9l6.5,13.0h-13.0z"/><path d="M417.1,1286.9l6.5,13.0h-13.0z"/><path d="M415.6,1296.9l6.5,13.0h-13.0z"/><path d="M418.6,1296.9l6.5,13.0h-13.0z"/><path d="M417.1,1040.1l6.5,13.0h-13.0z"/></g>
<line x1="479.55" y1="1247.71" x2="542.64" y2="1247.71" stroke="#D9D9D9" stroke-width="4.4" stroke-linecap="butt"/>
<g fill="#FF8000"><path d="M510.7,1155.1l6.5,-13.0h-13.0z"/><path d="M510.7,1155.1l6.5,-13.0h-13.0z"/><path d="M508.7,1158.7l6.5,-13.0h-13.0z"/><path d="M513.1,1158.7l6.5,-13.0h-13.0z"/><path d="M506.1,1169.7l6.5,-13.0h-13.0z"/><path d="M507.7,1169.7l6.5,-13.0h-13.0z"/><path d="M511.7,1172.7l6.5,-13.0h-13.0z"/><path d="M515.7,1172.7l6.5,-13.0h-13.0z"/><path d="M508.7,1187.7l6.5,-13.0h-13.0z"/><path d="M513.1,1187.7l6.5,-13.0h-13.0z"/><path d="M511.2,1198.7l6.5,-13.0h-13.0z"/><path d="M504.7,1210.1l6.5,-13.0h-13.0z"/><path d="M510.7,1210.1l6.5,-13.0h-13.0z"/><path d="M516.7,1210.1l6.5,-13.0h-13.0z"/><path d="M522.7,1210.1l6.5,-13.0h-13.0z"/><path d="M494.1,1214.8l6.5,-13.0h-13.0z"/><path d="M500.8,1214.8l6.5,-13.0h-13.0z"/><path d="M507.5,1214.8l6.5,-13.0h-13.0z"/><path d="M514.3,1214.8l6.5,-13.0h-13.0z"/><path d="M521.0,1214.8l6.5,-13.0h-13.0z"/><path d="M527.7,1214.8l6.5,-13.0h-13.0z"/><path d="M502.3,1218.3l6.5,-13.0h-13.0z"/><path d="M509.2,1218.3l6.5,-13.0h-13.0z"/><path d="M516.1,1218.3l6.5,-13.0h-13.0z"/><path d="M499.7,1221.8l6.5,-13.0h-13.0z"/><path d="M506.0,1221.8l6.5,-13.0h-13.0z"/><path d="M512.4,1221.8l6.5,-13.0h-13.0z"/><path d="M518.7,1221.8l6.5,-13.0h-13.0z"/><path d="M505.3,1226.3l6.5,-13.0h-13.0z"/><path d="M510.7,1226.3l6.5,-13.0h-13.0z"/><path d="M516.1,1226.3l6.5,-13.0h-13.0z"/><path d="M502.7,1230.8l6.5,-13.0h-13.0z"/><path d="M508.4,1230.8l6.5,-13.0h-13.0z"/><path d="M514.0,1230.8l6.5,-13.0h-13.0z"/><path d="M519.7,1230.8l6.5,-13.0h-13.0z"/><path d="M505.3,1234.3l6.5,-13.0h-13.0z"/><path d="M511.2,1234.3l6.5,-13.0h-13.0z"/><path d="M517.1,1234.3l6.5,-13.0h-13.0z"/><path d="M484.7,1237.8l6.5,-13.0h-13.0z"/><path d="M490.9,1237.8l6.5,-13.0h-13.0z"/><path d="M497.2,1237.8l6.5,-13.0h-13.0z"/><path d="M503.5,1237.8l6.5,-13.0h-13.0z"/><path d="M509.8,1237.8l6.5,-13.0h-13.0z"/><path d="M516.1,1237.8l6.5,-13.0h-13.0z"/><path d="M522.4,1237.8l6.5,-13.0h-13.0z"/><path d="M528.7,1237.8l6.5,-13.0h-13.0z"/><path d="M487.7,1241.8l6.5,-13.0h-13.0z"/><path d="M494.7,1241.8l6.5,-13.0h-13.0z"/><path d="M501.8,1241.8l6.5,-13.0h-13.0z"/><path d="M508.9,1241.8l6.5,-13.0h-13.0z"/><path d="M515.9,1241.8l6.5,-13.0h-13.0z"/><path d="M523.0,1241.8l6.5,-13.0h-13.0z"/><path d="M530.1,1241.8l6.5,-13.0h-13.0z"/><path d="M537.1,1241.8l6.5,-13.0h-13.0z"/><path d="M496.3,1245.3l6.5,-13.0h-13.0z"/><path d="M502.2,1245.3l6.5,-13.0h-13.0z"/><path d="M508.2,1245.3l6.5,-13.0h-13.0z"/><path d="M514.2,1245.3l6.5,-13.0h-13.0z"/><path d="M520.2,1245.3l6.5,-13.0h-13.0z"/><path d="M526.1,1245.3l6.5,-13.0h-13.0z"/><path d="M493.7,1248.8l6.5,-13.0h-13.0z"/><path d="M500.7,1248.8l6.5,-13.0h-13.0z"/><path d="M507.7,1248.8l6.5,-13.0h-13.0z"/><path d="M514.7,1248.8l6.5,-13.0h-13.0z"/><path d="M521.7,1248.8l6.5,-13.0h-13.0z"/><path d="M528.7,1248.8l6.5,-13.0h-13.0z"/><path d="M502.3,1252.8l6.5,-13.0h-13.0z"/><path d="M507.6,1252.8l6.5,-13.0h-13.0z"/><path d="M512.8,1252.8l6.5,-13.0h-13.0z"/><path d="M518.1,1252.8l6.5,-13.0h-13.0z"/><path d="M499.7,1256.8l6.5,-13.0h-13.0z"/><path d="M506.7,1256.8l6.5,-13.0h-13.0z"/><path d="M513.7,1256.8l6.5,-13.0h-13.0z"/><path d="M520.7,1256.8l6.5,-13.0h-13.0z"/><path d="M502.3,1260.5l6.5,-13.0h-13.0z"/><path d="M507.6,1260.5l6.5,-13.0h-13.0z"/><path d="M512.8,1260.5l6.5,-13.0h-13.0z"/><path d="M518.1,1260.5l6.5,-13.0h-13.0z"/><path d="M502.3,1264.2l6.5,-13.0h-13.0z"/><path d="M507.6,1264.2l6.5,-13.0h-13.0z"/><path d="M512.8,1264.2l6.5,-13.0h-13.0z"/><path d="M518.1,1264.2l6.5,-13.0h-13.0z"/><path d="M490.7,1267.8l6.5,-13.0h-13.0z"/><path d="M497.5,1267.8l6.5,-13.0h-13.0z"/><path d="M504.3,1267.8l6.5,-13.0h-13.0z"/><path d="M511.1,1267.8l6.5,-13.0h-13.0z"/><path d="M517.9,1267.8l6.5,-13.0h-13.0z"/><path d="M524.7,1267.8l6.5,-13.0h-13.0z"/><path d="M495.7,1270.8l6.5,-13.0h-13.0z"/><path d="M501.7,1270.8l6.5,-13.0h-13.0z"/><path d="M507.7,1270.8l6.5,-13.0h-13.0z"/><path d="M513.7,1270.8l6.5,-13.0h-13.0z"/><path d="M519.7,1270.8l6.5,-13.0h-13.0z"/><path d="M525.7,1270.8l6.5,-13.0h-13.0z"/><path d="M531.7,1270.8l6.5,-13.0h-13.0z"/><path d="M508.3,1275.3l6.5,-13.0h-13.0z"/><path d="M514.1,1275.3l6.5,-13.0h-13.0z"/><path d="M505.7,1279.8l6.5,-13.0h-13.0z"/><path d="M511.2,1279.8l6.5,-13.0h-13.0z"/><path d="M516.7,1279.8l6.5,-13.0h-13.0z"/><path d="M507.7,1286.8l6.5,-13.0h-13.0z"/><path d="M514.7,1286.8l6.5,-13.0h-13.0z"/><path d="M505.7,1298.9l6.5,-13.0h-13.0z"/><path d="M511.2,1298.9l6.5,-13.0h-13.0z"/><path d="M516.7,1298.9l6.5,-13.0h-13.0z"/><path d="M502.7,1301.9l6.5,-13.0h-13.0z"/><path d="M508.0,1301.9l6.5,-13.0h-13.0z"/><path d="M513.4,1301.9l6.5,-13.0h-13.0z"/><path d="M518.7,1301.9l6.5,-13.0h-13.0z"/><path d="M505.3,1306.9l6.5,-13.0h-13.0z"/><path d="M510.7,1306.9l6.5,-13.0h-13.0z"/><path d="M516.1,1306.9l6.5,-13.0h-13.0z"/><path d="M501.7,1311.9l6.5,-13.0h-13.0z"/><path d="M507.7,1311.9l6.5,-13.0h-13.0z"/><path d="M513.7,1311.9l6.5,-13.0h-13.0z"/><path d="M519.7,1311.9l6.5,-13.0h-13.0z"/><path d="M502.5,1315.7l6.5,-13.0h-13.0z"/><path d="M508.4,1315.7l6.5,-13.0h-13.0z"/><path d="M514.2,1315.7l6.5,-13.0h-13.0z"/><path d="M520.1,1315.7l6.5,-13.0h-13.0z"/><path d="M506.3,1320.3l6.5,-13.0h-13.0z"/><path d="M510.7,1320.3l6.5,-13.0h-13.0z"/><path d="M515.1,1320.3l6.5,-13.0h-13.0z"/><path d="M503.7,1324.9l6.5,-13.0h-13.0z"/><path d="M510.7,1324.9l6.5,-13.0h-13.0z"/><path d="M517.7,1324.9l6.5,-13.0h-13.0z"/><path d="M507.5,1329.2l6.5,-13.0h-13.0z"/><path d="M512.3,1329.2l6.5,-13.0h-13.0z"/><path d="M504.9,1333.5l6.5,-13.0h-13.0z"/><path d="M509.9,1333.5l6.5,-13.0h-13.0z"/><path d="M514.9,1333.5l6.5,-13.0h-13.0z"/><path d="M507.5,1343.7l6.5,-13.0h-13.0z"/><path d="M512.5,1343.7l6.5,-13.0h-13.0z"/><path d="M510.7,1353.9l6.5,-13.0h-13.0z"/><path d="M510.7,1353.9l6.5,-13.0h-13.0z"/><path d="M510.8,1132.0l6.5,-13.0h-13.0z"/></g>
<line x1="167.10" y1="960.15" x2="167.10" y2="1371.05" stroke="#000" stroke-width="4.1" stroke-linecap="butt"/>
<line x1="148.40" y1="1369.00" x2="575.80" y2="1369.00" stroke="#000" stroke-width="4.1" stroke-linecap="butt"/>
<line x1="148.40" y1="962.20" x2="167.10" y2="962.20" stroke="#000" stroke-width="4.1" stroke-linecap="butt"/>
<line x1="148.40" y1="1097.80" x2="167.10" y2="1097.80" stroke="#000" stroke-width="4.1" stroke-linecap="butt"/>
<line x1="148.40" y1="1233.40" x2="167.10" y2="1233.40" stroke="#000" stroke-width="4.1" stroke-linecap="butt"/>
<line x1="229.20" y1="1369.00" x2="229.20" y2="1387.30" stroke="#000" stroke-width="4.1" stroke-linecap="butt"/>
<line x1="323.10" y1="1369.00" x2="323.10" y2="1387.30" stroke="#000" stroke-width="4.1" stroke-linecap="butt"/>
<line x1="417.00" y1="1369.00" x2="417.00" y2="1387.30" stroke="#000" stroke-width="4.1" stroke-linecap="butt"/>
<line x1="510.80" y1="1369.00" x2="510.80" y2="1387.30" stroke="#000" stroke-width="4.1" stroke-linecap="butt"/>
<text transform="translate(74.81,973.80) scale(1,1.0450)" font-family='"Liberation Sans", Arial, sans-serif' font-weight="bold" font-size="31.00">3000</text>
<text transform="translate(74.81,1109.40) scale(1,1.0450)" font-family='"Liberation Sans", Arial, sans-serif' font-weight="bold" font-size="31.00">2500</text>
<text transform="translate(74.81,1245.00) scale(1,1.0450)" font-family='"Liberation Sans", Arial, sans-serif' font-weight="bold" font-size="31.00">2000</text>
<text transform="translate(74.81,1380.60) scale(1,1.0450)" font-family='"Liberation Sans", Arial, sans-serif' font-weight="bold" font-size="31.00">1500</text>
<text transform="translate(218.01,1420.80) scale(1,1.0600)" font-family='"Liberation Sans", Arial, sans-serif' font-weight="bold" font-size="31.00">A</text>
<text transform="translate(311.91,1420.80) scale(1,1.0600)" font-family='"Liberation Sans", Arial, sans-serif' font-weight="bold" font-size="31.00">B</text>
<text transform="translate(405.81,1420.80) scale(1,1.0600)" font-family='"Liberation Sans", Arial, sans-serif' font-weight="bold" font-size="31.00">C</text>
<text transform="translate(499.61,1420.80) scale(1,1.0600)" font-family='"Liberation Sans", Arial, sans-serif' font-weight="bold" font-size="31.00">D</text>
<text transform="translate(342.96,1468.00) scale(1,1.0500)" font-family='"Liberation Sans", Arial, sans-serif' font-weight="normal" font-size="37.00" letter-spacing="1.93">(D)</text>
<text transform="translate(287.05,901.90) scale(1,1.0300)" font-family='"Liberation Serif", "Times New Roman", serif' font-weight="bold" font-size="30.94">C+dp/dtmax</text>
<text transform="translate(22.00,1326.00) rotate(-90)" x="-0.45" y="0" font-family='"Liberation Serif", "Times New Roman", serif' font-weight="bold" font-size="27.21">Maximum rate of coronary</text>
<text transform="translate(51.60,1244.50) rotate(-90)" x="-0.37" y="0" font-family='"Liberation Serif", "Times New Roman", serif' font-weight="bold" font-size="27.40" word-spacing="6.123">pressure rise</text>
<path d="M320.80,970.70 V958.40 H508.00 V1109.60" fill="none" stroke="#000" stroke-width="4.1" stroke-linejoin="round" stroke-linecap="butt"/>
<path d="M229.70,1017.50 V1010.10 H414.70 V1037.50" fill="none" stroke="#000" stroke-width="4.1" stroke-linejoin="round" stroke-linecap="butt"/>
<text transform="translate(385.33,947.25) scale(0.9011,1)" font-family='"DejaVu Sans", "Liberation Sans", sans-serif' font-weight="bold" font-size="25.90" letter-spacing="3.61">***</text>
<text transform="translate(313.45,998.29) scale(0.9082,1)" font-family='"DejaVu Sans", "Liberation Sans", sans-serif' font-weight="bold" font-size="24.60" letter-spacing="0.00">*</text>
<!-- panel E -->
<g fill="#A80AE0"><circle cx="925.8" cy="1059.1" r="6.40"/><circle cx="929.5" cy="1065.1" r="6.40"/><circle cx="930.3" cy="1065.1" r="6.40"/><circle cx="921.5" cy="1071.7" r="6.40"/><circle cx="925.1" cy="1071.7" r="6.40"/><circle cx="928.7" cy="1071.7" r="6.40"/><circle cx="923.9" cy="1079.1" r="6.40"/><circle cx="927.7" cy="1079.1" r="6.40"/><circle cx="924.5" cy="1087.1" r="6.40"/><circle cx="926.7" cy="1087.1" r="6.40"/><circle cx="918.4" cy="1091.5" r="6.40"/><circle cx="923.9" cy="1091.5" r="6.40"/><circle cx="929.3" cy="1091.5" r="6.40"/><circle cx="934.7" cy="1091.5" r="6.40"/><circle cx="921.0" cy="1095.3" r="6.40"/><circle cx="926.1" cy="1095.3" r="6.40"/><circle cx="916.4" cy="1099.1" r="6.40"/><circle cx="922.6" cy="1099.1" r="6.40"/><circle cx="928.7" cy="1099.1" r="6.40"/><circle cx="920.0" cy="1102.8" r="6.40"/><circle cx="926.1" cy="1102.8" r="6.40"/><circle cx="920.0" cy="1106.5" r="6.40"/><circle cx="926.1" cy="1106.5" r="6.40"/><circle cx="917.4" cy="1110.2" r="6.40"/><circle cx="923.1" cy="1110.2" r="6.40"/><circle cx="928.7" cy="1110.2" r="6.40"/><circle cx="934.3" cy="1110.2" r="6.40"/><circle cx="920.0" cy="1115.2" r="6.40"/><circle cx="925.1" cy="1115.2" r="6.40"/><circle cx="930.1" cy="1115.2" r="6.40"/><circle cx="916.4" cy="1120.2" r="6.40"/><circle cx="921.9" cy="1120.2" r="6.40"/><circle cx="927.3" cy="1120.2" r="6.40"/><circle cx="932.7" cy="1120.2" r="6.40"/><circle cx="919.0" cy="1123.2" r="6.40"/><circle cx="924.6" cy="1123.2" r="6.40"/><circle cx="930.1" cy="1123.2" r="6.40"/><circle cx="907.4" cy="1126.2" r="6.40"/><circle cx="913.7" cy="1126.2" r="6.40"/><circle cx="919.9" cy="1126.2" r="6.40"/><circle cx="926.2" cy="1126.2" r="6.40"/><circle cx="932.4" cy="1126.2" r="6.40"/><circle cx="938.7" cy="1126.2" r="6.40"/><circle cx="910.0" cy="1129.0" r="6.40"/><circle cx="916.5" cy="1129.0" r="6.40"/><circle cx="923.1" cy="1129.0" r="6.40"/><circle cx="929.6" cy="1129.0" r="6.40"/><circle cx="936.1" cy="1129.0" r="6.40"/><circle cx="899.4" cy="1131.8" r="6.40"/><circle cx="906.0" cy="1131.8" r="6.40"/><circle cx="912.6" cy="1131.8" r="6.40"/><circle cx="919.3" cy="1131.8" r="6.40"/><circle cx="925.9" cy="1131.8" r="6.40"/><circle cx="932.5" cy="1131.8" r="6.40"/><circle cx="939.1" cy="1131.8" r="6.40"/><circle cx="945.7" cy="1131.8" r="6.40"/><circle cx="952.3" cy="1131.8" r="6.40"/><circle cx="924.5" cy="1139.2" r="6.40"/><circle cx="926.7" cy="1139.2" r="6.40"/><circle cx="916.4" cy="1145.2" r="6.40"/><circle cx="922.5" cy="1145.2" r="6.40"/><circle cx="928.6" cy="1145.2" r="6.40"/><circle cx="934.7" cy="1145.2" r="6.40"/><circle cx="919.0" cy="1148.9" r="6.40"/><circle cx="925.6" cy="1148.9" r="6.40"/><circle cx="932.1" cy="1148.9" r="6.40"/><circle cx="914.4" cy="1152.6" r="6.40"/><circle cx="920.0" cy="1152.6" r="6.40"/><circle cx="925.6" cy="1152.6" r="6.40"/><circle cx="931.1" cy="1152.6" r="6.40"/><circle cx="936.7" cy="1152.6" r="6.40"/><circle cx="920.0" cy="1155.9" r="6.40"/><circle cx="925.1" cy="1155.9" r="6.40"/><circle cx="930.1" cy="1155.9" r="6.40"/><circle cx="917.4" cy="1159.2" r="6.40"/><circle cx="922.5" cy="1159.2" r="6.40"/><circle cx="927.6" cy="1159.2" r="6.40"/><circle cx="932.7" cy="1159.2" r="6.40"/><circle cx="920.0" cy="1162.9" r="6.40"/><circle cx="925.1" cy="1162.9" r="6.40"/><circle cx="930.1" cy="1162.9" r="6.40"/><circle cx="916.4" cy="1166.6" r="6.40"/><circle cx="922.5" cy="1166.6" r="6.40"/><circle cx="928.6" cy="1166.6" r="6.40"/><circle cx="934.7" cy="1166.6" r="6.40"/><circle cx="921.5" cy="1175.2" r="6.40"/><circle cx="925.6" cy="1175.2" r="6.40"/><circle cx="929.7" cy="1175.2" r="6.40"/><circle cx="923.1" cy="1185.3" r="6.40"/><circle cx="928.3" cy="1185.3" r="6.40"/><circle cx="926.5" cy="1195.3" r="6.40"/><circle cx="926.7" cy="1195.3" r="6.40"/><circle cx="922.1" cy="1206.9" r="6.40"/><circle cx="925.7" cy="1206.9" r="6.40"/><circle cx="929.3" cy="1206.9" r="6.40"/><circle cx="925.7" cy="1018.4" r="6.40"/><circle cx="925.7" cy="1033.5" r="6.40"/><circle cx="925.7" cy="1045.1" r="6.40"/></g>
<line x1="987.55" y1="1143.20" x2="1051.24" y2="1143.20" stroke="#D9D9D9" stroke-width="4.4" stroke-linecap="butt"/>
<g fill="#559FFA"><rect x="1012.6" y="1011.0" width="12.8" height="12.8"/><rect x="1012.6" y="1018.2" width="12.8" height="12.8"/><rect x="1010.2" y="1032.7" width="12.8" height="12.8"/><rect x="1014.8" y="1032.7" width="12.8" height="12.8"/><rect x="1011.6" y="1041.7" width="12.8" height="12.8"/><rect x="1013.4" y="1041.7" width="12.8" height="12.8"/><rect x="1012.6" y="1048.1" width="12.8" height="12.8"/><rect x="1012.6" y="1063.7" width="12.8" height="12.8"/><rect x="1012.8" y="1074.7" width="12.8" height="12.8"/><rect x="1016.0" y="1074.7" width="12.8" height="12.8"/><rect x="1007.2" y="1079.7" width="12.8" height="12.8"/><rect x="1012.6" y="1079.7" width="12.8" height="12.8"/><rect x="1018.0" y="1079.7" width="12.8" height="12.8"/><rect x="1008.2" y="1083.4" width="12.8" height="12.8"/><rect x="1013.1" y="1083.4" width="12.8" height="12.8"/><rect x="1018.0" y="1083.4" width="12.8" height="12.8"/><rect x="1008.2" y="1087.1" width="12.8" height="12.8"/><rect x="1013.1" y="1087.1" width="12.8" height="12.8"/><rect x="1018.0" y="1087.1" width="12.8" height="12.8"/><rect x="1008.2" y="1090.7" width="12.8" height="12.8"/><rect x="1013.3" y="1090.7" width="12.8" height="12.8"/><rect x="1018.4" y="1090.7" width="12.8" height="12.8"/><rect x="1008.2" y="1094.2" width="12.8" height="12.8"/><rect x="1013.1" y="1094.2" width="12.8" height="12.8"/><rect x="1018.0" y="1094.2" width="12.8" height="12.8"/><rect x="1008.2" y="1097.7" width="12.8" height="12.8"/><rect x="1013.1" y="1097.7" width="12.8" height="12.8"/><rect x="1018.0" y="1097.7" width="12.8" height="12.8"/><rect x="1008.2" y="1101.3" width="12.8" height="12.8"/><rect x="1013.1" y="1101.3" width="12.8" height="12.8"/><rect x="1018.0" y="1101.3" width="12.8" height="12.8"/><rect x="1002.8" y="1104.8" width="12.8" height="12.8"/><rect x="1009.2" y="1104.8" width="12.8" height="12.8"/><rect x="1015.6" y="1104.8" width="12.8" height="12.8"/><rect x="1022.0" y="1104.8" width="12.8" height="12.8"/><rect x="1005.2" y="1108.8" width="12.8" height="12.8"/><rect x="1010.8" y="1108.8" width="12.8" height="12.8"/><rect x="1016.4" y="1108.8" width="12.8" height="12.8"/><rect x="1022.0" y="1108.8" width="12.8" height="12.8"/><rect x="1005.2" y="1112.8" width="12.8" height="12.8"/><rect x="1010.8" y="1112.8" width="12.8" height="12.8"/><rect x="1016.4" y="1112.8" width="12.8" height="12.8"/><rect x="1022.0" y="1112.8" width="12.8" height="12.8"/><rect x="1005.2" y="1116.8" width="12.8" height="12.8"/><rect x="1011.3" y="1116.8" width="12.8" height="12.8"/><rect x="1017.3" y="1116.8" width="12.8" height="12.8"/><rect x="1023.4" y="1116.8" width="12.8" height="12.8"/><rect x="1005.2" y="1121.3" width="12.8" height="12.8"/><rect x="1011.3" y="1121.3" width="12.8" height="12.8"/><rect x="1017.3" y="1121.3" width="12.8" height="12.8"/><rect x="1023.4" y="1121.3" width="12.8" height="12.8"/><rect x="1001.6" y="1125.8" width="12.8" height="12.8"/><rect x="1007.4" y="1125.8" width="12.8" height="12.8"/><rect x="1013.2" y="1125.8" width="12.8" height="12.8"/><rect x="1019.0" y="1125.8" width="12.8" height="12.8"/><rect x="1024.8" y="1125.8" width="12.8" height="12.8"/><rect x="1001.6" y="1131.0" width="12.8" height="12.8"/><rect x="1007.4" y="1131.0" width="12.8" height="12.8"/><rect x="1013.2" y="1131.0" width="12.8" height="12.8"/><rect x="1019.0" y="1131.0" width="12.8" height="12.8"/><rect x="1024.8" y="1131.0" width="12.8" height="12.8"/><rect x="991.2" y="1136.2" width="12.8" height="12.8"/><rect x="997.9" y="1136.2" width="12.8" height="12.8"/><rect x="1004.6" y="1136.2" width="12.8" height="12.8"/><rect x="1011.4" y="1136.2" width="12.8" height="12.8"/><rect x="1018.1" y="1136.2" width="12.8" height="12.8"/><rect x="1024.8" y="1136.2" width="12.8" height="12.8"/><rect x="1033.2" y="1139.2" width="12.8" height="12.8"/><rect x="1039.4" y="1139.2" width="12.8" height="12.8"/><rect x="986.1" y="1144.8" width="12.8" height="12.8"/><rect x="993.0" y="1144.8" width="12.8" height="12.8"/><rect x="999.9" y="1144.8" width="12.8" height="12.8"/><rect x="1006.7" y="1144.8" width="12.8" height="12.8"/><rect x="1013.6" y="1144.8" width="12.8" height="12.8"/><rect x="1020.4" y="1144.8" width="12.8" height="12.8"/><rect x="987.2" y="1148.3" width="12.8" height="12.8"/><rect x="993.8" y="1148.3" width="12.8" height="12.8"/><rect x="1000.5" y="1148.3" width="12.8" height="12.8"/><rect x="1007.1" y="1148.3" width="12.8" height="12.8"/><rect x="1013.8" y="1148.3" width="12.8" height="12.8"/><rect x="1020.4" y="1148.3" width="12.8" height="12.8"/><rect x="987.2" y="1151.8" width="12.8" height="12.8"/><rect x="993.4" y="1151.8" width="12.8" height="12.8"/><rect x="999.6" y="1151.8" width="12.8" height="12.8"/><rect x="1005.8" y="1151.8" width="12.8" height="12.8"/><rect x="1012.0" y="1151.8" width="12.8" height="12.8"/><rect x="1018.2" y="1151.8" width="12.8" height="12.8"/><rect x="1024.4" y="1151.8" width="12.8" height="12.8"/><rect x="988.2" y="1155.1" width="12.8" height="12.8"/><rect x="994.2" y="1155.1" width="12.8" height="12.8"/><rect x="1000.2" y="1155.1" width="12.8" height="12.8"/><rect x="1006.3" y="1155.1" width="12.8" height="12.8"/><rect x="1012.3" y="1155.1" width="12.8" height="12.8"/><rect x="1018.4" y="1155.1" width="12.8" height="12.8"/><rect x="1024.4" y="1155.1" width="12.8" height="12.8"/><rect x="988.2" y="1158.4" width="12.8" height="12.8"/><rect x="994.3" y="1158.4" width="12.8" height="12.8"/><rect x="1000.5" y="1158.4" width="12.8" height="12.8"/><rect x="1006.6" y="1158.4" width="12.8" height="12.8"/><rect x="1012.8" y="1158.4" width="12.8" height="12.8"/><rect x="1019.0" y="1158.4" width="12.8" height="12.8"/><rect x="1025.1" y="1158.4" width="12.8" height="12.8"/><rect x="1031.3" y="1158.4" width="12.8" height="12.8"/><rect x="1037.4" y="1158.4" width="12.8" height="12.8"/><rect x="993.2" y="1160.8" width="12.8" height="12.8"/><rect x="999.0" y="1160.8" width="12.8" height="12.8"/><rect x="1004.9" y="1160.8" width="12.8" height="12.8"/><rect x="1010.7" y="1160.8" width="12.8" height="12.8"/><rect x="1016.6" y="1160.8" width="12.8" height="12.8"/><rect x="1022.4" y="1160.8" width="12.8" height="12.8"/><rect x="1003.2" y="1164.5" width="12.8" height="12.8"/><rect x="1008.6" y="1164.5" width="12.8" height="12.8"/><rect x="1014.0" y="1164.5" width="12.8" height="12.8"/><rect x="1019.4" y="1164.5" width="12.8" height="12.8"/><rect x="1003.2" y="1168.2" width="12.8" height="12.8"/><rect x="1008.6" y="1168.2" width="12.8" height="12.8"/><rect x="1014.0" y="1168.2" width="12.8" height="12.8"/><rect x="1019.4" y="1168.2" width="12.8" height="12.8"/><rect x="1003.2" y="1171.8" width="12.8" height="12.8"/><rect x="1008.6" y="1171.8" width="12.8" height="12.8"/><rect x="1014.0" y="1171.8" width="12.8" height="12.8"/><rect x="1019.4" y="1171.8" width="12.8" height="12.8"/><rect x="1003.2" y="1176.4" width="12.8" height="12.8"/><rect x="1008.6" y="1176.4" width="12.8" height="12.8"/><rect x="1014.0" y="1176.4" width="12.8" height="12.8"/><rect x="1019.4" y="1176.4" width="12.8" height="12.8"/><rect x="1002.2" y="1180.9" width="12.8" height="12.8"/><rect x="1007.6" y="1180.9" width="12.8" height="12.8"/><rect x="1013.1" y="1180.9" width="12.8" height="12.8"/><rect x="1018.6" y="1180.9" width="12.8" height="12.8"/><rect x="1024.0" y="1180.9" width="12.8" height="12.8"/><rect x="1005.2" y="1184.9" width="12.8" height="12.8"/><rect x="1011.8" y="1184.9" width="12.8" height="12.8"/><rect x="1018.4" y="1184.9" width="12.8" height="12.8"/><rect x="1005.2" y="1188.9" width="12.8" height="12.8"/><rect x="1011.8" y="1188.9" width="12.8" height="12.8"/><rect x="1018.4" y="1188.9" width="12.8" height="12.8"/><rect x="1005.2" y="1193.2" width="12.8" height="12.8"/><rect x="1011.8" y="1193.2" width="12.8" height="12.8"/><rect x="1018.4" y="1193.2" width="12.8" height="12.8"/><rect x="1005.2" y="1197.5" width="12.8" height="12.8"/><rect x="1011.8" y="1197.5" width="12.8" height="12.8"/><rect x="1018.4" y="1197.5" width="12.8" height="12.8"/><rect x="1002.8" y="1201.9" width="12.8" height="12.8"/><rect x="1009.2" y="1201.9" width="12.8" height="12.8"/><rect x="1015.6" y="1201.9" width="12.8" height="12.8"/><rect x="1022.0" y="1201.9" width="12.8" height="12.8"/><rect x="1013.8" y="1206.9" width="12.8" height="12.8"/></g>
<line x1="1080.03" y1="1158.17" x2="1143.71" y2="1158.17" stroke="#D9D9D9" stroke-width="4.4" stroke-linecap="butt"/>
<g fill="#43F0AF"><path d="M1112.1,1062.7l6.4,12.8h-12.8z"/><path d="M1112.1,1062.7l6.4,12.8h-12.8z"/><path d="M1112.3,1071.7l6.4,12.8h-12.8z"/><path d="M1107.5,1077.7l6.4,12.8h-12.8z"/><path d="M1112.1,1077.7l6.4,12.8h-12.8z"/><path d="M1116.7,1077.7l6.4,12.8h-12.8z"/><path d="M1110.9,1084.7l6.4,12.8h-12.8z"/><path d="M1113.3,1084.7l6.4,12.8h-12.8z"/><path d="M1108.9,1090.7l6.4,12.8h-12.8z"/><path d="M1114.7,1090.7l6.4,12.8h-12.8z"/><path d="M1105.1,1098.7l6.4,12.8h-12.8z"/><path d="M1109.9,1098.7l6.4,12.8h-12.8z"/><path d="M1114.8,1098.7l6.4,12.8h-12.8z"/><path d="M1119.7,1098.7l6.4,12.8h-12.8z"/><path d="M1109.5,1106.7l6.4,12.8h-12.8z"/><path d="M1114.7,1106.7l6.4,12.8h-12.8z"/><path d="M1107.5,1113.7l6.4,12.8h-12.8z"/><path d="M1112.1,1113.7l6.4,12.8h-12.8z"/><path d="M1116.7,1113.7l6.4,12.8h-12.8z"/><path d="M1110.0,1116.7l6.4,12.8h-12.8z"/><path d="M1114.1,1116.7l6.4,12.8h-12.8z"/><path d="M1103.4,1119.7l6.4,12.8h-12.8z"/><path d="M1109.2,1119.7l6.4,12.8h-12.8z"/><path d="M1114.9,1119.7l6.4,12.8h-12.8z"/><path d="M1120.7,1119.7l6.4,12.8h-12.8z"/><path d="M1106.0,1122.7l6.4,12.8h-12.8z"/><path d="M1112.1,1122.7l6.4,12.8h-12.8z"/><path d="M1118.1,1122.7l6.4,12.8h-12.8z"/><path d="M1098.4,1125.7l6.4,12.8h-12.8z"/><path d="M1105.0,1125.7l6.4,12.8h-12.8z"/><path d="M1111.6,1125.7l6.4,12.8h-12.8z"/><path d="M1118.1,1125.7l6.4,12.8h-12.8z"/><path d="M1124.7,1125.7l6.4,12.8h-12.8z"/><path d="M1101.0,1129.4l6.4,12.8h-12.8z"/><path d="M1106.3,1129.4l6.4,12.8h-12.8z"/><path d="M1111.6,1129.4l6.4,12.8h-12.8z"/><path d="M1116.9,1129.4l6.4,12.8h-12.8z"/><path d="M1122.1,1129.4l6.4,12.8h-12.8z"/><path d="M1101.0,1133.1l6.4,12.8h-12.8z"/><path d="M1106.3,1133.1l6.4,12.8h-12.8z"/><path d="M1111.6,1133.1l6.4,12.8h-12.8z"/><path d="M1116.9,1133.1l6.4,12.8h-12.8z"/><path d="M1122.1,1133.1l6.4,12.8h-12.8z"/><path d="M1087.4,1136.8l6.4,12.8h-12.8z"/><path d="M1093.6,1136.8l6.4,12.8h-12.8z"/><path d="M1099.7,1136.8l6.4,12.8h-12.8z"/><path d="M1105.9,1136.8l6.4,12.8h-12.8z"/><path d="M1112.1,1136.8l6.4,12.8h-12.8z"/><path d="M1118.2,1136.8l6.4,12.8h-12.8z"/><path d="M1124.4,1136.8l6.4,12.8h-12.8z"/><path d="M1130.6,1136.8l6.4,12.8h-12.8z"/><path d="M1136.7,1136.8l6.4,12.8h-12.8z"/><path d="M1090.0,1140.3l6.4,12.8h-12.8z"/><path d="M1097.0,1140.3l6.4,12.8h-12.8z"/><path d="M1104.0,1140.3l6.4,12.8h-12.8z"/><path d="M1111.1,1140.3l6.4,12.8h-12.8z"/><path d="M1118.1,1140.3l6.4,12.8h-12.8z"/><path d="M1125.1,1140.3l6.4,12.8h-12.8z"/><path d="M1132.1,1140.3l6.4,12.8h-12.8z"/><path d="M1087.4,1143.8l6.4,12.8h-12.8z"/><path d="M1094.2,1143.8l6.4,12.8h-12.8z"/><path d="M1100.9,1143.8l6.4,12.8h-12.8z"/><path d="M1107.7,1143.8l6.4,12.8h-12.8z"/><path d="M1114.4,1143.8l6.4,12.8h-12.8z"/><path d="M1121.2,1143.8l6.4,12.8h-12.8z"/><path d="M1128.0,1143.8l6.4,12.8h-12.8z"/><path d="M1134.7,1143.8l6.4,12.8h-12.8z"/><path d="M1090.0,1148.8l6.4,12.8h-12.8z"/><path d="M1097.0,1148.8l6.4,12.8h-12.8z"/><path d="M1104.0,1148.8l6.4,12.8h-12.8z"/><path d="M1111.1,1148.8l6.4,12.8h-12.8z"/><path d="M1118.1,1148.8l6.4,12.8h-12.8z"/><path d="M1125.1,1148.8l6.4,12.8h-12.8z"/><path d="M1132.1,1148.8l6.4,12.8h-12.8z"/><path d="M1085.4,1153.8l6.4,12.8h-12.8z"/><path d="M1092.1,1153.8l6.4,12.8h-12.8z"/><path d="M1098.7,1153.8l6.4,12.8h-12.8z"/><path d="M1105.4,1153.8l6.4,12.8h-12.8z"/><path d="M1112.1,1153.8l6.4,12.8h-12.8z"/><path d="M1118.7,1153.8l6.4,12.8h-12.8z"/><path d="M1125.4,1153.8l6.4,12.8h-12.8z"/><path d="M1132.1,1153.8l6.4,12.8h-12.8z"/><path d="M1138.7,1153.8l6.4,12.8h-12.8z"/><path d="M1093.0,1156.8l6.4,12.8h-12.8z"/><path d="M1099.4,1156.8l6.4,12.8h-12.8z"/><path d="M1105.7,1156.8l6.4,12.8h-12.8z"/><path d="M1112.1,1156.8l6.4,12.8h-12.8z"/><path d="M1118.4,1156.8l6.4,12.8h-12.8z"/><path d="M1124.8,1156.8l6.4,12.8h-12.8z"/><path d="M1131.1,1156.8l6.4,12.8h-12.8z"/><path d="M1090.4,1159.8l6.4,12.8h-12.8z"/><path d="M1096.6,1159.8l6.4,12.8h-12.8z"/><path d="M1102.8,1159.8l6.4,12.8h-12.8z"/><path d="M1109.0,1159.8l6.4,12.8h-12.8z"/><path d="M1115.2,1159.8l6.4,12.8h-12.8z"/><path d="M1121.3,1159.8l6.4,12.8h-12.8z"/><path d="M1127.5,1159.8l6.4,12.8h-12.8z"/><path d="M1133.7,1159.8l6.4,12.8h-12.8z"/><path d="M1096.0,1163.3l6.4,12.8h-12.8z"/><path d="M1102.4,1163.3l6.4,12.8h-12.8z"/><path d="M1108.9,1163.3l6.4,12.8h-12.8z"/><path d="M1115.3,1163.3l6.4,12.8h-12.8z"/><path d="M1121.7,1163.3l6.4,12.8h-12.8z"/><path d="M1128.1,1163.3l6.4,12.8h-12.8z"/><path d="M1093.4,1166.8l6.4,12.8h-12.8z"/><path d="M1099.6,1166.8l6.4,12.8h-12.8z"/><path d="M1105.9,1166.8l6.4,12.8h-12.8z"/><path d="M1112.1,1166.8l6.4,12.8h-12.8z"/><path d="M1118.3,1166.8l6.4,12.8h-12.8z"/><path d="M1124.5,1166.8l6.4,12.8h-12.8z"/><path d="M1130.7,1166.8l6.4,12.8h-12.8z"/><path d="M1099.0,1169.8l6.4,12.8h-12.8z"/><path d="M1105.5,1169.8l6.4,12.8h-12.8z"/><path d="M1112.1,1169.8l6.4,12.8h-12.8z"/><path d="M1118.6,1169.8l6.4,12.8h-12.8z"/><path d="M1125.1,1169.8l6.4,12.8h-12.8z"/><path d="M1096.4,1172.8l6.4,12.8h-12.8z"/><path d="M1102.7,1172.8l6.4,12.8h-12.8z"/><path d="M1108.9,1172.8l6.4,12.8h-12.8z"/><path d="M1115.2,1172.8l6.4,12.8h-12.8z"/><path d="M1121.4,1172.8l6.4,12.8h-12.8z"/><path d="M1127.7,1172.8l6.4,12.8h-12.8z"/><path d="M1101.0,1177.3l6.4,12.8h-12.8z"/><path d="M1106.6,1177.3l6.4,12.8h-12.8z"/><path d="M1112.3,1177.3l6.4,12.8h-12.8z"/><path d="M1117.9,1177.3l6.4,12.8h-12.8z"/><path d="M1123.5,1177.3l6.4,12.8h-12.8z"/><path d="M1098.4,1181.8l6.4,12.8h-12.8z"/><path d="M1105.4,1181.8l6.4,12.8h-12.8z"/><path d="M1112.3,1181.8l6.4,12.8h-12.8z"/><path d="M1119.2,1181.8l6.4,12.8h-12.8z"/><path d="M1126.1,1181.8l6.4,12.8h-12.8z"/><path d="M1101.0,1185.8l6.4,12.8h-12.8z"/><path d="M1106.5,1185.8l6.4,12.8h-12.8z"/><path d="M1112.1,1185.8l6.4,12.8h-12.8z"/><path d="M1117.6,1185.8l6.4,12.8h-12.8z"/><path d="M1123.1,1185.8l6.4,12.8h-12.8z"/><path d="M1101.0,1189.8l6.4,12.8h-12.8z"/><path d="M1106.5,1189.8l6.4,12.8h-12.8z"/><path d="M1112.1,1189.8l6.4,12.8h-12.8z"/><path d="M1117.6,1189.8l6.4,12.8h-12.8z"/><path d="M1123.1,1189.8l6.4,12.8h-12.8z"/><path d="M1098.4,1193.8l6.4,12.8h-12.8z"/><path d="M1105.3,1193.8l6.4,12.8h-12.8z"/><path d="M1112.1,1193.8l6.4,12.8h-12.8z"/><path d="M1118.9,1193.8l6.4,12.8h-12.8z"/><path d="M1125.7,1193.8l6.4,12.8h-12.8z"/><path d="M1106.1,1198.8l6.4,12.8h-12.8z"/><path d="M1111.9,1198.8l6.4,12.8h-12.8z"/><path d="M1117.7,1198.8l6.4,12.8h-12.8z"/><path d="M1109.5,1206.8l6.4,12.8h-12.8z"/><path d="M1114.7,1206.8l6.4,12.8h-12.8z"/><path d="M1107.5,1213.9l6.4,12.8h-12.8z"/><path d="M1112.1,1213.9l6.4,12.8h-12.8z"/><path d="M1116.7,1213.9l6.4,12.8h-12.8z"/><path d="M1113.5,1216.9l6.4,12.8h-12.8z"/><path d="M1113.7,1216.9l6.4,12.8h-12.8z"/><path d="M1110.5,1230.9l6.4,12.8h-12.8z"/><path d="M1113.3,1230.9l6.4,12.8h-12.8z"/></g>
<line x1="1174.55" y1="1169.79" x2="1237.24" y2="1169.79" stroke="#D9D9D9" stroke-width="4.4" stroke-linecap="butt"/>
<g fill="#FF8000"><path d="M1205.5,1103.9l6.4,-12.8h-12.8z"/><path d="M1198.6,1117.9l6.4,-12.8h-12.8z"/><path d="M1205.2,1117.9l6.4,-12.8h-12.8z"/><path d="M1211.8,1117.9l6.4,-12.8h-12.8z"/><path d="M1201.1,1121.7l6.4,-12.8h-12.8z"/><path d="M1205.2,1121.7l6.4,-12.8h-12.8z"/><path d="M1209.3,1121.7l6.4,-12.8h-12.8z"/><path d="M1190.2,1125.5l6.4,-12.8h-12.8z"/><path d="M1196.3,1125.5l6.4,-12.8h-12.8z"/><path d="M1202.4,1125.5l6.4,-12.8h-12.8z"/><path d="M1208.6,1125.5l6.4,-12.8h-12.8z"/><path d="M1214.7,1125.5l6.4,-12.8h-12.8z"/><path d="M1220.8,1125.5l6.4,-12.8h-12.8z"/><path d="M1197.1,1129.0l6.4,-12.8h-12.8z"/><path d="M1203.8,1129.0l6.4,-12.8h-12.8z"/><path d="M1210.6,1129.0l6.4,-12.8h-12.8z"/><path d="M1217.3,1129.0l6.4,-12.8h-12.8z"/><path d="M1194.6,1132.5l6.4,-12.8h-12.8z"/><path d="M1200.9,1132.5l6.4,-12.8h-12.8z"/><path d="M1207.2,1132.5l6.4,-12.8h-12.8z"/><path d="M1213.5,1132.5l6.4,-12.8h-12.8z"/><path d="M1219.8,1132.5l6.4,-12.8h-12.8z"/><path d="M1197.1,1136.5l6.4,-12.8h-12.8z"/><path d="M1203.8,1136.5l6.4,-12.8h-12.8z"/><path d="M1210.6,1136.5l6.4,-12.8h-12.8z"/><path d="M1217.3,1136.5l6.4,-12.8h-12.8z"/><path d="M1186.6,1140.5l6.4,-12.8h-12.8z"/><path d="M1192.4,1140.5l6.4,-12.8h-12.8z"/><path d="M1198.3,1140.5l6.4,-12.8h-12.8z"/><path d="M1204.2,1140.5l6.4,-12.8h-12.8z"/><path d="M1210.1,1140.5l6.4,-12.8h-12.8z"/><path d="M1215.9,1140.5l6.4,-12.8h-12.8z"/><path d="M1221.8,1140.5l6.4,-12.8h-12.8z"/><path d="M1181.0,1144.5l6.4,-12.8h-12.8z"/><path d="M1187.9,1144.5l6.4,-12.8h-12.8z"/><path d="M1194.9,1144.5l6.4,-12.8h-12.8z"/><path d="M1201.9,1144.5l6.4,-12.8h-12.8z"/><path d="M1208.9,1144.5l6.4,-12.8h-12.8z"/><path d="M1215.9,1144.5l6.4,-12.8h-12.8z"/><path d="M1222.9,1144.5l6.4,-12.8h-12.8z"/><path d="M1229.8,1144.5l6.4,-12.8h-12.8z"/><path d="M1189.1,1148.0l6.4,-12.8h-12.8z"/><path d="M1196.0,1148.0l6.4,-12.8h-12.8z"/><path d="M1202.8,1148.0l6.4,-12.8h-12.8z"/><path d="M1209.6,1148.0l6.4,-12.8h-12.8z"/><path d="M1216.4,1148.0l6.4,-12.8h-12.8z"/><path d="M1223.3,1148.0l6.4,-12.8h-12.8z"/><path d="M1186.6,1151.6l6.4,-12.8h-12.8z"/><path d="M1193.1,1151.6l6.4,-12.8h-12.8z"/><path d="M1199.7,1151.6l6.4,-12.8h-12.8z"/><path d="M1206.2,1151.6l6.4,-12.8h-12.8z"/><path d="M1212.7,1151.6l6.4,-12.8h-12.8z"/><path d="M1219.3,1151.6l6.4,-12.8h-12.8z"/><path d="M1225.8,1151.6l6.4,-12.8h-12.8z"/><path d="M1189.1,1155.1l6.4,-12.8h-12.8z"/><path d="M1196.0,1155.1l6.4,-12.8h-12.8z"/><path d="M1202.8,1155.1l6.4,-12.8h-12.8z"/><path d="M1209.6,1155.1l6.4,-12.8h-12.8z"/><path d="M1216.4,1155.1l6.4,-12.8h-12.8z"/><path d="M1223.3,1155.1l6.4,-12.8h-12.8z"/><path d="M1183.0,1158.6l6.4,-12.8h-12.8z"/><path d="M1189.5,1158.6l6.4,-12.8h-12.8z"/><path d="M1196.0,1158.6l6.4,-12.8h-12.8z"/><path d="M1202.4,1158.6l6.4,-12.8h-12.8z"/><path d="M1208.9,1158.6l6.4,-12.8h-12.8z"/><path d="M1215.4,1158.6l6.4,-12.8h-12.8z"/><path d="M1221.9,1158.6l6.4,-12.8h-12.8z"/><path d="M1228.4,1158.6l6.4,-12.8h-12.8z"/><path d="M1189.1,1162.6l6.4,-12.8h-12.8z"/><path d="M1195.8,1162.6l6.4,-12.8h-12.8z"/><path d="M1202.4,1162.6l6.4,-12.8h-12.8z"/><path d="M1209.0,1162.6l6.4,-12.8h-12.8z"/><path d="M1215.6,1162.6l6.4,-12.8h-12.8z"/><path d="M1222.3,1162.6l6.4,-12.8h-12.8z"/><path d="M1186.6,1166.6l6.4,-12.8h-12.8z"/><path d="M1192.9,1166.6l6.4,-12.8h-12.8z"/><path d="M1199.3,1166.6l6.4,-12.8h-12.8z"/><path d="M1205.7,1166.6l6.4,-12.8h-12.8z"/><path d="M1212.1,1166.6l6.4,-12.8h-12.8z"/><path d="M1218.5,1166.6l6.4,-12.8h-12.8z"/><path d="M1224.8,1166.6l6.4,-12.8h-12.8z"/><path d="M1193.1,1170.6l6.4,-12.8h-12.8z"/><path d="M1199.7,1170.6l6.4,-12.8h-12.8z"/><path d="M1206.2,1170.6l6.4,-12.8h-12.8z"/><path d="M1212.7,1170.6l6.4,-12.8h-12.8z"/><path d="M1219.3,1170.6l6.4,-12.8h-12.8z"/><path d="M1190.6,1174.6l6.4,-12.8h-12.8z"/><path d="M1196.8,1174.6l6.4,-12.8h-12.8z"/><path d="M1203.1,1174.6l6.4,-12.8h-12.8z"/><path d="M1209.3,1174.6l6.4,-12.8h-12.8z"/><path d="M1215.6,1174.6l6.4,-12.8h-12.8z"/><path d="M1221.8,1174.6l6.4,-12.8h-12.8z"/><path d="M1193.1,1178.6l6.4,-12.8h-12.8z"/><path d="M1199.4,1178.6l6.4,-12.8h-12.8z"/><path d="M1205.7,1178.6l6.4,-12.8h-12.8z"/><path d="M1212.0,1178.6l6.4,-12.8h-12.8z"/><path d="M1218.3,1178.6l6.4,-12.8h-12.8z"/><path d="M1188.2,1182.6l6.4,-12.8h-12.8z"/><path d="M1194.7,1182.6l6.4,-12.8h-12.8z"/><path d="M1201.2,1182.6l6.4,-12.8h-12.8z"/><path d="M1207.8,1182.6l6.4,-12.8h-12.8z"/><path d="M1214.3,1182.6l6.4,-12.8h-12.8z"/><path d="M1220.8,1182.6l6.4,-12.8h-12.8z"/><path d="M1190.7,1187.1l6.4,-12.8h-12.8z"/><path d="M1197.6,1187.1l6.4,-12.8h-12.8z"/><path d="M1204.5,1187.1l6.4,-12.8h-12.8z"/><path d="M1211.4,1187.1l6.4,-12.8h-12.8z"/><path d="M1218.3,1187.1l6.4,-12.8h-12.8z"/><path d="M1186.2,1191.6l6.4,-12.8h-12.8z"/><path d="M1192.6,1191.6l6.4,-12.8h-12.8z"/><path d="M1199.1,1191.6l6.4,-12.8h-12.8z"/><path d="M1205.5,1191.6l6.4,-12.8h-12.8z"/><path d="M1211.9,1191.6l6.4,-12.8h-12.8z"/><path d="M1218.4,1191.6l6.4,-12.8h-12.8z"/><path d="M1224.8,1191.6l6.4,-12.8h-12.8z"/><path d="M1193.1,1195.1l6.4,-12.8h-12.8z"/><path d="M1199.2,1195.1l6.4,-12.8h-12.8z"/><path d="M1205.2,1195.1l6.4,-12.8h-12.8z"/><path d="M1211.2,1195.1l6.4,-12.8h-12.8z"/><path d="M1217.3,1195.1l6.4,-12.8h-12.8z"/><path d="M1190.6,1198.6l6.4,-12.8h-12.8z"/><path d="M1196.4,1198.6l6.4,-12.8h-12.8z"/><path d="M1202.3,1198.6l6.4,-12.8h-12.8z"/><path d="M1208.1,1198.6l6.4,-12.8h-12.8z"/><path d="M1214.0,1198.6l6.4,-12.8h-12.8z"/><path d="M1219.8,1198.6l6.4,-12.8h-12.8z"/><path d="M1193.1,1202.1l6.4,-12.8h-12.8z"/><path d="M1199.2,1202.1l6.4,-12.8h-12.8z"/><path d="M1205.2,1202.1l6.4,-12.8h-12.8z"/><path d="M1211.2,1202.1l6.4,-12.8h-12.8z"/><path d="M1217.3,1202.1l6.4,-12.8h-12.8z"/><path d="M1189.6,1205.6l6.4,-12.8h-12.8z"/><path d="M1195.9,1205.6l6.4,-12.8h-12.8z"/><path d="M1202.3,1205.6l6.4,-12.8h-12.8z"/><path d="M1208.7,1205.6l6.4,-12.8h-12.8z"/><path d="M1215.1,1205.6l6.4,-12.8h-12.8z"/><path d="M1221.4,1205.6l6.4,-12.8h-12.8z"/><path d="M1197.1,1209.1l6.4,-12.8h-12.8z"/><path d="M1201.8,1209.1l6.4,-12.8h-12.8z"/><path d="M1206.5,1209.1l6.4,-12.8h-12.8z"/><path d="M1211.3,1209.1l6.4,-12.8h-12.8z"/><path d="M1194.6,1212.6l6.4,-12.8h-12.8z"/><path d="M1201.0,1212.6l6.4,-12.8h-12.8z"/><path d="M1207.4,1212.6l6.4,-12.8h-12.8z"/><path d="M1213.8,1212.6l6.4,-12.8h-12.8z"/><path d="M1203.1,1216.6l6.4,-12.8h-12.8z"/><path d="M1207.2,1216.6l6.4,-12.8h-12.8z"/><path d="M1200.6,1220.6l6.4,-12.8h-12.8z"/><path d="M1205.2,1220.6l6.4,-12.8h-12.8z"/><path d="M1209.8,1220.6l6.4,-12.8h-12.8z"/><path d="M1185.6,1225.7l6.4,-12.8h-12.8z"/><path d="M1191.4,1225.7l6.4,-12.8h-12.8z"/><path d="M1197.3,1225.7l6.4,-12.8h-12.8z"/><path d="M1203.2,1225.7l6.4,-12.8h-12.8z"/><path d="M1209.1,1225.7l6.4,-12.8h-12.8z"/><path d="M1214.9,1225.7l6.4,-12.8h-12.8z"/><path d="M1220.8,1225.7l6.4,-12.8h-12.8z"/><path d="M1179.0,1229.7l6.4,-12.8h-12.8z"/><path d="M1185.6,1229.7l6.4,-12.8h-12.8z"/><path d="M1192.2,1229.7l6.4,-12.8h-12.8z"/><path d="M1198.8,1229.7l6.4,-12.8h-12.8z"/><path d="M1205.4,1229.7l6.4,-12.8h-12.8z"/><path d="M1212.0,1229.7l6.4,-12.8h-12.8z"/><path d="M1218.6,1229.7l6.4,-12.8h-12.8z"/><path d="M1225.2,1229.7l6.4,-12.8h-12.8z"/><path d="M1231.8,1229.7l6.4,-12.8h-12.8z"/><path d="M1206.2,1238.7l6.4,-12.8h-12.8z"/><path d="M1202.2,1245.7l6.4,-12.8h-12.8z"/><path d="M1208.8,1245.7l6.4,-12.8h-12.8z"/><path d="M1205.6,1091.3l6.4,-12.8h-12.8z"/><path d="M1205.6,1265.7l6.4,-12.8h-12.8z"/></g>
<line x1="863.40" y1="964.05" x2="863.40" y2="1372.15" stroke="#000" stroke-width="4.1" stroke-linecap="butt"/>
<line x1="845.40" y1="1370.10" x2="1269.80" y2="1370.10" stroke="#000" stroke-width="4.1" stroke-linecap="butt"/>
<line x1="845.40" y1="966.10" x2="863.40" y2="966.10" stroke="#000" stroke-width="4.1" stroke-linecap="butt"/>
<line x1="845.40" y1="1067.10" x2="863.40" y2="1067.10" stroke="#000" stroke-width="4.1" stroke-linecap="butt"/>
<line x1="845.40" y1="1168.10" x2="863.40" y2="1168.10" stroke="#000" stroke-width="4.1" stroke-linecap="butt"/>
<line x1="845.40" y1="1269.10" x2="863.40" y2="1269.10" stroke="#000" stroke-width="4.1" stroke-linecap="butt"/>
<line x1="925.30" y1="1370.10" x2="925.30" y2="1388.80" stroke="#000" stroke-width="4.1" stroke-linecap="butt"/>
<line x1="1018.70" y1="1370.10" x2="1018.70" y2="1388.80" stroke="#000" stroke-width="4.1" stroke-linecap="butt"/>
<line x1="1111.80" y1="1370.10" x2="1111.80" y2="1388.80" stroke="#000" stroke-width="4.1" stroke-linecap="butt"/>
<line x1="1205.10" y1="1370.10" x2="1205.10" y2="1388.80" stroke="#000" stroke-width="4.1" stroke-linecap="butt"/>
<text transform="translate(772.21,977.70) scale(1,1.0450)" font-family='"Liberation Sans", Arial, sans-serif' font-weight="bold" font-size="31.00">3000</text>
<text transform="translate(772.21,1078.70) scale(1,1.0450)" font-family='"Liberation Sans", Arial, sans-serif' font-weight="bold" font-size="31.00">2500</text>
<text transform="translate(772.21,1179.70) scale(1,1.0450)" font-family='"Liberation Sans", Arial, sans-serif' font-weight="bold" font-size="31.00">2000</text>
<text transform="translate(772.21,1280.70) scale(1,1.0450)" font-family='"Liberation Sans", Arial, sans-serif' font-weight="bold" font-size="31.00">1500</text>
<text transform="translate(772.21,1381.70) scale(1,1.0450)" font-family='"Liberation Sans", Arial, sans-serif' font-weight="bold" font-size="31.00">1000</text>
<text transform="translate(914.11,1422.60) scale(1,1.0600)" font-family='"Liberation Sans", Arial, sans-serif' font-weight="bold" font-size="31.00">A</text>
<text transform="translate(1007.51,1422.60) scale(1,1.0600)" font-family='"Liberation Sans", Arial, sans-serif' font-weight="bold" font-size="31.00">B</text>
<text transform="translate(1100.61,1422.60) scale(1,1.0600)" font-family='"Liberation Sans", Arial, sans-serif' font-weight="bold" font-size="31.00">C</text>
<text transform="translate(1193.91,1422.60) scale(1,1.0600)" font-family='"Liberation Sans", Arial, sans-serif' font-weight="bold" font-size="31.00">D</text>
<text transform="translate(1039.42,1468.90) scale(1,1.0500)" font-family='"Liberation Sans", Arial, sans-serif' font-weight="normal" font-size="37.50" letter-spacing="1.62">(E)</text>
<text transform="translate(984.66,901.90) scale(1,1.0300)" font-family='"Liberation Serif", "Times New Roman", serif' font-weight="bold" font-size="30.88">C-dp/dtmax</text>
<text transform="translate(719.70,1327.40) rotate(-90)" x="-0.45" y="0" font-family='"Liberation Serif", "Times New Roman", serif' font-weight="bold" font-size="27.05">Maximum rate of coronary</text>
<text transform="translate(749.70,1249.40) rotate(-90)" x="-0.36" y="0" font-family='"Liberation Serif", "Times New Roman", serif' font-weight="bold" font-size="26.95">pressure drop</text>
<path d="M1020.00,981.70 V962.00 H1207.20 V1070.00" fill="none" stroke="#000" stroke-width="4.1" stroke-linejoin="round" stroke-linecap="butt"/>
<path d="M928.40,1003.50 V992.00 H1020.00 V1003.50" fill="none" stroke="#000" stroke-width="4.1" stroke-linejoin="round" stroke-linecap="butt"/>
<text transform="translate(1094.93,951.97) scale(0.9011,1)" font-family='"DejaVu Sans", "Liberation Sans", sans-serif' font-weight="bold" font-size="26.33" letter-spacing="3.36">**</text>
<text transform="translate(965.51,981.25) scale(0.9426,1)" font-family='"DejaVu Sans", "Liberation Sans", sans-serif' font-weight="bold" font-size="25.90" letter-spacing="0.00">*</text>
<!-- panel F -->
<line x1="1535.00" y1="1191.67" x2="1605.00" y2="1191.67" stroke="#D9D9D9" stroke-width="4.8" stroke-linecap="butt"/>
<g fill="#A80AE0"><circle cx="1569.4" cy="1133.0" r="6.90"/><circle cx="1569.8" cy="1133.0" r="6.90"/><circle cx="1568.6" cy="1139.2" r="6.90"/><circle cx="1570.6" cy="1139.2" r="6.90"/><circle cx="1564.4" cy="1145.0" r="6.90"/><circle cx="1571.4" cy="1145.0" r="6.90"/><circle cx="1557.2" cy="1151.7" r="6.90"/><circle cx="1563.4" cy="1151.7" r="6.90"/><circle cx="1569.5" cy="1151.7" r="6.90"/><circle cx="1575.6" cy="1151.7" r="6.90"/><circle cx="1581.8" cy="1151.7" r="6.90"/><circle cx="1565.5" cy="1155.0" r="6.90"/><circle cx="1571.2" cy="1155.0" r="6.90"/><circle cx="1577.0" cy="1155.0" r="6.90"/><circle cx="1562.7" cy="1158.3" r="6.90"/><circle cx="1568.4" cy="1158.3" r="6.90"/><circle cx="1574.1" cy="1158.3" r="6.90"/><circle cx="1579.8" cy="1158.3" r="6.90"/><circle cx="1565.5" cy="1162.5" r="6.90"/><circle cx="1571.2" cy="1162.5" r="6.90"/><circle cx="1577.0" cy="1162.5" r="6.90"/><circle cx="1548.6" cy="1166.7" r="6.90"/><circle cx="1555.3" cy="1166.7" r="6.90"/><circle cx="1562.1" cy="1166.7" r="6.90"/><circle cx="1568.9" cy="1166.7" r="6.90"/><circle cx="1575.6" cy="1166.7" r="6.90"/><circle cx="1582.4" cy="1166.7" r="6.90"/><circle cx="1589.2" cy="1166.7" r="6.90"/><circle cx="1595.9" cy="1166.7" r="6.90"/><circle cx="1551.3" cy="1171.4" r="6.90"/><circle cx="1557.8" cy="1171.4" r="6.90"/><circle cx="1564.3" cy="1171.4" r="6.90"/><circle cx="1570.8" cy="1171.4" r="6.90"/><circle cx="1577.3" cy="1171.4" r="6.90"/><circle cx="1583.8" cy="1171.4" r="6.90"/><circle cx="1590.3" cy="1171.4" r="6.90"/><circle cx="1539.9" cy="1176.2" r="6.90"/><circle cx="1546.6" cy="1176.2" r="6.90"/><circle cx="1553.2" cy="1176.2" r="6.90"/><circle cx="1559.8" cy="1176.2" r="6.90"/><circle cx="1566.5" cy="1176.2" r="6.90"/><circle cx="1573.2" cy="1176.2" r="6.90"/><circle cx="1579.8" cy="1176.2" r="6.90"/><circle cx="1586.4" cy="1176.2" r="6.90"/><circle cx="1593.1" cy="1176.2" r="6.90"/><circle cx="1543.6" cy="1178.0" r="6.90"/><circle cx="1550.5" cy="1178.0" r="6.90"/><circle cx="1557.5" cy="1178.0" r="6.90"/><circle cx="1564.5" cy="1178.0" r="6.90"/><circle cx="1571.4" cy="1178.0" r="6.90"/><circle cx="1578.4" cy="1178.0" r="6.90"/><circle cx="1585.3" cy="1178.0" r="6.90"/><circle cx="1592.3" cy="1178.0" r="6.90"/><circle cx="1599.3" cy="1178.0" r="6.90"/><circle cx="1548.3" cy="1181.1" r="6.90"/><circle cx="1555.9" cy="1181.1" r="6.90"/><circle cx="1563.4" cy="1181.1" r="6.90"/><circle cx="1571.0" cy="1181.1" r="6.90"/><circle cx="1578.6" cy="1181.1" r="6.90"/><circle cx="1586.1" cy="1181.1" r="6.90"/><circle cx="1593.7" cy="1181.1" r="6.90"/><circle cx="1545.6" cy="1184.2" r="6.90"/><circle cx="1552.8" cy="1184.2" r="6.90"/><circle cx="1560.1" cy="1184.2" r="6.90"/><circle cx="1567.4" cy="1184.2" r="6.90"/><circle cx="1574.6" cy="1184.2" r="6.90"/><circle cx="1581.9" cy="1184.2" r="6.90"/><circle cx="1589.2" cy="1184.2" r="6.90"/><circle cx="1596.4" cy="1184.2" r="6.90"/><circle cx="1553.0" cy="1187.9" r="6.90"/><circle cx="1560.1" cy="1187.9" r="6.90"/><circle cx="1567.3" cy="1187.9" r="6.90"/><circle cx="1574.4" cy="1187.9" r="6.90"/><circle cx="1581.5" cy="1187.9" r="6.90"/><circle cx="1588.7" cy="1187.9" r="6.90"/><circle cx="1550.2" cy="1191.7" r="6.90"/><circle cx="1557.1" cy="1191.7" r="6.90"/><circle cx="1564.0" cy="1191.7" r="6.90"/><circle cx="1570.8" cy="1191.7" r="6.90"/><circle cx="1577.7" cy="1191.7" r="6.90"/><circle cx="1584.6" cy="1191.7" r="6.90"/><circle cx="1591.4" cy="1191.7" r="6.90"/><circle cx="1556.0" cy="1195.0" r="6.90"/><circle cx="1562.1" cy="1195.0" r="6.90"/><circle cx="1568.2" cy="1195.0" r="6.90"/><circle cx="1574.3" cy="1195.0" r="6.90"/><circle cx="1580.3" cy="1195.0" r="6.90"/><circle cx="1553.2" cy="1198.3" r="6.90"/><circle cx="1560.7" cy="1198.3" r="6.90"/><circle cx="1568.2" cy="1198.3" r="6.90"/><circle cx="1575.6" cy="1198.3" r="6.90"/><circle cx="1583.1" cy="1198.3" r="6.90"/><circle cx="1555.2" cy="1203.0" r="6.90"/><circle cx="1561.5" cy="1203.0" r="6.90"/><circle cx="1567.7" cy="1203.0" r="6.90"/><circle cx="1574.0" cy="1203.0" r="6.90"/><circle cx="1580.2" cy="1203.0" r="6.90"/><circle cx="1586.4" cy="1203.0" r="6.90"/><circle cx="1563.8" cy="1206.5" r="6.90"/><circle cx="1570.4" cy="1206.5" r="6.90"/><circle cx="1577.0" cy="1206.5" r="6.90"/><circle cx="1561.1" cy="1210.0" r="6.90"/><circle cx="1567.3" cy="1210.0" r="6.90"/><circle cx="1573.5" cy="1210.0" r="6.90"/><circle cx="1579.8" cy="1210.0" r="6.90"/><circle cx="1563.8" cy="1213.8" r="6.90"/><circle cx="1569.2" cy="1213.8" r="6.90"/><circle cx="1574.5" cy="1213.8" r="6.90"/><circle cx="1558.2" cy="1217.5" r="6.90"/><circle cx="1564.6" cy="1217.5" r="6.90"/><circle cx="1570.9" cy="1217.5" r="6.90"/><circle cx="1577.3" cy="1217.5" r="6.90"/><circle cx="1562.7" cy="1221.3" r="6.90"/><circle cx="1568.7" cy="1221.3" r="6.90"/><circle cx="1574.6" cy="1221.3" r="6.90"/><circle cx="1580.6" cy="1221.3" r="6.90"/><circle cx="1569.7" cy="1224.8" r="6.90"/><circle cx="1574.5" cy="1224.8" r="6.90"/><circle cx="1566.9" cy="1228.3" r="6.90"/><circle cx="1572.1" cy="1228.3" r="6.90"/><circle cx="1577.3" cy="1228.3" r="6.90"/><circle cx="1561.4" cy="1233.0" r="6.90"/><circle cx="1567.7" cy="1233.0" r="6.90"/><circle cx="1573.9" cy="1233.0" r="6.90"/><circle cx="1562.7" cy="1238.7" r="6.90"/><circle cx="1569.6" cy="1238.7" r="6.90"/><circle cx="1576.4" cy="1238.7" r="6.90"/><circle cx="1566.1" cy="1245.0" r="6.90"/><circle cx="1572.3" cy="1245.0" r="6.90"/><circle cx="1569.4" cy="1251.7" r="6.90"/><circle cx="1570.6" cy="1251.7" r="6.90"/><circle cx="1569.9" cy="1259.2" r="6.90"/><circle cx="1572.3" cy="1259.2" r="6.90"/><circle cx="1566.9" cy="1264.2" r="6.90"/><circle cx="1568.1" cy="1264.2" r="6.90"/><circle cx="1569.4" cy="1274.7" r="6.90"/><circle cx="1569.8" cy="1274.7" r="6.90"/><circle cx="1569.5" cy="1113.7" r="6.90"/></g>
<line x1="1637.50" y1="1176.67" x2="1708.67" y2="1176.67" stroke="#D9D9D9" stroke-width="4.8" stroke-linecap="butt"/>
<g fill="#559FFA"><rect x="1666.3" y="1075.9" width="13.8" height="13.8"/><rect x="1666.5" y="1075.9" width="13.8" height="13.8"/><rect x="1663.3" y="1088.1" width="13.8" height="13.8"/><rect x="1666.5" y="1088.1" width="13.8" height="13.8"/><rect x="1669.8" y="1093.1" width="13.8" height="13.8"/><rect x="1666.3" y="1106.4" width="13.8" height="13.8"/><rect x="1672.9" y="1106.4" width="13.8" height="13.8"/><rect x="1666.3" y="1111.4" width="13.8" height="13.8"/><rect x="1672.9" y="1111.4" width="13.8" height="13.8"/><rect x="1660.0" y="1116.4" width="13.8" height="13.8"/><rect x="1665.4" y="1116.4" width="13.8" height="13.8"/><rect x="1670.8" y="1116.4" width="13.8" height="13.8"/><rect x="1676.2" y="1116.4" width="13.8" height="13.8"/><rect x="1657.0" y="1121.4" width="13.8" height="13.8"/><rect x="1663.4" y="1121.4" width="13.8" height="13.8"/><rect x="1669.8" y="1121.4" width="13.8" height="13.8"/><rect x="1676.2" y="1121.4" width="13.8" height="13.8"/><rect x="1657.0" y="1125.3" width="13.8" height="13.8"/><rect x="1663.4" y="1125.3" width="13.8" height="13.8"/><rect x="1669.8" y="1125.3" width="13.8" height="13.8"/><rect x="1676.2" y="1125.3" width="13.8" height="13.8"/><rect x="1657.0" y="1129.2" width="13.8" height="13.8"/><rect x="1663.4" y="1129.2" width="13.8" height="13.8"/><rect x="1669.8" y="1129.2" width="13.8" height="13.8"/><rect x="1676.2" y="1129.2" width="13.8" height="13.8"/><rect x="1653.3" y="1133.1" width="13.8" height="13.8"/><rect x="1660.1" y="1133.1" width="13.8" height="13.8"/><rect x="1666.8" y="1133.1" width="13.8" height="13.8"/><rect x="1673.6" y="1133.1" width="13.8" height="13.8"/><rect x="1680.4" y="1133.1" width="13.8" height="13.8"/><rect x="1653.3" y="1136.0" width="13.8" height="13.8"/><rect x="1660.1" y="1136.0" width="13.8" height="13.8"/><rect x="1666.8" y="1136.0" width="13.8" height="13.8"/><rect x="1673.6" y="1136.0" width="13.8" height="13.8"/><rect x="1680.4" y="1136.0" width="13.8" height="13.8"/><rect x="1650.0" y="1138.9" width="13.8" height="13.8"/><rect x="1656.5" y="1138.9" width="13.8" height="13.8"/><rect x="1662.9" y="1138.9" width="13.8" height="13.8"/><rect x="1669.4" y="1138.9" width="13.8" height="13.8"/><rect x="1675.9" y="1138.9" width="13.8" height="13.8"/><rect x="1682.4" y="1138.9" width="13.8" height="13.8"/><rect x="1650.0" y="1143.5" width="13.8" height="13.8"/><rect x="1656.5" y="1143.5" width="13.8" height="13.8"/><rect x="1662.9" y="1143.5" width="13.8" height="13.8"/><rect x="1669.4" y="1143.5" width="13.8" height="13.8"/><rect x="1675.9" y="1143.5" width="13.8" height="13.8"/><rect x="1682.4" y="1143.5" width="13.8" height="13.8"/><rect x="1642.0" y="1148.1" width="13.8" height="13.8"/><rect x="1649.0" y="1148.1" width="13.8" height="13.8"/><rect x="1655.9" y="1148.1" width="13.8" height="13.8"/><rect x="1662.8" y="1148.1" width="13.8" height="13.8"/><rect x="1669.8" y="1148.1" width="13.8" height="13.8"/><rect x="1676.7" y="1148.1" width="13.8" height="13.8"/><rect x="1683.7" y="1148.1" width="13.8" height="13.8"/><rect x="1642.5" y="1151.3" width="13.8" height="13.8"/><rect x="1649.4" y="1151.3" width="13.8" height="13.8"/><rect x="1656.2" y="1151.3" width="13.8" height="13.8"/><rect x="1663.1" y="1151.3" width="13.8" height="13.8"/><rect x="1670.0" y="1151.3" width="13.8" height="13.8"/><rect x="1676.8" y="1151.3" width="13.8" height="13.8"/><rect x="1683.7" y="1151.3" width="13.8" height="13.8"/><rect x="1642.5" y="1154.4" width="13.8" height="13.8"/><rect x="1649.5" y="1154.4" width="13.8" height="13.8"/><rect x="1656.4" y="1154.4" width="13.8" height="13.8"/><rect x="1663.4" y="1154.4" width="13.8" height="13.8"/><rect x="1670.3" y="1154.4" width="13.8" height="13.8"/><rect x="1677.3" y="1154.4" width="13.8" height="13.8"/><rect x="1684.2" y="1154.4" width="13.8" height="13.8"/><rect x="1691.2" y="1154.4" width="13.8" height="13.8"/><rect x="1643.3" y="1157.9" width="13.8" height="13.8"/><rect x="1650.2" y="1157.9" width="13.8" height="13.8"/><rect x="1657.0" y="1157.9" width="13.8" height="13.8"/><rect x="1663.8" y="1157.9" width="13.8" height="13.8"/><rect x="1670.7" y="1157.9" width="13.8" height="13.8"/><rect x="1677.5" y="1157.9" width="13.8" height="13.8"/><rect x="1684.4" y="1157.9" width="13.8" height="13.8"/><rect x="1691.2" y="1157.9" width="13.8" height="13.8"/><rect x="1643.3" y="1161.4" width="13.8" height="13.8"/><rect x="1650.8" y="1161.4" width="13.8" height="13.8"/><rect x="1658.3" y="1161.4" width="13.8" height="13.8"/><rect x="1665.8" y="1161.4" width="13.8" height="13.8"/><rect x="1673.4" y="1161.4" width="13.8" height="13.8"/><rect x="1680.9" y="1161.4" width="13.8" height="13.8"/><rect x="1688.4" y="1161.4" width="13.8" height="13.8"/><rect x="1695.9" y="1161.4" width="13.8" height="13.8"/><rect x="1636.7" y="1166.4" width="13.8" height="13.8"/><rect x="1643.7" y="1166.4" width="13.8" height="13.8"/><rect x="1650.7" y="1166.4" width="13.8" height="13.8"/><rect x="1657.7" y="1166.4" width="13.8" height="13.8"/><rect x="1664.8" y="1166.4" width="13.8" height="13.8"/><rect x="1671.8" y="1166.4" width="13.8" height="13.8"/><rect x="1678.8" y="1166.4" width="13.8" height="13.8"/><rect x="1685.8" y="1166.4" width="13.8" height="13.8"/><rect x="1692.9" y="1166.4" width="13.8" height="13.8"/><rect x="1640.0" y="1169.8" width="13.8" height="13.8"/><rect x="1647.4" y="1169.8" width="13.8" height="13.8"/><rect x="1654.9" y="1169.8" width="13.8" height="13.8"/><rect x="1662.3" y="1169.8" width="13.8" height="13.8"/><rect x="1669.7" y="1169.8" width="13.8" height="13.8"/><rect x="1677.2" y="1169.8" width="13.8" height="13.8"/><rect x="1684.6" y="1169.8" width="13.8" height="13.8"/><rect x="1692.0" y="1169.8" width="13.8" height="13.8"/><rect x="1640.0" y="1173.1" width="13.8" height="13.8"/><rect x="1647.4" y="1173.1" width="13.8" height="13.8"/><rect x="1654.9" y="1173.1" width="13.8" height="13.8"/><rect x="1662.3" y="1173.1" width="13.8" height="13.8"/><rect x="1669.7" y="1173.1" width="13.8" height="13.8"/><rect x="1677.2" y="1173.1" width="13.8" height="13.8"/><rect x="1684.6" y="1173.1" width="13.8" height="13.8"/><rect x="1692.0" y="1173.1" width="13.8" height="13.8"/><rect x="1643.3" y="1177.3" width="13.8" height="13.8"/><rect x="1649.9" y="1177.3" width="13.8" height="13.8"/><rect x="1656.5" y="1177.3" width="13.8" height="13.8"/><rect x="1663.1" y="1177.3" width="13.8" height="13.8"/><rect x="1669.7" y="1177.3" width="13.8" height="13.8"/><rect x="1676.3" y="1177.3" width="13.8" height="13.8"/><rect x="1682.9" y="1177.3" width="13.8" height="13.8"/><rect x="1689.5" y="1177.3" width="13.8" height="13.8"/><rect x="1647.5" y="1181.8" width="13.8" height="13.8"/><rect x="1655.1" y="1181.8" width="13.8" height="13.8"/><rect x="1662.6" y="1181.8" width="13.8" height="13.8"/><rect x="1670.2" y="1181.8" width="13.8" height="13.8"/><rect x="1677.8" y="1181.8" width="13.8" height="13.8"/><rect x="1685.4" y="1181.8" width="13.8" height="13.8"/><rect x="1647.5" y="1186.4" width="13.8" height="13.8"/><rect x="1655.1" y="1186.4" width="13.8" height="13.8"/><rect x="1662.6" y="1186.4" width="13.8" height="13.8"/><rect x="1670.2" y="1186.4" width="13.8" height="13.8"/><rect x="1677.8" y="1186.4" width="13.8" height="13.8"/><rect x="1685.4" y="1186.4" width="13.8" height="13.8"/><rect x="1647.5" y="1189.8" width="13.8" height="13.8"/><rect x="1655.1" y="1189.8" width="13.8" height="13.8"/><rect x="1662.6" y="1189.8" width="13.8" height="13.8"/><rect x="1670.2" y="1189.8" width="13.8" height="13.8"/><rect x="1677.8" y="1189.8" width="13.8" height="13.8"/><rect x="1685.4" y="1189.8" width="13.8" height="13.8"/><rect x="1646.7" y="1193.1" width="13.8" height="13.8"/><rect x="1653.2" y="1193.1" width="13.8" height="13.8"/><rect x="1659.7" y="1193.1" width="13.8" height="13.8"/><rect x="1666.3" y="1193.1" width="13.8" height="13.8"/><rect x="1672.8" y="1193.1" width="13.8" height="13.8"/><rect x="1679.3" y="1193.1" width="13.8" height="13.8"/><rect x="1685.9" y="1193.1" width="13.8" height="13.8"/><rect x="1660.0" y="1196.4" width="13.8" height="13.8"/><rect x="1667.1" y="1196.4" width="13.8" height="13.8"/><rect x="1674.1" y="1196.4" width="13.8" height="13.8"/><rect x="1681.2" y="1196.4" width="13.8" height="13.8"/><rect x="1660.0" y="1200.3" width="13.8" height="13.8"/><rect x="1665.4" y="1200.3" width="13.8" height="13.8"/><rect x="1670.8" y="1200.3" width="13.8" height="13.8"/><rect x="1676.2" y="1200.3" width="13.8" height="13.8"/><rect x="1660.0" y="1204.2" width="13.8" height="13.8"/><rect x="1665.4" y="1204.2" width="13.8" height="13.8"/><rect x="1670.8" y="1204.2" width="13.8" height="13.8"/><rect x="1676.2" y="1204.2" width="13.8" height="13.8"/><rect x="1659.7" y="1208.1" width="13.8" height="13.8"/><rect x="1665.2" y="1208.1" width="13.8" height="13.8"/><rect x="1670.7" y="1208.1" width="13.8" height="13.8"/><rect x="1676.2" y="1208.1" width="13.8" height="13.8"/><rect x="1659.7" y="1211.0" width="13.8" height="13.8"/><rect x="1666.3" y="1211.0" width="13.8" height="13.8"/><rect x="1672.9" y="1211.0" width="13.8" height="13.8"/><rect x="1657.0" y="1213.9" width="13.8" height="13.8"/><rect x="1662.3" y="1213.9" width="13.8" height="13.8"/><rect x="1667.6" y="1213.9" width="13.8" height="13.8"/><rect x="1672.9" y="1213.9" width="13.8" height="13.8"/><rect x="1660.0" y="1218.5" width="13.8" height="13.8"/><rect x="1666.4" y="1218.5" width="13.8" height="13.8"/><rect x="1672.9" y="1218.5" width="13.8" height="13.8"/><rect x="1660.0" y="1223.1" width="13.8" height="13.8"/><rect x="1666.4" y="1223.1" width="13.8" height="13.8"/><rect x="1672.9" y="1223.1" width="13.8" height="13.8"/><rect x="1661.7" y="1227.3" width="13.8" height="13.8"/><rect x="1666.4" y="1227.3" width="13.8" height="13.8"/><rect x="1671.2" y="1227.3" width="13.8" height="13.8"/><rect x="1661.7" y="1231.4" width="13.8" height="13.8"/><rect x="1666.4" y="1231.4" width="13.8" height="13.8"/><rect x="1671.2" y="1231.4" width="13.8" height="13.8"/><rect x="1661.7" y="1233.9" width="13.8" height="13.8"/><rect x="1667.9" y="1233.9" width="13.8" height="13.8"/><rect x="1661.6" y="1236.4" width="13.8" height="13.8"/></g>
<line x1="1741.33" y1="1123.67" x2="1811.67" y2="1123.67" stroke="#D9D9D9" stroke-width="4.8" stroke-linecap="butt"/>
<g fill="#43F0AF"><path d="M1776.9,1044.4l6.9,13.8h-13.8z"/><path d="M1776.9,1044.4l6.9,13.8h-13.8z"/><path d="M1775.6,1052.3l6.9,13.8h-13.8z"/><path d="M1778.1,1052.3l6.9,13.8h-13.8z"/><path d="M1774.4,1059.8l6.9,13.8h-13.8z"/><path d="M1779.8,1059.8l6.9,13.8h-13.8z"/><path d="M1772.7,1066.4l6.9,13.8h-13.8z"/><path d="M1777.1,1066.4l6.9,13.8h-13.8z"/><path d="M1781.4,1066.4l6.9,13.8h-13.8z"/><path d="M1767.2,1072.3l6.9,13.8h-13.8z"/><path d="M1773.6,1072.3l6.9,13.8h-13.8z"/><path d="M1780.0,1072.3l6.9,13.8h-13.8z"/><path d="M1786.4,1072.3l6.9,13.8h-13.8z"/><path d="M1770.2,1077.3l6.9,13.8h-13.8z"/><path d="M1775.4,1077.3l6.9,13.8h-13.8z"/><path d="M1780.6,1077.3l6.9,13.8h-13.8z"/><path d="M1773.0,1081.0l6.9,13.8h-13.8z"/><path d="M1777.8,1081.0l6.9,13.8h-13.8z"/><path d="M1768.6,1084.8l6.9,13.8h-13.8z"/><path d="M1774.0,1084.8l6.9,13.8h-13.8z"/><path d="M1779.4,1084.8l6.9,13.8h-13.8z"/><path d="M1784.8,1084.8l6.9,13.8h-13.8z"/><path d="M1771.3,1088.1l6.9,13.8h-13.8z"/><path d="M1776.7,1088.1l6.9,13.8h-13.8z"/><path d="M1782.0,1088.1l6.9,13.8h-13.8z"/><path d="M1765.2,1091.4l6.9,13.8h-13.8z"/><path d="M1771.4,1091.4l6.9,13.8h-13.8z"/><path d="M1777.5,1091.4l6.9,13.8h-13.8z"/><path d="M1783.6,1091.4l6.9,13.8h-13.8z"/><path d="M1789.8,1091.4l6.9,13.8h-13.8z"/><path d="M1768.0,1095.2l6.9,13.8h-13.8z"/><path d="M1774.3,1095.2l6.9,13.8h-13.8z"/><path d="M1780.7,1095.2l6.9,13.8h-13.8z"/><path d="M1787.0,1095.2l6.9,13.8h-13.8z"/><path d="M1753.2,1098.9l6.9,13.8h-13.8z"/><path d="M1760.0,1098.9l6.9,13.8h-13.8z"/><path d="M1766.8,1098.9l6.9,13.8h-13.8z"/><path d="M1773.5,1098.9l6.9,13.8h-13.8z"/><path d="M1780.3,1098.9l6.9,13.8h-13.8z"/><path d="M1787.1,1098.9l6.9,13.8h-13.8z"/><path d="M1793.8,1098.9l6.9,13.8h-13.8z"/><path d="M1800.6,1098.9l6.9,13.8h-13.8z"/><path d="M1756.3,1103.5l6.9,13.8h-13.8z"/><path d="M1763.2,1103.5l6.9,13.8h-13.8z"/><path d="M1770.2,1103.5l6.9,13.8h-13.8z"/><path d="M1777.1,1103.5l6.9,13.8h-13.8z"/><path d="M1784.0,1103.5l6.9,13.8h-13.8z"/><path d="M1790.9,1103.5l6.9,13.8h-13.8z"/><path d="M1797.8,1103.5l6.9,13.8h-13.8z"/><path d="M1753.6,1108.1l6.9,13.8h-13.8z"/><path d="M1760.4,1108.1l6.9,13.8h-13.8z"/><path d="M1767.2,1108.1l6.9,13.8h-13.8z"/><path d="M1774.1,1108.1l6.9,13.8h-13.8z"/><path d="M1780.9,1108.1l6.9,13.8h-13.8z"/><path d="M1787.8,1108.1l6.9,13.8h-13.8z"/><path d="M1794.6,1108.1l6.9,13.8h-13.8z"/><path d="M1801.4,1108.1l6.9,13.8h-13.8z"/><path d="M1756.3,1111.4l6.9,13.8h-13.8z"/><path d="M1763.4,1111.4l6.9,13.8h-13.8z"/><path d="M1770.4,1111.4l6.9,13.8h-13.8z"/><path d="M1777.5,1111.4l6.9,13.8h-13.8z"/><path d="M1784.6,1111.4l6.9,13.8h-13.8z"/><path d="M1791.6,1111.4l6.9,13.8h-13.8z"/><path d="M1798.7,1111.4l6.9,13.8h-13.8z"/><path d="M1751.9,1114.8l6.9,13.8h-13.8z"/><path d="M1759.2,1114.8l6.9,13.8h-13.8z"/><path d="M1766.5,1114.8l6.9,13.8h-13.8z"/><path d="M1773.8,1114.8l6.9,13.8h-13.8z"/><path d="M1781.2,1114.8l6.9,13.8h-13.8z"/><path d="M1788.5,1114.8l6.9,13.8h-13.8z"/><path d="M1795.8,1114.8l6.9,13.8h-13.8z"/><path d="M1803.1,1114.8l6.9,13.8h-13.8z"/><path d="M1747.7,1119.8l6.9,13.8h-13.8z"/><path d="M1754.9,1119.8l6.9,13.8h-13.8z"/><path d="M1762.0,1119.8l6.9,13.8h-13.8z"/><path d="M1769.1,1119.8l6.9,13.8h-13.8z"/><path d="M1776.2,1119.8l6.9,13.8h-13.8z"/><path d="M1783.4,1119.8l6.9,13.8h-13.8z"/><path d="M1790.5,1119.8l6.9,13.8h-13.8z"/><path d="M1797.6,1119.8l6.9,13.8h-13.8z"/><path d="M1804.8,1119.8l6.9,13.8h-13.8z"/><path d="M1752.7,1123.9l6.9,13.8h-13.8z"/><path d="M1759.4,1123.9l6.9,13.8h-13.8z"/><path d="M1766.1,1123.9l6.9,13.8h-13.8z"/><path d="M1772.7,1123.9l6.9,13.8h-13.8z"/><path d="M1779.4,1123.9l6.9,13.8h-13.8z"/><path d="M1786.1,1123.9l6.9,13.8h-13.8z"/><path d="M1792.8,1123.9l6.9,13.8h-13.8z"/><path d="M1799.4,1123.9l6.9,13.8h-13.8z"/><path d="M1806.1,1123.9l6.9,13.8h-13.8z"/><path d="M1761.3,1128.5l6.9,13.8h-13.8z"/><path d="M1768.6,1128.5l6.9,13.8h-13.8z"/><path d="M1775.8,1128.5l6.9,13.8h-13.8z"/><path d="M1783.1,1128.5l6.9,13.8h-13.8z"/><path d="M1790.3,1128.5l6.9,13.8h-13.8z"/><path d="M1758.6,1133.1l6.9,13.8h-13.8z"/><path d="M1765.5,1133.1l6.9,13.8h-13.8z"/><path d="M1772.4,1133.1l6.9,13.8h-13.8z"/><path d="M1779.3,1133.1l6.9,13.8h-13.8z"/><path d="M1786.2,1133.1l6.9,13.8h-13.8z"/><path d="M1793.1,1133.1l6.9,13.8h-13.8z"/><path d="M1761.3,1137.4l6.9,13.8h-13.8z"/><path d="M1768.3,1137.4l6.9,13.8h-13.8z"/><path d="M1775.2,1137.4l6.9,13.8h-13.8z"/><path d="M1782.2,1137.4l6.9,13.8h-13.8z"/><path d="M1756.1,1141.8l6.9,13.8h-13.8z"/><path d="M1763.3,1141.8l6.9,13.8h-13.8z"/><path d="M1770.5,1141.8l6.9,13.8h-13.8z"/><path d="M1777.7,1141.8l6.9,13.8h-13.8z"/><path d="M1784.9,1141.8l6.9,13.8h-13.8z"/><path d="M1769.4,1145.9l6.9,13.8h-13.8z"/><path d="M1776.6,1145.9l6.9,13.8h-13.8z"/><path d="M1783.8,1145.9l6.9,13.8h-13.8z"/><path d="M1790.9,1145.9l6.9,13.8h-13.8z"/><path d="M1798.1,1145.9l6.9,13.8h-13.8z"/><path d="M1773.0,1150.3l6.9,13.8h-13.8z"/><path d="M1777.5,1150.3l6.9,13.8h-13.8z"/><path d="M1782.0,1150.3l6.9,13.8h-13.8z"/><path d="M1770.2,1154.8l6.9,13.8h-13.8z"/><path d="M1777.5,1154.8l6.9,13.8h-13.8z"/><path d="M1784.8,1154.8l6.9,13.8h-13.8z"/><path d="M1773.0,1158.3l6.9,13.8h-13.8z"/><path d="M1777.5,1158.3l6.9,13.8h-13.8z"/><path d="M1782.0,1158.3l6.9,13.8h-13.8z"/><path d="M1764.7,1161.8l6.9,13.8h-13.8z"/><path d="M1770.9,1161.8l6.9,13.8h-13.8z"/><path d="M1777.0,1161.8l6.9,13.8h-13.8z"/><path d="M1783.1,1161.8l6.9,13.8h-13.8z"/><path d="M1789.3,1161.8l6.9,13.8h-13.8z"/><path d="M1775.6,1165.9l6.9,13.8h-13.8z"/><path d="M1781.1,1165.9l6.9,13.8h-13.8z"/><path d="M1786.6,1165.9l6.9,13.8h-13.8z"/><path d="M1776.8,1175.8l6.9,13.8h-13.8z"/><path d="M1776.8,1187.3l6.9,13.8h-13.8z"/></g>
<line x1="1845.83" y1="1072.00" x2="1915.83" y2="1072.00" stroke="#D9D9D9" stroke-width="4.8" stroke-linecap="butt"/>
<g fill="#FF8000"><path d="M1880.2,973.6l6.9,-13.8h-13.8z"/><path d="M1880.3,973.6l6.9,-13.8h-13.8z"/><path d="M1880.2,988.6l6.9,-13.8h-13.8z"/><path d="M1880.3,988.6l6.9,-13.8h-13.8z"/><path d="M1876.1,1002.7l6.9,-13.8h-13.8z"/><path d="M1880.3,1002.7l6.9,-13.8h-13.8z"/><path d="M1880.2,1007.2l6.9,-13.8h-13.8z"/><path d="M1885.1,1007.2l6.9,-13.8h-13.8z"/><path d="M1873.2,1016.9l6.9,-13.8h-13.8z"/><path d="M1879.0,1016.9l6.9,-13.8h-13.8z"/><path d="M1884.8,1016.9l6.9,-13.8h-13.8z"/><path d="M1875.2,1022.7l6.9,-13.8h-13.8z"/><path d="M1881.7,1022.7l6.9,-13.8h-13.8z"/><path d="M1888.1,1022.7l6.9,-13.8h-13.8z"/><path d="M1878.0,1025.7l6.9,-13.8h-13.8z"/><path d="M1883.7,1025.7l6.9,-13.8h-13.8z"/><path d="M1871.6,1028.6l6.9,-13.8h-13.8z"/><path d="M1879.0,1028.6l6.9,-13.8h-13.8z"/><path d="M1886.4,1028.6l6.9,-13.8h-13.8z"/><path d="M1874.3,1031.9l6.9,-13.8h-13.8z"/><path d="M1879.0,1031.9l6.9,-13.8h-13.8z"/><path d="M1883.7,1031.9l6.9,-13.8h-13.8z"/><path d="M1870.2,1035.2l6.9,-13.8h-13.8z"/><path d="M1877.7,1035.2l6.9,-13.8h-13.8z"/><path d="M1885.3,1035.2l6.9,-13.8h-13.8z"/><path d="M1892.8,1035.2l6.9,-13.8h-13.8z"/><path d="M1873.0,1038.4l6.9,-13.8h-13.8z"/><path d="M1880.0,1038.4l6.9,-13.8h-13.8z"/><path d="M1887.0,1038.4l6.9,-13.8h-13.8z"/><path d="M1868.6,1041.6l6.9,-13.8h-13.8z"/><path d="M1875.6,1041.6l6.9,-13.8h-13.8z"/><path d="M1882.7,1041.6l6.9,-13.8h-13.8z"/><path d="M1889.8,1041.6l6.9,-13.8h-13.8z"/><path d="M1870.2,1046.9l6.9,-13.8h-13.8z"/><path d="M1877.7,1046.9l6.9,-13.8h-13.8z"/><path d="M1885.3,1046.9l6.9,-13.8h-13.8z"/><path d="M1892.8,1046.9l6.9,-13.8h-13.8z"/><path d="M1873.0,1049.8l6.9,-13.8h-13.8z"/><path d="M1880.0,1049.8l6.9,-13.8h-13.8z"/><path d="M1887.0,1049.8l6.9,-13.8h-13.8z"/><path d="M1870.2,1052.7l6.9,-13.8h-13.8z"/><path d="M1876.7,1052.7l6.9,-13.8h-13.8z"/><path d="M1883.3,1052.7l6.9,-13.8h-13.8z"/><path d="M1889.8,1052.7l6.9,-13.8h-13.8z"/><path d="M1873.0,1055.7l6.9,-13.8h-13.8z"/><path d="M1878.8,1055.7l6.9,-13.8h-13.8z"/><path d="M1884.5,1055.7l6.9,-13.8h-13.8z"/><path d="M1868.6,1058.6l6.9,-13.8h-13.8z"/><path d="M1874.8,1058.6l6.9,-13.8h-13.8z"/><path d="M1881.0,1058.6l6.9,-13.8h-13.8z"/><path d="M1887.3,1058.6l6.9,-13.8h-13.8z"/><path d="M1871.9,1063.1l6.9,-13.8h-13.8z"/><path d="M1878.9,1063.1l6.9,-13.8h-13.8z"/><path d="M1885.8,1063.1l6.9,-13.8h-13.8z"/><path d="M1892.8,1063.1l6.9,-13.8h-13.8z"/><path d="M1866.9,1068.6l6.9,-13.8h-13.8z"/><path d="M1872.6,1068.6l6.9,-13.8h-13.8z"/><path d="M1878.3,1068.6l6.9,-13.8h-13.8z"/><path d="M1884.0,1068.6l6.9,-13.8h-13.8z"/><path d="M1889.8,1068.6l6.9,-13.8h-13.8z"/><path d="M1870.2,1071.9l6.9,-13.8h-13.8z"/><path d="M1876.4,1071.9l6.9,-13.8h-13.8z"/><path d="M1882.5,1071.9l6.9,-13.8h-13.8z"/><path d="M1888.6,1071.9l6.9,-13.8h-13.8z"/><path d="M1894.8,1071.9l6.9,-13.8h-13.8z"/><path d="M1873.0,1074.8l6.9,-13.8h-13.8z"/><path d="M1879.3,1074.8l6.9,-13.8h-13.8z"/><path d="M1885.7,1074.8l6.9,-13.8h-13.8z"/><path d="M1892.0,1074.8l6.9,-13.8h-13.8z"/><path d="M1869.4,1077.7l6.9,-13.8h-13.8z"/><path d="M1876.3,1077.7l6.9,-13.8h-13.8z"/><path d="M1883.2,1077.7l6.9,-13.8h-13.8z"/><path d="M1890.1,1077.7l6.9,-13.8h-13.8z"/><path d="M1897.0,1077.7l6.9,-13.8h-13.8z"/><path d="M1903.9,1077.7l6.9,-13.8h-13.8z"/><path d="M1851.1,1080.2l6.9,-13.8h-13.8z"/><path d="M1858.4,1080.2l6.9,-13.8h-13.8z"/><path d="M1865.7,1080.2l6.9,-13.8h-13.8z"/><path d="M1873.1,1080.2l6.9,-13.8h-13.8z"/><path d="M1880.4,1080.2l6.9,-13.8h-13.8z"/><path d="M1887.8,1080.2l6.9,-13.8h-13.8z"/><path d="M1895.1,1080.2l6.9,-13.8h-13.8z"/><path d="M1902.4,1080.2l6.9,-13.8h-13.8z"/><path d="M1909.8,1080.2l6.9,-13.8h-13.8z"/><path d="M1859.7,1083.6l6.9,-13.8h-13.8z"/><path d="M1866.7,1083.6l6.9,-13.8h-13.8z"/><path d="M1873.8,1083.6l6.9,-13.8h-13.8z"/><path d="M1880.8,1083.6l6.9,-13.8h-13.8z"/><path d="M1887.9,1083.6l6.9,-13.8h-13.8z"/><path d="M1894.9,1083.6l6.9,-13.8h-13.8z"/><path d="M1902.0,1083.6l6.9,-13.8h-13.8z"/><path d="M1856.9,1086.9l6.9,-13.8h-13.8z"/><path d="M1863.7,1086.9l6.9,-13.8h-13.8z"/><path d="M1870.6,1086.9l6.9,-13.8h-13.8z"/><path d="M1877.4,1086.9l6.9,-13.8h-13.8z"/><path d="M1884.3,1086.9l6.9,-13.8h-13.8z"/><path d="M1891.1,1086.9l6.9,-13.8h-13.8z"/><path d="M1897.9,1086.9l6.9,-13.8h-13.8z"/><path d="M1904.8,1086.9l6.9,-13.8h-13.8z"/><path d="M1866.3,1091.1l6.9,-13.8h-13.8z"/><path d="M1873.2,1091.1l6.9,-13.8h-13.8z"/><path d="M1880.0,1091.1l6.9,-13.8h-13.8z"/><path d="M1886.8,1091.1l6.9,-13.8h-13.8z"/><path d="M1893.7,1091.1l6.9,-13.8h-13.8z"/><path d="M1863.6,1095.2l6.9,-13.8h-13.8z"/><path d="M1870.1,1095.2l6.9,-13.8h-13.8z"/><path d="M1876.7,1095.2l6.9,-13.8h-13.8z"/><path d="M1883.3,1095.2l6.9,-13.8h-13.8z"/><path d="M1889.9,1095.2l6.9,-13.8h-13.8z"/><path d="M1896.4,1095.2l6.9,-13.8h-13.8z"/><path d="M1861.9,1100.2l6.9,-13.8h-13.8z"/><path d="M1868.4,1100.2l6.9,-13.8h-13.8z"/><path d="M1874.8,1100.2l6.9,-13.8h-13.8z"/><path d="M1881.2,1100.2l6.9,-13.8h-13.8z"/><path d="M1887.7,1100.2l6.9,-13.8h-13.8z"/><path d="M1894.1,1100.2l6.9,-13.8h-13.8z"/><path d="M1900.6,1100.2l6.9,-13.8h-13.8z"/><path d="M1864.7,1104.8l6.9,-13.8h-13.8z"/><path d="M1872.1,1104.8l6.9,-13.8h-13.8z"/><path d="M1879.6,1104.8l6.9,-13.8h-13.8z"/><path d="M1887.0,1104.8l6.9,-13.8h-13.8z"/><path d="M1894.5,1104.8l6.9,-13.8h-13.8z"/><path d="M1860.6,1109.4l6.9,-13.8h-13.8z"/><path d="M1867.9,1109.4l6.9,-13.8h-13.8z"/><path d="M1875.2,1109.4l6.9,-13.8h-13.8z"/><path d="M1882.6,1109.4l6.9,-13.8h-13.8z"/><path d="M1889.9,1109.4l6.9,-13.8h-13.8z"/><path d="M1897.3,1109.4l6.9,-13.8h-13.8z"/><path d="M1863.3,1112.3l6.9,-13.8h-13.8z"/><path d="M1869.6,1112.3l6.9,-13.8h-13.8z"/><path d="M1875.8,1112.3l6.9,-13.8h-13.8z"/><path d="M1882.0,1112.3l6.9,-13.8h-13.8z"/><path d="M1888.3,1112.3l6.9,-13.8h-13.8z"/><path d="M1894.5,1112.3l6.9,-13.8h-13.8z"/><path d="M1860.2,1115.2l6.9,-13.8h-13.8z"/><path d="M1867.2,1115.2l6.9,-13.8h-13.8z"/><path d="M1874.2,1115.2l6.9,-13.8h-13.8z"/><path d="M1881.2,1115.2l6.9,-13.8h-13.8z"/><path d="M1888.3,1115.2l6.9,-13.8h-13.8z"/><path d="M1895.3,1115.2l6.9,-13.8h-13.8z"/><path d="M1902.3,1115.2l6.9,-13.8h-13.8z"/><path d="M1858.9,1118.6l6.9,-13.8h-13.8z"/><path d="M1865.7,1118.6l6.9,-13.8h-13.8z"/><path d="M1872.5,1118.6l6.9,-13.8h-13.8z"/><path d="M1879.3,1118.6l6.9,-13.8h-13.8z"/><path d="M1886.1,1118.6l6.9,-13.8h-13.8z"/><path d="M1893.0,1118.6l6.9,-13.8h-13.8z"/><path d="M1899.8,1118.6l6.9,-13.8h-13.8z"/><path d="M1868.0,1121.9l6.9,-13.8h-13.8z"/><path d="M1874.0,1121.9l6.9,-13.8h-13.8z"/><path d="M1880.0,1121.9l6.9,-13.8h-13.8z"/><path d="M1886.0,1121.9l6.9,-13.8h-13.8z"/><path d="M1892.0,1121.9l6.9,-13.8h-13.8z"/><path d="M1865.2,1125.2l6.9,-13.8h-13.8z"/><path d="M1872.6,1125.2l6.9,-13.8h-13.8z"/><path d="M1880.0,1125.2l6.9,-13.8h-13.8z"/><path d="M1887.4,1125.2l6.9,-13.8h-13.8z"/><path d="M1894.8,1125.2l6.9,-13.8h-13.8z"/><path d="M1871.3,1128.6l6.9,-13.8h-13.8z"/><path d="M1877.1,1128.6l6.9,-13.8h-13.8z"/><path d="M1882.9,1128.6l6.9,-13.8h-13.8z"/><path d="M1888.7,1128.6l6.9,-13.8h-13.8z"/><path d="M1868.6,1131.9l6.9,-13.8h-13.8z"/><path d="M1874.3,1131.9l6.9,-13.8h-13.8z"/><path d="M1880.0,1131.9l6.9,-13.8h-13.8z"/><path d="M1885.7,1131.9l6.9,-13.8h-13.8z"/><path d="M1891.4,1131.9l6.9,-13.8h-13.8z"/><path d="M1881.7,1146.1l6.9,-13.8h-13.8z"/><path d="M1879.2,1153.1l6.9,-13.8h-13.8z"/></g>
<line x1="1500.60" y1="915.55" x2="1500.60" y2="1369.85" stroke="#000" stroke-width="4.5" stroke-linecap="butt"/>
<line x1="1480.20" y1="1367.60" x2="1953.00" y2="1367.60" stroke="#000" stroke-width="4.5" stroke-linecap="butt"/>
<line x1="1480.20" y1="917.80" x2="1500.60" y2="917.80" stroke="#000" stroke-width="4.5" stroke-linecap="butt"/>
<line x1="1480.20" y1="1007.76" x2="1500.60" y2="1007.76" stroke="#000" stroke-width="4.5" stroke-linecap="butt"/>
<line x1="1480.20" y1="1097.72" x2="1500.60" y2="1097.72" stroke="#000" stroke-width="4.5" stroke-linecap="butt"/>
<line x1="1480.20" y1="1187.68" x2="1500.60" y2="1187.68" stroke="#000" stroke-width="4.5" stroke-linecap="butt"/>
<line x1="1480.20" y1="1277.64" x2="1500.60" y2="1277.64" stroke="#000" stroke-width="4.5" stroke-linecap="butt"/>
<line x1="1569.60" y1="1367.60" x2="1569.60" y2="1388.60" stroke="#000" stroke-width="4.5" stroke-linecap="butt"/>
<line x1="1672.90" y1="1367.60" x2="1672.90" y2="1388.60" stroke="#000" stroke-width="4.5" stroke-linecap="butt"/>
<line x1="1777.00" y1="1367.60" x2="1777.00" y2="1388.60" stroke="#000" stroke-width="4.5" stroke-linecap="butt"/>
<line x1="1880.60" y1="1367.60" x2="1880.60" y2="1388.60" stroke="#000" stroke-width="4.5" stroke-linecap="butt"/>
<text transform="translate(1436.97,931.20) scale(1,1.0450)" font-family='"Liberation Sans", Arial, sans-serif' font-weight="bold" font-size="34.50">50</text>
<text transform="translate(1436.62,1021.16) scale(1,1.0450)" font-family='"Liberation Sans", Arial, sans-serif' font-weight="bold" font-size="34.50">45</text>
<text transform="translate(1436.97,1111.12) scale(1,1.0450)" font-family='"Liberation Sans", Arial, sans-serif' font-weight="bold" font-size="34.50">40</text>
<text transform="translate(1436.62,1201.08) scale(1,1.0450)" font-family='"Liberation Sans", Arial, sans-serif' font-weight="bold" font-size="34.50">35</text>
<text transform="translate(1436.97,1291.04) scale(1,1.0450)" font-family='"Liberation Sans", Arial, sans-serif' font-weight="bold" font-size="34.50">30</text>
<text transform="translate(1436.62,1381.00) scale(1,1.0450)" font-family='"Liberation Sans", Arial, sans-serif' font-weight="bold" font-size="34.50">25</text>
<text transform="translate(1557.14,1425.60) scale(1,1.0600)" font-family='"Liberation Sans", Arial, sans-serif' font-weight="bold" font-size="34.50">A</text>
<text transform="translate(1660.44,1425.60) scale(1,1.0600)" font-family='"Liberation Sans", Arial, sans-serif' font-weight="bold" font-size="34.50">B</text>
<text transform="translate(1764.54,1425.60) scale(1,1.0600)" font-family='"Liberation Sans", Arial, sans-serif' font-weight="bold" font-size="34.50">C</text>
<text transform="translate(1868.14,1425.60) scale(1,1.0600)" font-family='"Liberation Sans", Arial, sans-serif' font-weight="bold" font-size="34.50">D</text>
<text transform="translate(1696.22,1476.50) scale(1,1.0500)" font-family='"Liberation Sans", Arial, sans-serif' font-weight="normal" font-size="40.80" letter-spacing="2.14">(F)</text>
<text transform="translate(1696.32,822.00) scale(1,1.0700)" font-family='"Liberation Serif", "Times New Roman", serif' font-weight="bold" font-size="33.55">C-T</text>
<text transform="translate(1412.10,1370.50) rotate(-90)" x="-1.53" y="0" font-family='"Liberation Serif", "Times New Roman", serif' font-weight="bold" font-size="30.62">Coronary relaxation time constant</text>
<path d="M1620.00,1007.30 V886.90 H1830.40 V900.00" fill="none" stroke="#000" stroke-width="4.5" stroke-linejoin="round" stroke-linecap="butt"/>
<path d="M1778.30,1025.20 V940.60 H1882.10 V956.00" fill="none" stroke="#000" stroke-width="4.5" stroke-linejoin="round" stroke-linecap="butt"/>
<path d="M1570.10,1099.40 V1057.00 H1669.80 V1068.00" fill="none" stroke="#000" stroke-width="4.5" stroke-linejoin="round" stroke-linecap="butt"/>
<text transform="translate(1692.87,874.92) scale(0.9011,1)" font-family='"DejaVu Sans", "Liberation Sans", sans-serif' font-weight="bold" font-size="29.35" letter-spacing="3.25">***</text>
<text transform="translate(1798.97,928.62) scale(0.9011,1)" font-family='"DejaVu Sans", "Liberation Sans", sans-serif' font-weight="bold" font-size="29.35" letter-spacing="3.08">***</text>
<text transform="translate(1587.97,1045.02) scale(0.9011,1)" font-family='"DejaVu Sans", "Liberation Sans", sans-serif' font-weight="bold" font-size="29.35" letter-spacing="2.80">***</text>
</svg>
</body></html>
